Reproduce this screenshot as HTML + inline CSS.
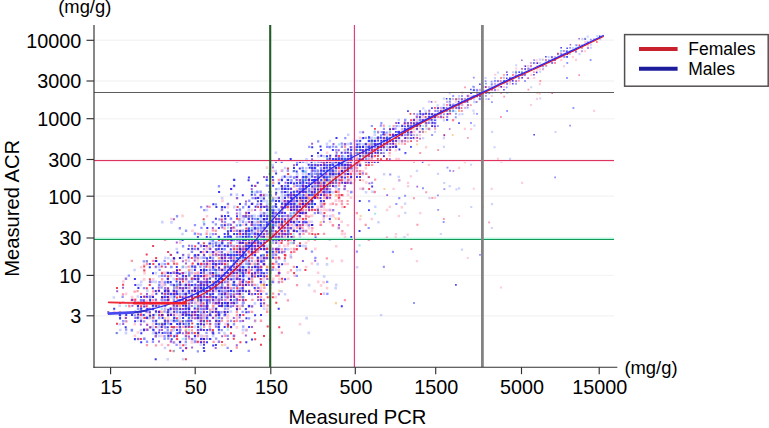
<!DOCTYPE html>
<html><head><meta charset="utf-8"><title>Measured ACR vs Measured PCR</title>
<style>
html,body{margin:0;padding:0;background:#fff;}
body{width:769px;height:428px;overflow:hidden;}
svg{display:block;font-family:"Liberation Sans",sans-serif;}
</style></head><body>
<svg width="769" height="428" viewBox="0 0 769 428">
<rect width="769" height="428" fill="#fff"/>
<g stroke="#f5f5f5" stroke-width="1.4"><line x1="95" x2="614" y1="40.3" y2="40.3"/><line x1="95" x2="614" y1="81.0" y2="81.0"/><line x1="95" x2="614" y1="118.7" y2="118.7"/><line x1="95" x2="614" y1="159.5" y2="159.5"/><line x1="95" x2="614" y1="196.2" y2="196.2"/><line x1="95" x2="614" y1="238.0" y2="238.0"/><line x1="95" x2="614" y1="275.4" y2="275.4"/><line x1="95" x2="614" y1="315.8" y2="315.8"/></g>
<g><path fill="#f0102c" fill-opacity="0.80" d="M182.3,287.3h2.0v2.0h-2.0zM343.7,167.1h2.0v2.0h-2.0zM292.9,220.7h2.0v2.0h-2.0zM176.2,304.7h2.0v2.0h-2.0zM281.0,239.4h2.0v2.0h-2.0zM323.3,193.9h2.0v2.0h-2.0zM191.7,262.5h2.0v2.0h-2.0zM176.0,296.4h2.0v2.0h-2.0zM194.2,245.3h2.0v2.0h-2.0zM244.7,248.2h2.0v2.0h-2.0zM299.1,206.0h2.0v2.0h-2.0zM193.9,332.1h2.0v2.0h-2.0zM305.0,199.9h2.0v2.0h-2.0zM340.6,193.9h2.0v2.0h-2.0zM173.2,293.1h2.0v2.0h-2.0zM557.3,53.0h1.5v1.5h-1.5zM242.1,284.4h2.0v2.0h-2.0zM293.1,271.9h2.0v2.0h-2.0zM202.6,302.3h2.0v2.0h-2.0zM455.3,98.7h1.6v1.6h-1.6zM280.9,217.9h2.0v2.0h-2.0zM317.1,194.0h2.0v2.0h-2.0zM358.6,151.9h1.9v1.9h-1.9zM226.8,239.1h2.0v2.0h-2.0zM407.5,128.5h1.7v1.7h-1.7zM221.4,239.4h2.0v2.0h-2.0zM376.8,143.0h1.8v1.8h-1.8zM173.2,325.9h2.0v2.0h-2.0zM289.9,208.9h2.0v2.0h-2.0zM274.9,248.1h2.0v2.0h-2.0zM247.7,250.5h2.0v2.0h-2.0zM215.2,274.4h2.0v2.0h-2.0zM244.9,214.8h2.0v2.0h-2.0zM433.9,116.0h1.7v1.7h-1.7zM329.1,173.1h2.0v2.0h-2.0zM209.2,322.9h2.0v2.0h-2.0zM236.5,268.9h2.0v2.0h-2.0zM278.1,271.7h2.0v2.0h-2.0zM361.9,149.5h1.9v1.9h-1.9zM181.4,272.3h2.0v2.0h-2.0zM440.0,110.3h1.6v1.6h-1.6zM232.7,293.4h2.0v2.0h-2.0zM394.9,134.1h1.8v1.8h-1.8zM200.0,304.4h2.0v2.0h-2.0zM116.0,287.0h2.0v2.0h-2.0zM238.9,248.3h2.0v2.0h-2.0zM371.0,161.1h1.9v1.9h-1.9zM215.0,302.1h2.0v2.0h-2.0zM145.8,287.3h2.0v2.0h-2.0zM377.1,146.0h1.8v1.8h-1.8zM251.0,242.2h2.0v2.0h-2.0zM596.1,41.2h1.5v1.5h-1.5zM191.2,295.9h2.0v2.0h-2.0zM278.2,326.3h2.0v2.0h-2.0zM185.0,304.5h2.0v2.0h-2.0zM337.8,167.0h2.0v2.0h-2.0zM347.4,161.1h1.9v1.9h-1.9zM343.6,205.9h2.0v2.0h-2.0zM316.3,196.6h2.0v2.0h-2.0zM551.4,92.2h1.5v1.5h-1.5zM203.4,274.8h2.0v2.0h-2.0zM424.7,116.0h1.7v1.7h-1.7zM188.0,283.8h2.0v2.0h-2.0zM376.9,157.9h1.8v1.8h-1.8zM199.9,281.2h2.0v2.0h-2.0zM217.6,322.8h2.0v2.0h-2.0zM271.9,220.9h2.0v2.0h-2.0zM374.0,127.9h1.9v1.9h-1.9zM140.1,305.2h2.0v2.0h-2.0zM317.3,185.0h2.0v2.0h-2.0zM236.1,272.0h2.0v2.0h-2.0zM304.9,217.7h2.0v2.0h-2.0zM166.9,299.2h2.0v2.0h-2.0zM182.0,280.6h2.0v2.0h-2.0zM311.1,191.1h2.0v2.0h-2.0zM404.3,137.4h1.7v1.7h-1.7zM409.6,113.1h1.7v1.7h-1.7zM167.1,275.2h2.0v2.0h-2.0zM262.9,245.0h2.0v2.0h-2.0zM271.9,296.2h2.0v2.0h-2.0zM283.8,230.0h2.0v2.0h-2.0zM299.1,211.8h2.0v2.0h-2.0zM389.4,134.1h1.8v1.8h-1.8zM302.0,206.1h2.0v2.0h-2.0zM221.0,341.1h2.0v2.0h-2.0zM158.1,314.1h2.0v2.0h-2.0zM236.1,217.8h2.0v2.0h-2.0zM181.9,320.2h2.0v2.0h-2.0zM145.6,316.9h2.0v2.0h-2.0zM134.2,298.7h2.0v2.0h-2.0zM377.1,155.1h1.8v1.8h-1.8zM284.4,254.6h2.0v2.0h-2.0zM260.0,233.1h2.0v2.0h-2.0zM313.6,193.8h2.0v2.0h-2.0zM175.9,317.3h2.0v2.0h-2.0zM334.9,179.0h2.0v2.0h-2.0zM206.0,295.9h2.0v2.0h-2.0zM284.2,202.7h2.0v2.0h-2.0zM283.9,254.0h2.0v2.0h-2.0zM193.7,290.3h2.0v2.0h-2.0zM368.0,155.2h1.9v1.9h-1.9zM296.1,217.9h2.0v2.0h-2.0zM149.2,302.3h2.0v2.0h-2.0zM374.0,149.0h1.9v1.9h-1.9zM358.7,172.8h1.9v1.9h-1.9zM230.0,332.2h2.0v2.0h-2.0zM190.9,277.5h2.0v2.0h-2.0zM220.8,253.9h2.0v2.0h-2.0zM172.8,302.1h2.0v2.0h-2.0zM304.8,203.0h2.0v2.0h-2.0zM251.2,250.9h2.0v2.0h-2.0zM160.8,265.5h2.0v2.0h-2.0zM199.9,263.0h2.0v2.0h-2.0zM266.7,296.2h2.0v2.0h-2.0zM301.8,224.1h2.0v2.0h-2.0zM184.9,358.3h2.0v2.0h-2.0zM193.9,313.9h2.0v2.0h-2.0zM212.2,299.0h2.0v2.0h-2.0zM199.8,287.4h2.0v2.0h-2.0zM293.0,229.9h2.0v2.0h-2.0zM283.9,257.3h2.0v2.0h-2.0zM229.7,241.9h2.0v2.0h-2.0zM197.1,299.4h2.0v2.0h-2.0zM317.6,181.9h2.0v2.0h-2.0zM184.6,296.3h2.0v2.0h-2.0zM311.1,199.5h2.0v2.0h-2.0zM242.0,272.0h2.0v2.0h-2.0zM349.7,182.2h1.9v1.9h-1.9zM407.1,124.7h1.7v1.7h-1.7zM266.7,325.4h2.0v2.0h-2.0zM329.3,194.0h2.0v2.0h-2.0zM203.3,245.1h2.0v2.0h-2.0zM232.8,337.7h2.0v2.0h-2.0zM239.2,233.0h2.0v2.0h-2.0zM251.2,241.8h2.0v2.0h-2.0zM461.1,98.2h1.6v1.6h-1.6zM166.9,295.9h2.0v2.0h-2.0zM286.9,233.3h2.0v2.0h-2.0zM248.7,262.9h2.0v2.0h-2.0zM305.5,196.8h2.0v2.0h-2.0zM167.1,251.0h2.0v2.0h-2.0zM323.5,202.8h2.0v2.0h-2.0zM232.6,226.5h2.0v2.0h-2.0zM371.2,148.8h1.9v1.9h-1.9zM173.1,262.8h2.0v2.0h-2.0zM424.9,119.3h1.7v1.7h-1.7zM322.8,185.0h2.0v2.0h-2.0zM395.2,140.0h1.8v1.8h-1.8zM266.1,257.0h2.0v2.0h-2.0zM199.9,286.7h2.0v2.0h-2.0zM209.5,295.7h2.0v2.0h-2.0zM281.2,226.7h2.0v2.0h-2.0zM260.2,266.0h2.0v2.0h-2.0zM331.9,181.9h2.0v2.0h-2.0zM143.4,317.1h2.0v2.0h-2.0zM316.9,209.2h2.0v2.0h-2.0zM178.7,268.9h2.0v2.0h-2.0zM236.4,287.3h2.0v2.0h-2.0zM265.9,275.2h2.0v2.0h-2.0zM500.3,86.1h1.5v1.5h-1.5zM302.1,185.5h2.0v2.0h-2.0zM218.0,280.9h2.0v2.0h-2.0zM374.2,155.0h1.8v1.8h-1.8zM350.1,176.3h1.9v1.9h-1.9zM392.0,146.1h1.8v1.8h-1.8zM236.6,206.0h2.0v2.0h-2.0zM262.7,194.2h2.0v2.0h-2.0zM161.0,323.1h2.0v2.0h-2.0zM119.1,302.0h2.0v2.0h-2.0zM212.0,292.8h2.0v2.0h-2.0zM199.7,299.0h2.0v2.0h-2.0zM220.8,218.5h2.0v2.0h-2.0zM263.1,233.1h2.0v2.0h-2.0zM284.0,220.6h2.0v2.0h-2.0zM241.9,259.9h2.0v2.0h-2.0zM392.2,134.1h1.8v1.8h-1.8zM304.9,206.0h2.0v2.0h-2.0zM443.5,134.2h1.6v1.6h-1.6zM470.2,92.1h1.5v1.5h-1.5zM275.4,250.8h2.0v2.0h-2.0zM283.9,190.9h2.0v2.0h-2.0zM578.6,44.6h1.5v1.5h-1.5zM484.9,86.5h1.5v1.5h-1.5zM268.9,251.2h2.0v2.0h-2.0zM275.3,301.7h2.0v2.0h-2.0zM298.9,197.1h2.0v2.0h-2.0zM386.0,158.1h1.8v1.8h-1.8zM311.1,208.8h2.0v2.0h-2.0zM311.3,232.9h2.0v2.0h-2.0zM337.8,196.7h2.0v2.0h-2.0zM161.3,302.3h2.0v2.0h-2.0zM362.4,155.0h1.9v1.9h-1.9zM202.8,319.7h2.0v2.0h-2.0zM272.0,224.4h2.0v2.0h-2.0zM190.7,296.1h2.0v2.0h-2.0zM392.2,142.5h1.8v1.8h-1.8zM143.2,265.5h2.0v2.0h-2.0zM224.2,266.2h2.0v2.0h-2.0zM239.1,251.1h2.0v2.0h-2.0zM328.9,185.1h2.0v2.0h-2.0zM191.2,326.0h2.0v2.0h-2.0zM410.2,140.3h1.7v1.7h-1.7zM200.3,262.9h2.0v2.0h-2.0zM190.8,325.9h2.0v2.0h-2.0zM179.1,257.1h2.0v2.0h-2.0zM188.0,283.7h2.0v2.0h-2.0zM292.9,230.0h2.0v2.0h-2.0zM236.0,266.1h2.0v2.0h-2.0zM188.1,313.7h2.0v2.0h-2.0zM116.0,322.8h2.0v2.0h-2.0zM215.0,307.9h2.0v2.0h-2.0zM203.2,290.0h2.0v2.0h-2.0zM196.9,293.2h2.0v2.0h-2.0zM203.1,338.1h2.0v2.0h-2.0zM250.8,223.6h2.0v2.0h-2.0zM299.4,203.0h2.0v2.0h-2.0zM235.9,260.0h2.0v2.0h-2.0zM328.9,161.0h2.0v2.0h-2.0zM383.0,136.9h1.8v1.8h-1.8zM263.0,335.0h2.0v2.0h-2.0zM254.0,275.4h2.0v2.0h-2.0zM485.1,86.3h1.5v1.5h-1.5zM265.7,230.0h2.0v2.0h-2.0zM169.3,349.8h2.0v2.0h-2.0zM298.7,191.0h2.0v2.0h-2.0zM346.8,175.9h1.9v1.9h-1.9zM148.8,283.9h2.0v2.0h-2.0zM175.9,335.3h2.0v2.0h-2.0zM139.9,338.0h2.0v2.0h-2.0zM251.1,221.1h2.0v2.0h-2.0zM164.0,290.0h2.0v2.0h-2.0zM346.5,181.8h1.9v1.9h-1.9zM170.0,254.1h2.0v2.0h-2.0zM311.0,224.0h2.0v2.0h-2.0zM299.0,203.0h2.0v2.0h-2.0zM319.6,185.2h2.0v2.0h-2.0zM172.8,257.2h2.0v2.0h-2.0zM253.6,241.7h2.0v2.0h-2.0zM460.8,107.2h1.6v1.6h-1.6zM286.9,206.0h2.0v2.0h-2.0zM143.3,269.4h2.0v2.0h-2.0zM208.4,296.0h2.0v2.0h-2.0zM340.6,179.2h2.0v2.0h-2.0zM227.0,286.8h2.0v2.0h-2.0zM145.6,305.3h2.0v2.0h-2.0zM338.1,155.0h2.0v2.0h-2.0zM247.8,271.8h2.0v2.0h-2.0zM278.2,233.0h2.0v2.0h-2.0zM211.9,329.0h2.0v2.0h-2.0zM316.7,184.9h2.0v2.0h-2.0zM164.2,292.7h2.0v2.0h-2.0zM320.0,293.1h2.0v2.0h-2.0zM248.0,259.8h2.0v2.0h-2.0zM322.6,161.4h2.0v2.0h-2.0zM163.8,293.0h2.0v2.0h-2.0zM368.0,176.2h1.9v1.9h-1.9zM365.2,164.2h1.9v1.9h-1.9zM287.3,239.1h2.0v2.0h-2.0zM199.8,320.2h2.0v2.0h-2.0zM380.5,152.2h1.8v1.8h-1.8zM269.1,202.8h2.0v2.0h-2.0zM233.3,248.1h2.0v2.0h-2.0zM247.8,244.9h2.0v2.0h-2.0zM242.1,299.2h2.0v2.0h-2.0zM238.9,293.1h2.0v2.0h-2.0zM199.4,296.0h2.0v2.0h-2.0zM227.0,283.8h2.0v2.0h-2.0zM170.6,326.1h2.0v2.0h-2.0zM416.4,137.0h1.7v1.7h-1.7zM302.0,218.0h2.0v2.0h-2.0zM217.7,313.5h2.0v2.0h-2.0zM244.8,299.0h2.0v2.0h-2.0zM223.9,286.9h2.0v2.0h-2.0zM319.8,188.1h2.0v2.0h-2.0zM242.3,313.9h2.0v2.0h-2.0zM269.1,296.1h2.0v2.0h-2.0zM238.9,230.1h2.0v2.0h-2.0zM268.8,220.6h2.0v2.0h-2.0zM283.6,200.0h2.0v2.0h-2.0zM296.1,224.0h2.0v2.0h-2.0zM368.2,188.0h1.9v1.9h-1.9zM131.3,298.9h2.0v2.0h-2.0zM389.1,128.2h1.8v1.8h-1.8zM334.8,190.8h2.0v2.0h-2.0zM239.4,341.3h2.0v2.0h-2.0zM331.8,182.1h2.0v2.0h-2.0zM230.1,227.1h2.0v2.0h-2.0zM221.1,305.3h2.0v2.0h-2.0zM280.5,242.1h2.0v2.0h-2.0zM173.1,290.4h2.0v2.0h-2.0zM248.0,266.2h2.0v2.0h-2.0zM263.0,283.8h2.0v2.0h-2.0zM296.5,215.1h2.0v2.0h-2.0zM314.3,194.4h2.0v2.0h-2.0zM266.0,254.2h2.0v2.0h-2.0zM152.1,245.1h2.0v2.0h-2.0zM382.6,146.1h1.8v1.8h-1.8zM272.3,266.2h2.0v2.0h-2.0zM185.0,299.1h2.0v2.0h-2.0zM353.2,160.9h1.9v1.9h-1.9zM313.8,196.4h2.0v2.0h-2.0zM352.8,170.0h1.9v1.9h-1.9zM262.9,218.0h2.0v2.0h-2.0zM140.0,313.7h2.0v2.0h-2.0zM259.6,266.3h2.0v2.0h-2.0zM275.4,218.0h2.0v2.0h-2.0zM250.7,224.0h2.0v2.0h-2.0zM419.1,122.3h1.7v1.7h-1.7zM152.3,262.9h2.0v2.0h-2.0zM170.1,313.8h2.0v2.0h-2.0zM338.4,181.9h2.0v2.0h-2.0zM176.1,338.1h2.0v2.0h-2.0zM236.0,308.3h2.0v2.0h-2.0zM259.7,277.9h2.0v2.0h-2.0zM206.2,262.8h2.0v2.0h-2.0zM190.8,257.1h2.0v2.0h-2.0zM149.4,326.3h2.0v2.0h-2.0zM188.1,284.1h2.0v2.0h-2.0zM193.6,311.2h2.0v2.0h-2.0zM230.0,326.2h2.0v2.0h-2.0zM169.9,334.7h2.0v2.0h-2.0zM257.2,292.9h2.0v2.0h-2.0zM289.9,233.1h2.0v2.0h-2.0zM206.1,320.0h2.0v2.0h-2.0zM335.3,190.9h2.0v2.0h-2.0zM359.1,179.2h1.9v1.9h-1.9zM158.3,301.9h2.0v2.0h-2.0zM281.2,224.4h2.0v2.0h-2.0zM449.4,112.9h1.6v1.6h-1.6zM184.9,284.1h2.0v2.0h-2.0zM304.9,247.7h2.0v2.0h-2.0zM299.6,199.5h2.0v2.0h-2.0zM284.0,226.7h2.0v2.0h-2.0zM250.7,224.0h2.0v2.0h-2.0zM479.2,95.2h1.5v1.5h-1.5zM325.8,187.8h2.0v2.0h-2.0zM161.4,313.9h2.0v2.0h-2.0zM175.6,278.0h2.0v2.0h-2.0zM196.9,296.3h2.0v2.0h-2.0zM254.0,236.0h2.0v2.0h-2.0zM286.6,206.2h2.0v2.0h-2.0zM346.9,167.4h1.9v1.9h-1.9zM442.7,116.6h1.6v1.6h-1.6zM314.1,209.1h2.0v2.0h-2.0zM344.2,169.9h1.9v1.9h-1.9zM304.4,269.1h2.0v2.0h-2.0zM271.7,262.8h2.0v2.0h-2.0zM352.9,182.2h1.9v1.9h-1.9zM361.9,152.0h1.9v1.9h-1.9zM332.0,173.0h2.0v2.0h-2.0zM236.3,305.2h2.0v2.0h-2.0zM145.7,253.6h2.0v2.0h-2.0zM272.0,226.7h2.0v2.0h-2.0zM154.9,326.0h2.0v2.0h-2.0zM416.3,127.9h1.7v1.7h-1.7zM260.0,343.8h2.0v2.0h-2.0zM283.9,233.1h2.0v2.0h-2.0zM280.8,221.7h2.0v2.0h-2.0zM161.3,296.4h2.0v2.0h-2.0zM334.9,176.2h2.0v2.0h-2.0zM172.6,304.5h2.0v2.0h-2.0zM241.5,271.8h2.0v2.0h-2.0zM143.4,295.8h2.0v2.0h-2.0zM181.5,302.0h2.0v2.0h-2.0zM193.3,277.8h2.0v2.0h-2.0zM281.4,208.5h2.0v2.0h-2.0zM349.5,163.9h1.9v1.9h-1.9zM257.0,245.0h2.0v2.0h-2.0zM226.9,325.7h2.0v2.0h-2.0zM161.0,272.3h2.0v2.0h-2.0zM338.5,179.3h2.0v2.0h-2.0zM316.7,184.8h2.0v2.0h-2.0zM314.3,233.4h2.0v2.0h-2.0zM239.3,229.8h2.0v2.0h-2.0zM521.2,68.1h1.5v1.5h-1.5zM179.1,296.1h2.0v2.0h-2.0zM251.2,238.9h2.0v2.0h-2.0zM182.2,344.3h2.0v2.0h-2.0zM202.9,242.2h2.0v2.0h-2.0zM181.8,308.1h2.0v2.0h-2.0zM253.8,332.1h2.0v2.0h-2.0zM200.2,262.8h2.0v2.0h-2.0zM263.1,256.9h2.0v2.0h-2.0zM295.9,248.3h2.0v2.0h-2.0zM179.2,302.0h2.0v2.0h-2.0zM389.3,149.3h1.8v1.8h-1.8zM322.8,190.9h2.0v2.0h-2.0zM212.2,298.9h2.0v2.0h-2.0zM350.1,164.3h1.9v1.9h-1.9zM230.5,301.9h2.0v2.0h-2.0zM167.2,313.9h2.0v2.0h-2.0zM275.0,230.5h2.0v2.0h-2.0zM383.1,139.7h1.8v1.8h-1.8zM155.2,305.1h2.0v2.0h-2.0zM236.2,248.3h2.0v2.0h-2.0zM200.1,287.4h2.0v2.0h-2.0zM256.6,262.9h2.0v2.0h-2.0zM155.1,257.0h2.0v2.0h-2.0zM268.7,236.2h2.0v2.0h-2.0zM238.8,274.8h2.0v2.0h-2.0zM388.9,133.7h1.8v1.8h-1.8zM277.8,256.5h2.0v2.0h-2.0zM346.7,163.9h1.9v1.9h-1.9zM299.0,202.8h2.0v2.0h-2.0zM500.3,77.3h1.5v1.5h-1.5zM383.7,133.7h1.8v1.8h-1.8zM154.7,260.0h2.0v2.0h-2.0zM245.1,269.2h2.0v2.0h-2.0zM227.1,323.7h2.0v2.0h-2.0zM166.8,272.1h2.0v2.0h-2.0zM287.1,239.3h2.0v2.0h-2.0zM193.9,290.1h2.0v2.0h-2.0zM190.8,296.1h2.0v2.0h-2.0zM223.6,310.8h2.0v2.0h-2.0zM181.7,278.1h2.0v2.0h-2.0zM148.9,278.3h2.0v2.0h-2.0zM302.0,202.4h2.0v2.0h-2.0zM322.9,182.6h2.0v2.0h-2.0zM323.4,212.1h2.0v2.0h-2.0zM206.2,283.8h2.0v2.0h-2.0zM160.8,314.2h2.0v2.0h-2.0zM278.0,197.1h2.0v2.0h-2.0zM187.8,326.1h2.0v2.0h-2.0zM326.2,161.1h2.0v2.0h-2.0zM269.3,238.6h2.0v2.0h-2.0zM226.5,302.0h2.0v2.0h-2.0zM224.0,257.1h2.0v2.0h-2.0zM281.1,277.8h2.0v2.0h-2.0zM290.2,251.3h2.0v2.0h-2.0zM503.3,80.2h1.5v1.5h-1.5zM410.7,130.9h1.7v1.7h-1.7zM247.4,281.5h2.0v2.0h-2.0zM284.0,205.6h2.0v2.0h-2.0zM314.2,182.2h2.0v2.0h-2.0zM214.9,263.0h2.0v2.0h-2.0zM350.1,164.2h1.9v1.9h-1.9zM181.7,271.9h2.0v2.0h-2.0zM239.3,242.1h2.0v2.0h-2.0zM377.1,137.0h1.8v1.8h-1.8zM293.0,239.3h2.0v2.0h-2.0zM367.9,164.2h1.9v1.9h-1.9zM202.7,218.2h2.0v2.0h-2.0zM196.8,340.7h2.0v2.0h-2.0zM256.9,259.7h2.0v2.0h-2.0zM224.2,292.5h2.0v2.0h-2.0zM235.9,262.7h2.0v2.0h-2.0zM185.1,347.3h2.0v2.0h-2.0zM323.7,178.9h2.0v2.0h-2.0zM293.0,193.8h2.0v2.0h-2.0zM359.1,173.1h1.9v1.9h-1.9zM281.2,211.7h2.0v2.0h-2.0zM254.2,242.2h2.0v2.0h-2.0zM236.1,245.1h2.0v2.0h-2.0zM407.2,122.3h1.7v1.7h-1.7zM257.1,275.2h2.0v2.0h-2.0zM167.6,298.7h2.0v2.0h-2.0zM245.3,227.5h2.0v2.0h-2.0zM199.9,281.7h2.0v2.0h-2.0zM188.0,302.5h2.0v2.0h-2.0zM254.2,251.2h2.0v2.0h-2.0zM238.9,284.0h2.0v2.0h-2.0zM215.1,253.5h2.0v2.0h-2.0zM202.9,311.1h2.0v2.0h-2.0zM287.0,167.5h2.0v2.0h-2.0zM253.8,241.6h2.0v2.0h-2.0zM218.0,239.0h2.0v2.0h-2.0zM175.9,269.5h2.0v2.0h-2.0zM172.6,326.2h2.0v2.0h-2.0zM257.1,206.1h2.0v2.0h-2.0zM152.3,316.4h2.0v2.0h-2.0zM365.5,160.7h1.9v1.9h-1.9zM214.9,314.4h2.0v2.0h-2.0zM305.1,176.4h2.0v2.0h-2.0zM317.2,233.0h2.0v2.0h-2.0zM238.7,289.9h2.0v2.0h-2.0zM229.9,269.2h2.0v2.0h-2.0zM220.8,275.1h2.0v2.0h-2.0zM265.7,247.9h2.0v2.0h-2.0zM191.2,322.5h2.0v2.0h-2.0zM410.2,119.3h1.7v1.7h-1.7zM212.2,272.0h2.0v2.0h-2.0zM167.3,262.7h2.0v2.0h-2.0zM557.1,52.7h1.5v1.5h-1.5zM190.7,278.1h2.0v2.0h-2.0zM389.2,140.1h1.8v1.8h-1.8zM167.0,287.2h2.0v2.0h-2.0zM122.1,283.8h2.0v2.0h-2.0zM241.6,241.7h2.0v2.0h-2.0zM212.1,272.5h2.0v2.0h-2.0zM316.6,185.2h2.0v2.0h-2.0zM269.1,235.7h2.0v2.0h-2.0zM281.5,206.6h2.0v2.0h-2.0zM223.9,262.9h2.0v2.0h-2.0zM254.2,338.2h2.0v2.0h-2.0zM268.9,254.0h2.0v2.0h-2.0zM266.1,247.6h2.0v2.0h-2.0zM308.2,209.2h2.0v2.0h-2.0zM287.1,172.9h2.0v2.0h-2.0zM248.0,281.1h2.0v2.0h-2.0zM332.1,170.2h2.0v2.0h-2.0zM371.1,161.0h1.9v1.9h-1.9zM380.1,158.2h1.8v1.8h-1.8zM338.2,196.6h2.0v2.0h-2.0zM434.1,107.0h1.7v1.7h-1.7zM238.7,298.9h2.0v2.0h-2.0zM187.6,332.3h2.0v2.0h-2.0zM245.2,242.2h2.0v2.0h-2.0zM404.5,136.9h1.7v1.7h-1.7zM350.0,173.0h1.9v1.9h-1.9zM233.1,248.1h2.0v2.0h-2.0zM205.5,265.8h2.0v2.0h-2.0zM404.0,131.2h1.8v1.8h-1.8zM212.3,281.0h2.0v2.0h-2.0zM196.7,317.0h2.0v2.0h-2.0zM233.3,320.2h2.0v2.0h-2.0zM281.4,232.9h2.0v2.0h-2.0zM299.0,242.2h2.0v2.0h-2.0zM403.8,122.7h1.8v1.8h-1.8zM350.0,164.2h1.9v1.9h-1.9zM439.9,110.1h1.6v1.6h-1.6zM280.7,223.9h2.0v2.0h-2.0z"/>
<path fill="#f82048" fill-opacity="0.45" d="M203.1,280.8h2.3v2.3h-2.3zM382.7,124.6h2.1v2.1h-2.1zM373.3,155.3h2.2v2.2h-2.2zM244.7,245.1h2.3v2.3h-2.3zM394.7,143.1h2.1v2.1h-2.1zM217.9,266.4h2.3v2.3h-2.3zM343.4,187.8h2.3v2.3h-2.3zM343.9,143.0h2.3v2.3h-2.3zM241.9,283.8h2.3v2.3h-2.3zM304.5,212.1h2.3v2.3h-2.3zM382.8,155.1h2.1v2.1h-2.1zM151.7,298.9h2.3v2.3h-2.3zM341.0,179.0h2.3v2.3h-2.3zM238.9,269.0h2.3v2.3h-2.3zM154.6,331.8h2.3v2.3h-2.3zM260.1,221.0h2.3v2.3h-2.3zM346.5,202.9h2.2v2.2h-2.2zM296.0,209.1h2.3v2.3h-2.3zM377.1,160.5h2.1v2.1h-2.1zM325.7,257.2h2.3v2.3h-2.3zM235.9,251.2h2.3v2.3h-2.3zM292.8,265.8h2.3v2.3h-2.3zM247.6,241.8h2.3v2.3h-2.3zM215.0,286.8h2.3v2.3h-2.3zM367.9,151.8h2.2v2.2h-2.2zM500.2,92.1h1.8v1.8h-1.8zM293.1,250.6h2.3v2.3h-2.3zM425.1,112.8h2.0v2.0h-2.0zM299.3,208.7h2.3v2.3h-2.3zM211.8,274.5h2.3v2.3h-2.3zM199.6,340.6h2.3v2.3h-2.3zM425.3,122.3h2.0v2.0h-2.0zM383.4,137.2h2.1v2.1h-2.1zM184.2,292.8h2.3v2.3h-2.3zM256.7,241.8h2.3v2.3h-2.3zM151.7,295.8h2.3v2.3h-2.3zM242.1,296.0h2.3v2.3h-2.3zM442.9,109.8h1.9v1.9h-1.9zM286.7,214.8h2.3v2.3h-2.3zM223.5,227.2h2.3v2.3h-2.3zM205.9,277.8h2.3v2.3h-2.3zM184.9,334.5h2.3v2.3h-2.3zM439.9,110.3h1.9v1.9h-1.9zM322.8,184.9h2.3v2.3h-2.3zM374.0,149.2h2.1v2.1h-2.1zM325.3,172.8h2.3v2.3h-2.3zM229.9,287.1h2.3v2.3h-2.3zM152.3,313.8h2.3v2.3h-2.3zM163.8,320.3h2.3v2.3h-2.3zM581.0,50.5h1.8v1.8h-1.8zM149.0,281.0h2.3v2.3h-2.3zM248.1,269.1h2.3v2.3h-2.3zM329.0,166.7h2.3v2.3h-2.3zM176.2,277.9h2.3v2.3h-2.3zM224.0,263.4h2.3v2.3h-2.3zM269.2,244.8h2.3v2.3h-2.3zM268.8,338.4h2.3v2.3h-2.3zM323.1,196.7h2.3v2.3h-2.3zM145.9,262.9h2.3v2.3h-2.3zM347.0,158.1h2.2v2.2h-2.2zM247.8,211.7h2.3v2.3h-2.3zM269.0,286.7h2.3v2.3h-2.3zM280.8,232.3h2.3v2.3h-2.3zM355.8,212.0h2.2v2.2h-2.2zM187.7,286.9h2.3v2.3h-2.3zM211.9,295.9h2.3v2.3h-2.3zM383.0,142.9h2.1v2.1h-2.1zM202.9,325.7h2.3v2.3h-2.3zM464.1,86.5h1.8v1.8h-1.8zM434.0,116.0h2.0v2.0h-2.0zM259.8,319.6h2.3v2.3h-2.3zM209.0,329.0h2.3v2.3h-2.3zM431.3,197.0h2.0v2.0h-2.0zM406.4,137.1h2.0v2.0h-2.0zM205.5,232.6h2.3v2.3h-2.3zM349.5,152.3h2.2v2.2h-2.2zM238.0,218.1h2.3v2.3h-2.3zM305.1,202.8h2.3v2.3h-2.3zM235.9,319.6h2.3v2.3h-2.3zM223.8,223.5h2.3v2.3h-2.3zM220.4,262.4h2.3v2.3h-2.3zM145.8,343.9h2.3v2.3h-2.3zM217.8,299.0h2.3v2.3h-2.3zM313.8,179.0h2.3v2.3h-2.3zM197.0,331.5h2.3v2.3h-2.3zM362.2,151.9h2.2v2.2h-2.2zM298.6,191.0h2.3v2.3h-2.3zM266.0,310.6h2.3v2.3h-2.3zM304.9,229.7h2.3v2.3h-2.3zM256.8,229.7h2.3v2.3h-2.3zM301.9,203.1h2.3v2.3h-2.3zM184.7,329.5h2.3v2.3h-2.3zM347.2,179.0h2.2v2.2h-2.2zM337.5,190.6h2.3v2.3h-2.3zM415.9,121.9h2.0v2.0h-2.0zM290.0,205.8h2.3v2.3h-2.3zM412.8,118.9h2.0v2.0h-2.0zM197.1,296.0h2.3v2.3h-2.3zM202.2,304.6h2.3v2.3h-2.3zM419.2,152.1h2.0v2.0h-2.0zM400.7,140.1h2.1v2.1h-2.1zM191.1,313.8h2.3v2.3h-2.3zM205.8,262.6h2.3v2.3h-2.3zM203.1,280.8h2.3v2.3h-2.3zM352.9,160.2h2.2v2.2h-2.2zM238.8,268.8h2.3v2.3h-2.3zM461.0,110.0h1.9v1.9h-1.9zM527.5,88.7h1.8v1.8h-1.8zM199.8,317.2h2.3v2.3h-2.3zM215.0,263.2h2.3v2.3h-2.3zM212.5,340.8h2.3v2.3h-2.3zM215.3,319.6h2.3v2.3h-2.3zM256.8,221.0h2.3v2.3h-2.3zM256.8,241.6h2.3v2.3h-2.3zM202.7,338.0h2.3v2.3h-2.3zM208.4,299.3h2.3v2.3h-2.3zM178.8,283.6h2.3v2.3h-2.3zM196.7,254.0h2.3v2.3h-2.3zM182.0,325.7h2.3v2.3h-2.3zM235.6,346.5h2.3v2.3h-2.3zM320.2,176.0h2.3v2.3h-2.3zM301.6,208.9h2.3v2.3h-2.3zM554.1,61.9h1.8v1.8h-1.8zM293.0,247.8h2.3v2.3h-2.3zM301.4,226.7h2.3v2.3h-2.3zM148.6,307.8h2.3v2.3h-2.3zM167.1,343.9h2.3v2.3h-2.3zM536.4,62.1h1.8v1.8h-1.8zM181.6,301.8h2.3v2.3h-2.3zM290.0,236.0h2.3v2.3h-2.3zM233.1,334.6h2.3v2.3h-2.3zM205.4,244.9h2.3v2.3h-2.3zM179.0,278.2h2.3v2.3h-2.3zM325.6,194.0h2.3v2.3h-2.3zM233.2,269.0h2.3v2.3h-2.3zM470.0,104.2h1.8v1.8h-1.8zM218.0,301.5h2.3v2.3h-2.3zM346.5,199.9h2.2v2.2h-2.2zM334.7,172.5h2.3v2.3h-2.3zM290.1,193.8h2.3v2.3h-2.3zM337.9,170.2h2.3v2.3h-2.3zM308.3,202.6h2.3v2.3h-2.3zM269.0,245.1h2.3v2.3h-2.3zM331.5,167.1h2.3v2.3h-2.3zM214.6,229.6h2.3v2.3h-2.3zM226.7,275.1h2.3v2.3h-2.3zM200.4,263.1h2.3v2.3h-2.3zM397.8,130.8h2.1v2.1h-2.1zM373.6,149.3h2.2v2.2h-2.2zM169.9,322.7h2.3v2.3h-2.3zM292.7,235.7h2.3v2.3h-2.3zM280.7,223.7h2.3v2.3h-2.3zM166.7,262.8h2.3v2.3h-2.3zM211.8,316.7h2.3v2.3h-2.3zM364.7,155.1h2.2v2.2h-2.2zM449.1,110.1h1.9v1.9h-1.9zM172.5,349.9h2.3v2.3h-2.3zM224.1,298.8h2.3v2.3h-2.3zM151.8,259.8h2.3v2.3h-2.3zM214.9,280.5h2.3v2.3h-2.3zM208.9,262.7h2.3v2.3h-2.3zM413.1,121.9h2.0v2.0h-2.0zM298.5,232.9h2.3v2.3h-2.3zM526.7,70.8h1.8v1.8h-1.8zM440.2,116.0h1.9v1.9h-1.9zM199.6,287.0h2.3v2.3h-2.3zM269.0,190.7h2.3v2.3h-2.3zM263.2,286.6h2.3v2.3h-2.3zM259.7,214.8h2.3v2.3h-2.3zM305.0,194.0h2.3v2.3h-2.3zM172.9,271.8h2.3v2.3h-2.3zM259.9,265.5h2.3v2.3h-2.3zM248.1,289.6h2.3v2.3h-2.3zM406.8,130.8h2.0v2.0h-2.0zM320.0,188.1h2.3v2.3h-2.3zM211.6,286.5h2.3v2.3h-2.3zM313.7,187.7h2.3v2.3h-2.3zM178.8,320.3h2.3v2.3h-2.3zM406.8,140.4h2.0v2.0h-2.0zM152.1,290.3h2.3v2.3h-2.3zM215.1,310.8h2.3v2.3h-2.3zM365.0,172.7h2.2v2.2h-2.2zM130.7,259.8h2.3v2.3h-2.3zM367.7,238.9h2.2v2.2h-2.2zM257.0,269.1h2.3v2.3h-2.3zM208.5,298.6h2.3v2.3h-2.3zM466.9,137.0h1.8v1.8h-1.8zM305.1,193.6h2.3v2.3h-2.3zM452.3,119.0h1.9v1.9h-1.9zM292.9,205.5h2.3v2.3h-2.3zM371.1,163.9h2.2v2.2h-2.2zM401.0,139.7h2.1v2.1h-2.1zM488.2,221.5h1.8v1.8h-1.8zM277.7,271.8h2.3v2.3h-2.3zM236.3,292.7h2.3v2.3h-2.3zM341.2,229.9h2.3v2.3h-2.3zM343.8,169.8h2.3v2.3h-2.3zM196.6,341.0h2.3v2.3h-2.3zM226.7,244.6h2.3v2.3h-2.3zM358.3,161.0h2.2v2.2h-2.2zM235.7,197.0h2.3v2.3h-2.3zM281.0,251.0h2.3v2.3h-2.3zM263.0,247.9h2.3v2.3h-2.3zM269.0,203.0h2.3v2.3h-2.3zM437.2,116.1h1.9v1.9h-1.9zM125.3,320.2h2.3v2.3h-2.3zM283.7,238.8h2.3v2.3h-2.3zM247.6,251.3h2.3v2.3h-2.3zM292.5,208.5h2.3v2.3h-2.3zM253.7,283.7h2.3v2.3h-2.3zM409.7,137.1h2.0v2.0h-2.0zM329.2,181.6h2.3v2.3h-2.3zM161.0,278.0h2.3v2.3h-2.3zM326.1,187.8h2.3v2.3h-2.3zM215.1,302.0h2.3v2.3h-2.3zM521.5,74.1h1.8v1.8h-1.8zM257.3,287.0h2.3v2.3h-2.3zM334.7,181.7h2.3v2.3h-2.3zM319.5,223.8h2.3v2.3h-2.3zM337.7,226.6h2.3v2.3h-2.3zM292.9,185.2h2.3v2.3h-2.3zM205.8,307.2h2.3v2.3h-2.3zM457.7,107.1h1.9v1.9h-1.9zM403.9,143.0h2.1v2.1h-2.1zM208.4,205.7h2.3v2.3h-2.3zM191.2,298.5h2.3v2.3h-2.3zM412.9,197.3h2.0v2.0h-2.0zM172.6,271.3h2.3v2.3h-2.3zM364.6,223.8h2.2v2.2h-2.2zM305.1,230.1h2.3v2.3h-2.3zM431.3,124.9h2.0v2.0h-2.0zM221.0,262.6h2.3v2.3h-2.3zM232.9,265.6h2.3v2.3h-2.3zM296.0,205.6h2.3v2.3h-2.3zM262.8,298.7h2.3v2.3h-2.3zM364.9,143.1h2.2v2.2h-2.2zM392.2,133.6h2.1v2.1h-2.1zM217.9,244.9h2.3v2.3h-2.3zM197.2,272.3h2.3v2.3h-2.3zM184.9,259.3h2.3v2.3h-2.3zM289.5,227.2h2.3v2.3h-2.3zM211.7,229.3h2.3v2.3h-2.3zM178.5,301.7h2.3v2.3h-2.3zM280.5,205.5h2.3v2.3h-2.3zM392.6,125.0h2.1v2.1h-2.1zM442.9,218.1h1.9v1.9h-1.9zM238.9,241.8h2.3v2.3h-2.3zM178.9,283.7h2.3v2.3h-2.3zM244.5,247.9h2.3v2.3h-2.3zM299.1,196.8h2.3v2.3h-2.3zM167.0,295.9h2.3v2.3h-2.3zM298.8,224.5h2.3v2.3h-2.3zM242.0,248.2h2.3v2.3h-2.3zM278.0,257.1h2.3v2.3h-2.3zM407.0,130.5h2.0v2.0h-2.0zM467.4,95.2h1.8v1.8h-1.8zM518.0,79.8h1.8v1.8h-1.8zM197.1,332.1h2.3v2.3h-2.3zM323.0,185.1h2.3v2.3h-2.3zM265.9,265.8h2.3v2.3h-2.3zM148.6,313.7h2.3v2.3h-2.3zM274.5,257.1h2.3v2.3h-2.3zM187.8,331.8h2.3v2.3h-2.3zM481.9,98.2h1.8v1.8h-1.8zM280.5,185.0h2.3v2.3h-2.3zM295.9,284.0h2.3v2.3h-2.3zM482.0,206.3h1.8v1.8h-1.8zM260.0,281.1h2.3v2.3h-2.3zM247.5,262.8h2.3v2.3h-2.3zM187.6,265.5h2.3v2.3h-2.3zM169.8,301.7h2.3v2.3h-2.3zM370.4,151.6h2.2v2.2h-2.2zM277.5,218.1h2.3v2.3h-2.3zM410.4,247.9h2.0v2.0h-2.0zM412.9,118.9h2.0v2.0h-2.0zM194.0,272.2h2.3v2.3h-2.3zM272.0,196.8h2.3v2.3h-2.3zM313.7,181.8h2.3v2.3h-2.3zM256.5,232.7h2.3v2.3h-2.3zM341.4,194.1h2.3v2.3h-2.3zM524.3,73.7h1.8v1.8h-1.8zM254.2,289.2h2.3v2.3h-2.3zM355.6,160.9h2.2v2.2h-2.2zM434.2,127.8h1.9v1.9h-1.9zM299.2,226.6h2.3v2.3h-2.3zM343.6,184.9h2.3v2.3h-2.3zM331.8,224.3h2.3v2.3h-2.3zM358.5,152.1h2.2v2.2h-2.2zM515.1,79.9h1.8v1.8h-1.8zM290.0,236.2h2.3v2.3h-2.3zM187.6,296.1h2.3v2.3h-2.3zM316.9,196.9h2.3v2.3h-2.3zM325.6,197.2h2.3v2.3h-2.3zM322.6,190.9h2.3v2.3h-2.3zM383.2,142.9h2.1v2.1h-2.1zM250.9,245.1h2.3v2.3h-2.3zM448.9,112.7h1.9v1.9h-1.9zM259.6,208.6h2.3v2.3h-2.3zM281.3,187.8h2.3v2.3h-2.3zM427.8,127.7h2.0v2.0h-2.0zM343.8,298.9h2.3v2.3h-2.3zM289.9,220.9h2.3v2.3h-2.3zM457.9,107.2h1.9v1.9h-1.9zM268.8,289.8h2.3v2.3h-2.3zM202.1,250.9h2.3v2.3h-2.3zM278.1,223.8h2.3v2.3h-2.3zM230.0,274.9h2.3v2.3h-2.3zM332.2,184.9h2.3v2.3h-2.3zM286.6,214.6h2.3v2.3h-2.3zM353.3,179.0h2.2v2.2h-2.2zM410.1,124.3h2.0v2.0h-2.0zM227.0,280.7h2.3v2.3h-2.3zM238.8,263.0h2.3v2.3h-2.3zM356.1,169.6h2.2v2.2h-2.2zM283.8,236.0h2.3v2.3h-2.3zM455.2,98.0h1.9v1.9h-1.9zM196.7,271.6h2.3v2.3h-2.3zM136.4,289.9h2.3v2.3h-2.3zM340.8,202.7h2.3v2.3h-2.3zM208.6,298.8h2.3v2.3h-2.3zM262.8,247.5h2.3v2.3h-2.3zM220.8,298.7h2.3v2.3h-2.3zM253.7,227.1h2.3v2.3h-2.3zM452.0,107.3h1.9v1.9h-1.9zM416.5,125.2h2.0v2.0h-2.0zM296.0,244.8h2.3v2.3h-2.3zM166.8,319.5h2.3v2.3h-2.3zM211.4,331.5h2.3v2.3h-2.3zM259.4,289.8h2.3v2.3h-2.3zM209.1,271.7h2.3v2.3h-2.3zM352.7,182.1h2.2v2.2h-2.2zM167.1,289.6h2.3v2.3h-2.3zM466.9,104.1h1.8v1.8h-1.8zM584.3,37.9h1.8v1.8h-1.8zM238.7,283.7h2.3v2.3h-2.3zM335.0,172.4h2.3v2.3h-2.3zM340.4,175.6h2.3v2.3h-2.3zM449.2,106.8h1.9v1.9h-1.9zM343.6,173.1h2.3v2.3h-2.3zM175.9,262.7h2.3v2.3h-2.3zM539.4,80.1h1.8v1.8h-1.8zM175.7,308.0h2.3v2.3h-2.3zM307.7,203.0h2.3v2.3h-2.3zM250.9,278.0h2.3v2.3h-2.3zM322.4,202.7h2.3v2.3h-2.3zM416.1,140.0h2.0v2.0h-2.0zM250.9,310.8h2.3v2.3h-2.3zM298.3,202.9h2.3v2.3h-2.3zM226.7,253.8h2.3v2.3h-2.3zM295.5,248.0h2.3v2.3h-2.3zM242.2,215.0h2.3v2.3h-2.3zM175.8,325.9h2.3v2.3h-2.3zM308.0,193.9h2.3v2.3h-2.3zM388.9,148.7h2.1v2.1h-2.1zM185.1,278.0h2.3v2.3h-2.3zM248.0,244.7h2.3v2.3h-2.3zM176.0,325.9h2.3v2.3h-2.3zM184.8,292.8h2.3v2.3h-2.3zM251.1,292.9h2.3v2.3h-2.3zM452.0,104.4h1.9v1.9h-1.9zM202.9,271.8h2.3v2.3h-2.3zM287.0,239.3h2.3v2.3h-2.3zM313.8,179.1h2.3v2.3h-2.3zM302.3,232.7h2.3v2.3h-2.3zM239.3,247.5h2.3v2.3h-2.3zM256.8,250.7h2.3v2.3h-2.3zM277.4,274.5h2.3v2.3h-2.3zM503.1,74.0h1.8v1.8h-1.8zM385.8,236.4h2.1v2.1h-2.1zM205.8,274.7h2.3v2.3h-2.3zM185.2,331.8h2.3v2.3h-2.3zM284.0,205.6h2.3v2.3h-2.3zM266.2,269.0h2.3v2.3h-2.3zM275.1,274.8h2.3v2.3h-2.3zM287.0,223.6h2.3v2.3h-2.3zM175.8,301.8h2.3v2.3h-2.3zM280.9,280.6h2.3v2.3h-2.3zM196.7,277.8h2.3v2.3h-2.3zM128.2,305.1h2.3v2.3h-2.3zM307.8,206.1h2.3v2.3h-2.3zM434.3,115.9h1.9v1.9h-1.9zM251.0,283.6h2.3v2.3h-2.3zM313.5,188.1h2.3v2.3h-2.3zM218.2,257.0h2.3v2.3h-2.3zM145.9,328.6h2.3v2.3h-2.3zM139.6,313.6h2.3v2.3h-2.3zM121.8,293.2h2.3v2.3h-2.3zM158.2,310.6h2.3v2.3h-2.3zM371.1,148.5h2.2v2.2h-2.2zM235.9,286.7h2.3v2.3h-2.3zM248.4,290.4h2.3v2.3h-2.3zM352.9,172.5h2.2v2.2h-2.2zM412.9,124.4h2.0v2.0h-2.0zM290.1,196.5h2.3v2.3h-2.3zM212.2,305.1h2.3v2.3h-2.3zM229.9,229.8h2.3v2.3h-2.3zM175.5,293.1h2.3v2.3h-2.3zM545.0,59.1h1.8v1.8h-1.8zM329.0,175.8h2.3v2.3h-2.3zM175.6,286.4h2.3v2.3h-2.3zM172.9,311.2h2.3v2.3h-2.3zM305.1,214.9h2.3v2.3h-2.3zM242.1,250.6h2.3v2.3h-2.3zM277.8,248.1h2.3v2.3h-2.3zM406.5,134.2h2.0v2.0h-2.0zM154.9,299.1h2.3v2.3h-2.3zM370.8,140.1h2.2v2.2h-2.2zM230.3,287.2h2.3v2.3h-2.3zM298.9,215.4h2.3v2.3h-2.3zM212.0,302.0h2.3v2.3h-2.3zM241.8,238.8h2.3v2.3h-2.3zM320.0,182.2h2.3v2.3h-2.3zM467.0,98.2h1.8v1.8h-1.8zM310.9,208.9h2.3v2.3h-2.3zM233.0,256.5h2.3v2.3h-2.3zM190.9,295.4h2.3v2.3h-2.3zM359.0,163.6h2.2v2.2h-2.2zM310.8,197.0h2.3v2.3h-2.3zM344.2,181.7h2.2v2.2h-2.2zM280.7,331.4h2.3v2.3h-2.3zM346.8,166.7h2.2v2.2h-2.2zM124.6,316.8h2.3v2.3h-2.3zM232.7,245.2h2.3v2.3h-2.3zM272.4,215.2h2.3v2.3h-2.3zM154.8,344.2h2.3v2.3h-2.3zM238.7,250.7h2.3v2.3h-2.3zM464.1,98.0h1.8v1.8h-1.8zM247.7,271.8h2.3v2.3h-2.3zM322.7,184.8h2.3v2.3h-2.3zM305.4,202.9h2.3v2.3h-2.3zM367.9,154.9h2.2v2.2h-2.2zM289.8,269.1h2.3v2.3h-2.3zM154.5,335.0h2.3v2.3h-2.3zM251.2,298.7h2.3v2.3h-2.3zM223.4,277.9h2.3v2.3h-2.3zM404.2,140.0h2.0v2.0h-2.0zM500.0,116.1h1.8v1.8h-1.8zM268.6,206.1h2.3v2.3h-2.3zM256.9,271.5h2.3v2.3h-2.3zM187.8,269.3h2.3v2.3h-2.3zM337.9,184.4h2.3v2.3h-2.3zM370.7,157.6h2.2v2.2h-2.2zM217.8,304.8h2.3v2.3h-2.3zM266.2,268.8h2.3v2.3h-2.3zM188.0,337.4h2.3v2.3h-2.3zM130.5,299.3h2.3v2.3h-2.3zM335.2,203.2h2.3v2.3h-2.3zM317.3,187.9h2.3v2.3h-2.3zM181.3,313.8h2.3v2.3h-2.3zM280.8,248.3h2.3v2.3h-2.3zM157.5,289.5h2.3v2.3h-2.3zM235.6,277.4h2.3v2.3h-2.3zM331.8,178.6h2.3v2.3h-2.3zM256.9,232.9h2.3v2.3h-2.3zM277.9,223.2h2.3v2.3h-2.3zM326.1,178.9h2.3v2.3h-2.3zM415.8,127.8h2.0v2.0h-2.0zM148.9,280.4h2.3v2.3h-2.3zM448.9,110.3h1.9v1.9h-1.9zM199.8,283.4h2.3v2.3h-2.3zM308.1,232.4h2.3v2.3h-2.3zM269.1,271.5h2.3v2.3h-2.3zM238.7,232.5h2.3v2.3h-2.3zM325.9,187.9h2.3v2.3h-2.3zM172.6,260.2h2.3v2.3h-2.3zM404.0,142.8h2.0v2.0h-2.0zM428.1,110.3h2.0v2.0h-2.0zM220.7,280.8h2.3v2.3h-2.3zM250.9,256.8h2.3v2.3h-2.3zM343.6,173.2h2.3v2.3h-2.3zM359.0,169.9h2.2v2.2h-2.2zM434.1,116.2h1.9v1.9h-1.9zM322.8,203.2h2.3v2.3h-2.3zM349.6,164.0h2.2v2.2h-2.2zM374.1,178.6h2.1v2.1h-2.1zM238.8,280.6h2.3v2.3h-2.3zM187.7,331.6h2.3v2.3h-2.3zM287.2,220.9h2.3v2.3h-2.3zM226.6,262.9h2.3v2.3h-2.3zM437.2,149.0h1.9v1.9h-1.9zM241.5,253.8h2.3v2.3h-2.3zM200.3,290.1h2.3v2.3h-2.3zM362.1,187.6h2.2v2.2h-2.2zM277.9,265.4h2.3v2.3h-2.3zM457.8,107.4h1.9v1.9h-1.9zM241.8,238.5h2.3v2.3h-2.3zM232.9,229.7h2.3v2.3h-2.3zM350.0,167.0h2.2v2.2h-2.2zM251.0,274.4h2.3v2.3h-2.3zM230.3,271.9h2.3v2.3h-2.3zM334.9,178.6h2.3v2.3h-2.3zM311.2,227.1h2.3v2.3h-2.3zM337.9,193.8h2.3v2.3h-2.3zM238.6,295.6h2.3v2.3h-2.3zM292.7,202.8h2.3v2.3h-2.3zM313.7,238.8h2.3v2.3h-2.3zM370.7,142.7h2.2v2.2h-2.2zM356.1,157.7h2.2v2.2h-2.2zM238.8,247.6h2.3v2.3h-2.3zM224.2,334.6h2.3v2.3h-2.3zM232.5,221.0h2.3v2.3h-2.3zM245.0,212.0h2.3v2.3h-2.3zM503.3,95.7h1.8v1.8h-1.8zM266.4,304.5h2.3v2.3h-2.3zM209.2,311.1h2.3v2.3h-2.3zM250.7,238.2h2.3v2.3h-2.3zM271.9,292.4h2.3v2.3h-2.3zM268.4,232.7h2.3v2.3h-2.3zM296.2,226.7h2.3v2.3h-2.3zM238.6,259.7h2.3v2.3h-2.3zM209.2,284.3h2.3v2.3h-2.3zM265.8,248.0h2.3v2.3h-2.3zM193.6,331.9h2.3v2.3h-2.3zM179.2,286.9h2.3v2.3h-2.3zM137.1,337.7h2.3v2.3h-2.3zM499.6,80.1h1.8v1.8h-1.8zM277.7,178.8h2.3v2.3h-2.3zM200.1,299.2h2.3v2.3h-2.3zM118.8,311.0h2.3v2.3h-2.3zM287.1,224.1h2.3v2.3h-2.3zM196.7,295.8h2.3v2.3h-2.3zM241.5,280.2h2.3v2.3h-2.3zM304.7,208.8h2.3v2.3h-2.3zM427.8,128.1h2.0v2.0h-2.0zM373.7,190.8h2.2v2.2h-2.2zM209.0,308.5h2.3v2.3h-2.3zM292.9,229.9h2.3v2.3h-2.3zM220.8,319.7h2.3v2.3h-2.3zM343.8,145.7h2.3v2.3h-2.3zM176.2,272.2h2.3v2.3h-2.3zM346.8,179.2h2.2v2.2h-2.2zM226.8,295.6h2.3v2.3h-2.3zM386.0,136.8h2.1v2.1h-2.1zM236.2,277.4h2.3v2.3h-2.3zM445.7,109.8h1.9v1.9h-1.9zM319.9,173.3h2.3v2.3h-2.3zM238.7,307.8h2.3v2.3h-2.3zM533.0,71.3h1.8v1.8h-1.8zM247.8,245.1h2.3v2.3h-2.3zM205.9,322.5h2.3v2.3h-2.3zM442.6,107.5h1.9v1.9h-1.9zM302.0,212.0h2.3v2.3h-2.3zM530.2,64.9h1.8v1.8h-1.8zM272.1,181.7h2.3v2.3h-2.3zM238.9,245.3h2.3v2.3h-2.3zM355.2,148.5h2.2v2.2h-2.2zM275.0,211.8h2.3v2.3h-2.3zM262.7,236.1h2.3v2.3h-2.3zM274.9,217.6h2.3v2.3h-2.3zM253.9,251.3h2.3v2.3h-2.3zM208.6,265.6h2.3v2.3h-2.3zM425.2,191.2h2.0v2.0h-2.0zM206.0,274.3h2.3v2.3h-2.3zM265.9,235.9h2.3v2.3h-2.3zM139.9,292.7h2.3v2.3h-2.3zM371.0,148.8h2.2v2.2h-2.2zM301.5,179.0h2.3v2.3h-2.3zM305.2,175.5h2.3v2.3h-2.3zM205.5,250.6h2.3v2.3h-2.3zM254.2,184.7h2.3v2.3h-2.3zM271.5,233.0h2.3v2.3h-2.3zM314.2,179.0h2.3v2.3h-2.3zM295.9,208.8h2.3v2.3h-2.3zM346.7,161.0h2.2v2.2h-2.2zM320.1,205.8h2.3v2.3h-2.3zM202.8,275.3h2.3v2.3h-2.3zM512.0,74.1h1.8v1.8h-1.8zM250.9,272.2h2.3v2.3h-2.3zM268.9,229.8h2.3v2.3h-2.3zM245.2,236.0h2.3v2.3h-2.3zM322.9,232.8h2.3v2.3h-2.3zM337.7,217.6h2.3v2.3h-2.3zM220.8,274.7h2.3v2.3h-2.3zM349.5,164.3h2.2v2.2h-2.2zM271.9,223.5h2.3v2.3h-2.3zM223.9,238.5h2.3v2.3h-2.3zM418.8,130.7h2.0v2.0h-2.0zM268.9,217.9h2.3v2.3h-2.3zM247.7,241.9h2.3v2.3h-2.3zM238.6,262.8h2.3v2.3h-2.3zM133.5,290.4h2.3v2.3h-2.3zM355.4,166.6h2.2v2.2h-2.2zM208.7,325.5h2.3v2.3h-2.3zM413.0,160.8h2.0v2.0h-2.0zM382.9,143.2h2.1v2.1h-2.1zM196.4,277.9h2.3v2.3h-2.3zM263.3,263.1h2.3v2.3h-2.3zM388.6,151.9h2.1v2.1h-2.1zM269.1,229.9h2.3v2.3h-2.3zM181.8,287.3h2.3v2.3h-2.3zM482.0,101.3h1.8v1.8h-1.8zM340.8,166.9h2.3v2.3h-2.3zM286.6,206.0h2.3v2.3h-2.3zM196.6,307.7h2.3v2.3h-2.3zM260.1,238.8h2.3v2.3h-2.3zM290.0,208.6h2.3v2.3h-2.3zM347.1,160.9h2.2v2.2h-2.2zM179.1,295.6h2.3v2.3h-2.3zM295.6,199.7h2.3v2.3h-2.3zM196.7,335.0h2.3v2.3h-2.3zM287.0,221.0h2.3v2.3h-2.3zM250.6,277.8h2.3v2.3h-2.3zM340.8,199.9h2.3v2.3h-2.3zM373.7,149.1h2.2v2.2h-2.2zM253.9,265.9h2.3v2.3h-2.3zM407.3,133.4h2.0v2.0h-2.0zM214.8,265.4h2.3v2.3h-2.3zM538.8,65.2h1.8v1.8h-1.8zM476.2,92.1h1.8v1.8h-1.8zM446.0,103.9h1.9v1.9h-1.9zM187.7,307.3h2.3v2.3h-2.3zM578.3,74.2h1.8v1.8h-1.8zM437.4,106.9h1.9v1.9h-1.9zM355.8,169.8h2.2v2.2h-2.2zM283.9,253.8h2.3v2.3h-2.3zM409.8,127.8h2.0v2.0h-2.0zM232.8,262.8h2.3v2.3h-2.3zM367.7,155.0h2.2v2.2h-2.2zM236.4,289.7h2.3v2.3h-2.3zM209.0,287.0h2.3v2.3h-2.3zM235.7,272.3h2.3v2.3h-2.3zM277.9,280.9h2.3v2.3h-2.3zM373.8,139.6h2.2v2.2h-2.2zM256.7,259.3h2.3v2.3h-2.3zM178.9,305.1h2.3v2.3h-2.3zM320.0,185.0h2.3v2.3h-2.3zM356.0,157.9h2.2v2.2h-2.2zM175.7,271.9h2.3v2.3h-2.3zM278.0,239.0h2.3v2.3h-2.3zM373.8,151.3h2.2v2.2h-2.2zM262.9,229.9h2.3v2.3h-2.3zM254.0,319.5h2.3v2.3h-2.3zM331.4,181.9h2.3v2.3h-2.3zM229.6,236.0h2.3v2.3h-2.3zM256.6,266.1h2.3v2.3h-2.3zM416.4,223.7h2.0v2.0h-2.0zM310.5,202.6h2.3v2.3h-2.3zM316.7,172.6h2.3v2.3h-2.3zM221.0,268.6h2.3v2.3h-2.3zM307.7,215.4h2.3v2.3h-2.3zM226.8,265.9h2.3v2.3h-2.3zM286.8,299.2h2.3v2.3h-2.3zM241.9,287.2h2.3v2.3h-2.3zM340.6,157.9h2.3v2.3h-2.3zM437.1,115.9h1.9v1.9h-1.9zM368.1,143.2h2.2v2.2h-2.2zM220.8,257.2h2.3v2.3h-2.3zM280.7,226.7h2.3v2.3h-2.3zM421.9,131.1h2.0v2.0h-2.0zM322.8,184.8h2.3v2.3h-2.3zM248.0,271.4h2.3v2.3h-2.3zM139.8,301.6h2.3v2.3h-2.3zM226.7,319.7h2.3v2.3h-2.3zM238.8,281.1h2.3v2.3h-2.3zM251.0,280.7h2.3v2.3h-2.3zM175.7,334.6h2.3v2.3h-2.3zM251.0,305.3h2.3v2.3h-2.3zM388.8,148.7h2.1v2.1h-2.1zM337.8,173.1h2.3v2.3h-2.3zM196.6,256.9h2.3v2.3h-2.3zM259.9,295.8h2.3v2.3h-2.3zM389.3,145.8h2.1v2.1h-2.1zM226.8,292.6h2.3v2.3h-2.3zM272.3,262.9h2.3v2.3h-2.3zM188.0,286.9h2.3v2.3h-2.3zM259.8,236.2h2.3v2.3h-2.3zM271.9,211.8h2.3v2.3h-2.3zM290.4,224.0h2.3v2.3h-2.3zM346.8,167.2h2.2v2.2h-2.2zM289.7,238.9h2.3v2.3h-2.3zM320.0,190.6h2.3v2.3h-2.3zM451.9,119.4h1.9v1.9h-1.9zM235.6,275.0h2.3v2.3h-2.3zM317.0,191.2h2.3v2.3h-2.3zM230.1,238.7h2.3v2.3h-2.3zM395.4,134.3h2.1v2.1h-2.1zM190.7,329.2h2.3v2.3h-2.3zM353.1,160.9h2.2v2.2h-2.2zM295.8,224.0h2.3v2.3h-2.3zM170.2,329.1h2.3v2.3h-2.3zM287.2,242.3h2.3v2.3h-2.3zM415.5,115.8h2.0v2.0h-2.0zM253.6,262.8h2.3v2.3h-2.3zM262.9,236.0h2.3v2.3h-2.3zM256.9,221.0h2.3v2.3h-2.3zM310.9,196.8h2.3v2.3h-2.3zM197.1,232.7h2.3v2.3h-2.3zM352.6,169.7h2.2v2.2h-2.2zM268.9,266.0h2.3v2.3h-2.3zM331.7,202.6h2.3v2.3h-2.3zM212.1,287.1h2.3v2.3h-2.3zM262.5,254.0h2.3v2.3h-2.3zM214.7,247.9h2.3v2.3h-2.3zM421.7,128.4h2.0v2.0h-2.0zM145.8,328.5h2.3v2.3h-2.3zM232.8,257.0h2.3v2.3h-2.3zM190.7,301.8h2.3v2.3h-2.3zM307.3,197.1h2.3v2.3h-2.3zM193.6,289.7h2.3v2.3h-2.3zM241.7,259.7h2.3v2.3h-2.3zM163.9,238.6h2.3v2.3h-2.3zM235.8,313.9h2.3v2.3h-2.3zM481.9,101.2h1.8v1.8h-1.8zM356.0,166.9h2.2v2.2h-2.2zM274.8,236.0h2.3v2.3h-2.3zM235.7,310.9h2.3v2.3h-2.3zM413.3,122.1h2.0v2.0h-2.0zM545.3,64.8h1.8v1.8h-1.8zM341.0,176.2h2.3v2.3h-2.3z"/>
<path fill="#ff4878" fill-opacity="0.28" d="M400.6,134.1h2.4v2.4h-2.4zM145.7,299.4h2.6v2.6h-2.6zM325.8,151.5h2.6v2.6h-2.6zM199.7,319.7h2.6v2.6h-2.6zM338.0,167.0h2.6v2.6h-2.6zM386.3,146.6h2.4v2.4h-2.4zM245.3,241.9h2.6v2.6h-2.6zM235.3,235.8h2.6v2.6h-2.6zM346.9,169.8h2.5v2.5h-2.5zM229.8,304.5h2.6v2.6h-2.6zM202.8,307.8h2.6v2.6h-2.6zM274.7,217.7h2.6v2.6h-2.6zM464.4,106.5h2.1v2.1h-2.1zM298.9,188.0h2.6v2.6h-2.6zM163.5,301.7h2.6v2.6h-2.6zM328.9,220.7h2.6v2.6h-2.6zM346.6,163.5h2.5v2.5h-2.5zM322.7,167.0h2.6v2.6h-2.6zM262.6,259.9h2.6v2.6h-2.6zM226.5,205.9h2.6v2.6h-2.6zM443.0,110.2h2.2v2.2h-2.2zM163.4,325.8h2.6v2.6h-2.6zM205.9,305.0h2.6v2.6h-2.6zM346.6,223.9h2.5v2.5h-2.5zM388.6,131.0h2.4v2.4h-2.4zM206.0,259.5h2.6v2.6h-2.6zM205.8,314.2h2.6v2.6h-2.6zM359.1,187.6h2.5v2.5h-2.5zM221.2,199.6h2.6v2.6h-2.6zM184.9,295.4h2.6v2.6h-2.6zM454.9,106.7h2.2v2.2h-2.2zM289.7,256.0h2.6v2.6h-2.6zM367.6,160.4h2.5v2.5h-2.5zM497.1,82.7h2.1v2.1h-2.1zM253.6,271.9h2.6v2.6h-2.6zM338.0,199.6h2.6v2.6h-2.6zM193.4,247.9h2.6v2.6h-2.6zM151.8,322.8h2.6v2.6h-2.6zM241.9,223.4h2.6v2.6h-2.6zM326.0,187.8h2.6v2.6h-2.6zM365.1,164.1h2.5v2.5h-2.5zM331.9,175.8h2.6v2.6h-2.6zM479.2,89.2h2.1v2.1h-2.1zM277.6,268.4h2.6v2.6h-2.6zM542.0,68.1h2.1v2.1h-2.1zM370.8,145.7h2.5v2.5h-2.5zM151.6,295.7h2.6v2.6h-2.6zM487.7,85.9h2.1v2.1h-2.1zM451.8,106.9h2.2v2.2h-2.2zM173.4,307.8h2.6v2.6h-2.6zM358.7,154.7h2.5v2.5h-2.5zM166.1,331.7h2.6v2.6h-2.6zM319.8,208.7h2.6v2.6h-2.6zM271.9,251.1h2.6v2.6h-2.6zM145.6,316.5h2.6v2.6h-2.6zM394.9,145.7h2.4v2.4h-2.4zM535.7,65.1h2.1v2.1h-2.1zM268.8,226.9h2.6v2.6h-2.6zM280.4,229.6h2.6v2.6h-2.6zM325.8,214.7h2.6v2.6h-2.6zM394.7,232.9h2.4v2.4h-2.4zM215.0,310.7h2.6v2.6h-2.6zM229.7,253.5h2.6v2.6h-2.6zM593.1,109.8h2.1v2.1h-2.1zM283.9,217.7h2.6v2.6h-2.6zM410.0,119.1h2.3v2.3h-2.3zM244.9,229.8h2.6v2.6h-2.6zM421.7,115.6h2.3v2.3h-2.3zM196.9,248.0h2.6v2.6h-2.6zM145.7,295.6h2.6v2.6h-2.6zM370.9,151.9h2.5v2.5h-2.5zM337.8,164.2h2.6v2.6h-2.6zM409.7,175.3h2.3v2.3h-2.3zM295.6,199.6h2.6v2.6h-2.6zM161.0,314.2h2.6v2.6h-2.6zM298.8,217.8h2.6v2.6h-2.6zM394.6,137.2h2.4v2.4h-2.4zM392.0,133.9h2.4v2.4h-2.4zM184.6,310.9h2.6v2.6h-2.6zM283.6,199.5h2.6v2.6h-2.6zM394.7,149.1h2.4v2.4h-2.4zM181.3,214.6h2.6v2.6h-2.6zM497.0,88.8h2.1v2.1h-2.1zM304.4,190.3h2.6v2.6h-2.6zM334.6,199.3h2.6v2.6h-2.6zM248.2,253.3h2.6v2.6h-2.6zM178.9,340.2h2.6v2.6h-2.6zM415.8,259.9h2.3v2.3h-2.3zM329.0,196.8h2.6v2.6h-2.6zM142.9,263.4h2.6v2.6h-2.6zM593.0,38.5h2.1v2.1h-2.1zM427.7,163.8h2.3v2.3h-2.3zM313.7,187.7h2.6v2.6h-2.6zM361.4,172.9h2.5v2.5h-2.5zM520.9,73.5h2.1v2.1h-2.1zM349.7,172.6h2.5v2.5h-2.5zM145.4,307.4h2.6v2.6h-2.6zM271.7,266.1h2.6v2.6h-2.6zM226.4,316.5h2.6v2.6h-2.6zM322.8,193.7h2.6v2.6h-2.6zM232.8,265.6h2.6v2.6h-2.6zM176.0,274.6h2.6v2.6h-2.6zM241.4,319.5h2.6v2.6h-2.6zM364.8,148.2h2.5v2.5h-2.5zM271.7,280.7h2.6v2.6h-2.6zM352.6,170.2h2.5v2.5h-2.5zM553.9,59.0h2.1v2.1h-2.1zM490.8,86.2h2.1v2.1h-2.1zM268.8,283.2h2.6v2.6h-2.6zM400.8,142.7h2.4v2.4h-2.4zM406.5,233.4h2.3v2.3h-2.3zM269.0,259.9h2.6v2.6h-2.6zM559.8,55.8h2.1v2.1h-2.1zM349.5,178.6h2.5v2.5h-2.5zM292.9,229.2h2.6v2.6h-2.6zM274.4,253.8h2.6v2.6h-2.6zM388.6,205.7h2.4v2.4h-2.4zM175.5,289.5h2.6v2.6h-2.6zM136.8,313.6h2.6v2.6h-2.6zM269.2,235.5h2.6v2.6h-2.6zM217.6,244.9h2.6v2.6h-2.6zM340.8,175.5h2.6v2.6h-2.6zM190.5,341.1h2.6v2.6h-2.6zM395.2,134.0h2.4v2.4h-2.4zM382.8,142.9h2.4v2.4h-2.4zM112.8,310.6h2.6v2.6h-2.6zM506.1,82.4h2.1v2.1h-2.1zM247.8,250.7h2.6v2.6h-2.6zM413.0,137.1h2.3v2.3h-2.3zM550.7,56.4h2.1v2.1h-2.1zM382.8,137.0h2.4v2.4h-2.4zM499.8,82.8h2.1v2.1h-2.1zM364.5,148.4h2.5v2.5h-2.5zM196.7,259.5h2.6v2.6h-2.6zM446.1,113.2h2.2v2.2h-2.2zM130.7,298.5h2.6v2.6h-2.6zM208.8,274.2h2.6v2.6h-2.6zM218.2,259.4h2.6v2.6h-2.6zM398.3,179.0h2.4v2.4h-2.4zM535.7,71.0h2.1v2.1h-2.1zM428.1,115.5h2.3v2.3h-2.3zM272.0,247.5h2.6v2.6h-2.6zM187.5,283.7h2.6v2.6h-2.6zM286.4,244.3h2.6v2.6h-2.6zM346.7,178.4h2.5v2.5h-2.5zM490.6,187.8h2.1v2.1h-2.1zM271.7,232.8h2.6v2.6h-2.6zM220.5,259.8h2.6v2.6h-2.6zM232.8,301.9h2.6v2.6h-2.6zM494.2,73.7h2.1v2.1h-2.1zM229.5,244.4h2.6v2.6h-2.6zM259.7,286.8h2.6v2.6h-2.6zM563.0,65.2h2.1v2.1h-2.1zM463.8,127.7h2.2v2.2h-2.2zM310.8,187.8h2.6v2.6h-2.6zM184.8,325.5h2.6v2.6h-2.6zM193.8,316.5h2.6v2.6h-2.6zM433.8,124.9h2.3v2.3h-2.3zM325.8,178.8h2.6v2.6h-2.6zM295.9,199.8h2.6v2.6h-2.6zM256.6,241.8h2.6v2.6h-2.6zM367.3,154.4h2.5v2.5h-2.5zM461.2,91.5h2.2v2.2h-2.2zM500.3,161.0h2.1v2.1h-2.1zM322.7,184.2h2.6v2.6h-2.6zM253.5,244.9h2.6v2.6h-2.6zM241.6,289.4h2.6v2.6h-2.6zM521.1,181.8h2.1v2.1h-2.1zM292.8,250.5h2.6v2.6h-2.6zM421.9,130.9h2.3v2.3h-2.3zM415.7,122.2h2.3v2.3h-2.3zM466.7,256.9h2.1v2.1h-2.1zM188.4,307.8h2.6v2.6h-2.6zM199.9,283.4h2.6v2.6h-2.6zM259.3,290.1h2.6v2.6h-2.6zM418.8,115.9h2.3v2.3h-2.3zM224.1,322.8h2.6v2.6h-2.6zM397.6,137.2h2.4v2.4h-2.4zM170.0,307.1h2.6v2.6h-2.6zM181.9,313.3h2.6v2.6h-2.6zM265.9,307.6h2.6v2.6h-2.6zM322.9,190.2h2.6v2.6h-2.6zM268.9,226.7h2.6v2.6h-2.6zM268.9,217.8h2.6v2.6h-2.6zM355.8,163.6h2.5v2.5h-2.5zM319.6,181.3h2.6v2.6h-2.6zM193.8,316.7h2.6v2.6h-2.6zM463.8,161.0h2.2v2.2h-2.2zM470.1,128.1h2.1v2.1h-2.1zM292.7,217.7h2.6v2.6h-2.6zM247.5,241.6h2.6v2.6h-2.6zM580.9,46.9h2.1v2.1h-2.1zM196.5,292.8h2.6v2.6h-2.6zM259.9,271.8h2.6v2.6h-2.6zM304.4,199.8h2.6v2.6h-2.6zM253.5,247.2h2.6v2.6h-2.6zM205.4,277.6h2.6v2.6h-2.6zM533.2,76.9h2.1v2.1h-2.1zM271.7,232.6h2.6v2.6h-2.6zM181.3,313.3h2.6v2.6h-2.6zM247.9,310.4h2.6v2.6h-2.6zM527.0,65.0h2.1v2.1h-2.1zM409.7,121.8h2.3v2.3h-2.3zM305.0,247.3h2.6v2.6h-2.6zM325.8,193.8h2.6v2.6h-2.6zM340.6,259.6h2.6v2.6h-2.6zM301.8,229.7h2.6v2.6h-2.6zM190.3,271.7h2.6v2.6h-2.6zM160.5,334.6h2.6v2.6h-2.6zM397.6,214.8h2.4v2.4h-2.4zM320.0,199.4h2.6v2.6h-2.6zM349.6,172.8h2.5v2.5h-2.5zM259.4,202.6h2.6v2.6h-2.6zM571.9,56.0h2.1v2.1h-2.1zM202.8,295.3h2.6v2.6h-2.6zM524.1,71.5h2.1v2.1h-2.1zM319.7,202.9h2.6v2.6h-2.6zM536.2,68.3h2.1v2.1h-2.1zM401.4,128.0h2.4v2.4h-2.4zM283.5,229.7h2.6v2.6h-2.6zM316.6,205.7h2.6v2.6h-2.6zM307.2,238.8h2.6v2.6h-2.6zM122.1,280.2h2.6v2.6h-2.6zM529.8,65.4h2.1v2.1h-2.1zM326.0,196.5h2.6v2.6h-2.6zM184.6,334.6h2.6v2.6h-2.6zM307.7,196.7h2.6v2.6h-2.6zM334.9,244.9h2.6v2.6h-2.6zM289.7,217.9h2.6v2.6h-2.6zM337.9,178.4h2.6v2.6h-2.6zM334.5,167.0h2.6v2.6h-2.6zM232.2,247.6h2.6v2.6h-2.6zM439.9,113.1h2.2v2.2h-2.2zM343.9,166.5h2.5v2.5h-2.5zM205.9,247.3h2.6v2.6h-2.6zM197.0,334.1h2.6v2.6h-2.6zM160.6,281.1h2.6v2.6h-2.6zM226.4,304.6h2.6v2.6h-2.6zM166.9,316.9h2.6v2.6h-2.6zM283.5,220.6h2.6v2.6h-2.6zM179.0,241.5h2.6v2.6h-2.6zM235.7,283.6h2.6v2.6h-2.6zM184.3,296.0h2.6v2.6h-2.6zM418.9,121.9h2.3v2.3h-2.3zM202.4,334.9h2.6v2.6h-2.6zM220.6,286.6h2.6v2.6h-2.6zM236.1,248.0h2.6v2.6h-2.6zM274.3,295.8h2.6v2.6h-2.6zM235.7,229.3h2.6v2.6h-2.6zM160.8,323.2h2.6v2.6h-2.6zM301.9,199.4h2.6v2.6h-2.6zM250.6,202.5h2.6v2.6h-2.6zM229.7,271.7h2.6v2.6h-2.6zM503.0,77.2h2.1v2.1h-2.1zM226.7,307.4h2.6v2.6h-2.6zM214.9,250.9h2.6v2.6h-2.6zM196.8,301.6h2.6v2.6h-2.6zM448.7,109.7h2.2v2.2h-2.2zM304.7,241.7h2.6v2.6h-2.6zM199.7,275.0h2.6v2.6h-2.6zM217.7,274.8h2.6v2.6h-2.6zM187.7,253.5h2.6v2.6h-2.6zM167.4,292.6h2.6v2.6h-2.6zM140.0,313.6h2.6v2.6h-2.6zM575.0,58.8h2.1v2.1h-2.1zM217.6,250.7h2.6v2.6h-2.6zM235.4,299.1h2.6v2.6h-2.6zM317.2,175.7h2.6v2.6h-2.6zM214.8,320.0h2.6v2.6h-2.6zM268.6,272.0h2.6v2.6h-2.6zM253.8,239.3h2.6v2.6h-2.6zM370.6,217.8h2.5v2.5h-2.5zM226.7,260.1h2.6v2.6h-2.6zM304.7,203.0h2.6v2.6h-2.6zM301.8,197.0h2.6v2.6h-2.6zM145.5,304.4h2.6v2.6h-2.6zM253.9,259.7h2.6v2.6h-2.6zM229.5,238.8h2.6v2.6h-2.6zM221.3,289.9h2.6v2.6h-2.6zM176.2,286.7h2.6v2.6h-2.6zM262.5,277.8h2.6v2.6h-2.6zM289.8,199.8h2.6v2.6h-2.6zM538.9,68.2h2.1v2.1h-2.1zM274.4,215.0h2.6v2.6h-2.6zM274.5,214.6h2.6v2.6h-2.6zM313.3,289.8h2.6v2.6h-2.6zM163.7,301.6h2.6v2.6h-2.6zM214.6,289.8h2.6v2.6h-2.6zM274.8,256.9h2.6v2.6h-2.6zM271.9,280.5h2.6v2.6h-2.6zM262.8,274.8h2.6v2.6h-2.6zM268.9,227.1h2.6v2.6h-2.6zM479.4,94.4h2.1v2.1h-2.1zM298.5,208.7h2.6v2.6h-2.6zM401.1,124.8h2.4v2.4h-2.4zM392.4,187.7h2.4v2.4h-2.4zM145.4,310.6h2.6v2.6h-2.6zM247.8,275.0h2.6v2.6h-2.6zM458.1,166.7h2.2v2.2h-2.2zM292.0,202.7h2.6v2.6h-2.6zM328.6,181.7h2.6v2.6h-2.6zM226.7,313.5h2.6v2.6h-2.6zM241.6,331.7h2.6v2.6h-2.6zM394.4,235.9h2.4v2.4h-2.4zM458.3,106.8h2.2v2.2h-2.2zM410.2,133.8h2.3v2.3h-2.3zM181.5,289.9h2.6v2.6h-2.6zM229.9,269.1h2.6v2.6h-2.6zM214.3,289.4h2.6v2.6h-2.6zM259.5,220.8h2.6v2.6h-2.6zM262.6,277.5h2.6v2.6h-2.6zM406.2,127.4h2.3v2.3h-2.3zM328.5,178.9h2.6v2.6h-2.6zM223.8,277.7h2.6v2.6h-2.6zM268.6,223.9h2.6v2.6h-2.6zM452.1,107.2h2.2v2.2h-2.2zM271.4,229.9h2.6v2.6h-2.6zM301.7,220.5h2.6v2.6h-2.6zM217.7,268.7h2.6v2.6h-2.6zM401.0,139.9h2.4v2.4h-2.4zM199.4,244.7h2.6v2.6h-2.6zM352.6,190.6h2.5v2.5h-2.5zM575.0,50.7h2.1v2.1h-2.1zM340.6,169.7h2.6v2.6h-2.6zM331.1,259.8h2.6v2.6h-2.6zM343.7,235.9h2.6v2.6h-2.6zM184.8,298.5h2.6v2.6h-2.6zM377.0,130.4h2.4v2.4h-2.4zM283.4,217.7h2.6v2.6h-2.6zM343.5,232.6h2.6v2.6h-2.6zM406.9,181.8h2.3v2.3h-2.3zM328.7,172.8h2.6v2.6h-2.6zM293.3,274.3h2.6v2.6h-2.6zM211.6,274.8h2.6v2.6h-2.6zM212.2,310.6h2.6v2.6h-2.6zM322.3,281.0h2.6v2.6h-2.6zM163.6,283.2h2.6v2.6h-2.6zM160.6,343.5h2.6v2.6h-2.6zM331.4,170.0h2.6v2.6h-2.6zM190.9,289.6h2.6v2.6h-2.6zM235.4,316.7h2.6v2.6h-2.6zM218.0,268.9h2.6v2.6h-2.6zM373.2,145.9h2.5v2.5h-2.5zM250.9,262.6h2.6v2.6h-2.6zM350.3,157.3h2.5v2.5h-2.5zM187.9,274.7h2.6v2.6h-2.6zM262.6,301.9h2.6v2.6h-2.6zM415.8,115.1h2.3v2.3h-2.3zM467.2,95.2h2.1v2.1h-2.1zM295.6,223.8h2.6v2.6h-2.6zM244.6,247.7h2.6v2.6h-2.6zM167.0,316.7h2.6v2.6h-2.6zM433.9,196.8h2.2v2.2h-2.2zM563.1,53.2h2.1v2.1h-2.1zM419.1,127.3h2.3v2.3h-2.3zM499.9,286.5h2.1v2.1h-2.1zM293.0,214.9h2.6v2.6h-2.6zM235.9,259.5h2.6v2.6h-2.6zM322.4,217.3h2.6v2.6h-2.6zM268.2,277.7h2.6v2.6h-2.6zM268.9,235.3h2.6v2.6h-2.6zM563.2,50.2h2.1v2.1h-2.1zM523.6,64.9h2.1v2.1h-2.1zM446.3,100.7h2.2v2.2h-2.2zM479.0,98.1h2.1v2.1h-2.1zM160.7,322.8h2.6v2.6h-2.6zM361.8,170.1h2.5v2.5h-2.5zM220.6,208.7h2.6v2.6h-2.6zM340.8,175.7h2.6v2.6h-2.6zM163.5,271.4h2.6v2.6h-2.6zM515.2,67.4h2.1v2.1h-2.1zM253.5,272.1h2.6v2.6h-2.6zM298.7,202.2h2.6v2.6h-2.6zM145.4,328.2h2.6v2.6h-2.6zM223.6,343.4h2.6v2.6h-2.6zM530.0,62.1h2.1v2.1h-2.1zM310.7,193.6h2.6v2.6h-2.6zM268.6,208.4h2.6v2.6h-2.6zM310.7,214.5h2.6v2.6h-2.6zM289.7,208.7h2.6v2.6h-2.6zM220.3,214.4h2.6v2.6h-2.6zM217.7,302.1h2.6v2.6h-2.6zM268.5,208.4h2.6v2.6h-2.6zM256.8,241.8h2.6v2.6h-2.6zM359.0,170.0h2.5v2.5h-2.5zM448.9,103.7h2.2v2.2h-2.2zM268.8,241.0h2.6v2.6h-2.6zM248.0,280.6h2.6v2.6h-2.6zM205.5,335.0h2.6v2.6h-2.6zM545.0,59.1h2.1v2.1h-2.1zM292.9,205.6h2.6v2.6h-2.6zM467.2,94.7h2.1v2.1h-2.1zM251.1,274.6h2.6v2.6h-2.6zM388.4,154.4h2.4v2.4h-2.4zM286.8,220.6h2.6v2.6h-2.6zM266.1,239.0h2.6v2.6h-2.6zM560.3,59.1h2.1v2.1h-2.1zM457.8,97.8h2.2v2.2h-2.2zM121.8,301.1h2.6v2.6h-2.6zM367.5,163.5h2.5v2.5h-2.5zM385.9,140.0h2.4v2.4h-2.4zM388.5,139.9h2.4v2.4h-2.4zM481.9,91.9h2.1v2.1h-2.1zM334.9,188.1h2.6v2.6h-2.6zM253.9,241.7h2.6v2.6h-2.6zM161.1,271.5h2.6v2.6h-2.6zM190.7,313.6h2.6v2.6h-2.6zM310.6,229.7h2.6v2.6h-2.6zM143.0,268.4h2.6v2.6h-2.6zM193.4,286.5h2.6v2.6h-2.6zM190.6,263.0h2.6v2.6h-2.6zM584.1,50.2h2.1v2.1h-2.1zM341.1,160.3h2.6v2.6h-2.6zM316.8,163.8h2.6v2.6h-2.6zM496.9,157.7h2.1v2.1h-2.1zM133.5,323.0h2.6v2.6h-2.6zM317.1,193.7h2.6v2.6h-2.6zM175.9,289.5h2.6v2.6h-2.6zM226.6,250.9h2.6v2.6h-2.6zM304.7,214.5h2.6v2.6h-2.6zM319.8,184.9h2.6v2.6h-2.6zM301.7,205.9h2.6v2.6h-2.6zM241.7,283.2h2.6v2.6h-2.6zM412.9,118.8h2.3v2.3h-2.3zM521.0,76.8h2.1v2.1h-2.1zM184.5,277.5h2.6v2.6h-2.6zM428.0,121.8h2.3v2.3h-2.3zM217.7,286.2h2.6v2.6h-2.6zM274.6,262.6h2.6v2.6h-2.6zM395.2,157.8h2.4v2.4h-2.4zM316.7,178.7h2.6v2.6h-2.6zM280.4,226.8h2.6v2.6h-2.6zM322.4,175.5h2.6v2.6h-2.6zM328.8,208.7h2.6v2.6h-2.6zM364.8,151.7h2.5v2.5h-2.5zM238.2,268.6h2.6v2.6h-2.6zM424.9,146.1h2.3v2.3h-2.3zM451.9,119.1h2.2v2.2h-2.2zM295.6,187.9h2.6v2.6h-2.6zM487.9,88.8h2.1v2.1h-2.1zM211.5,307.8h2.6v2.6h-2.6zM167.4,310.5h2.6v2.6h-2.6zM193.4,301.8h2.6v2.6h-2.6zM311.2,184.9h2.6v2.6h-2.6zM178.6,343.5h2.6v2.6h-2.6zM220.7,274.8h2.6v2.6h-2.6zM241.6,251.2h2.6v2.6h-2.6zM289.6,193.5h2.6v2.6h-2.6zM325.6,196.5h2.6v2.6h-2.6zM538.7,83.1h2.1v2.1h-2.1zM581.0,46.8h2.1v2.1h-2.1zM419.1,212.0h2.3v2.3h-2.3zM458.0,214.9h2.2v2.2h-2.2zM229.7,283.6h2.6v2.6h-2.6zM253.9,196.7h2.6v2.6h-2.6zM325.3,191.0h2.6v2.6h-2.6zM211.8,274.8h2.6v2.6h-2.6zM307.4,196.8h2.6v2.6h-2.6zM233.0,250.4h2.6v2.6h-2.6zM190.8,337.9h2.6v2.6h-2.6zM197.0,304.4h2.6v2.6h-2.6zM331.6,214.1h2.6v2.6h-2.6zM277.9,226.6h2.6v2.6h-2.6zM223.6,313.7h2.6v2.6h-2.6zM274.7,220.6h2.6v2.6h-2.6zM509.8,76.8h2.1v2.1h-2.1zM427.4,116.0h2.3v2.3h-2.3zM238.7,304.6h2.6v2.6h-2.6zM415.7,121.7h2.3v2.3h-2.3zM413.2,134.0h2.3v2.3h-2.3zM241.8,268.8h2.6v2.6h-2.6zM346.4,166.8h2.5v2.5h-2.5zM439.9,112.6h2.2v2.2h-2.2zM260.0,256.7h2.6v2.6h-2.6zM265.3,256.5h2.6v2.6h-2.6zM247.7,274.7h2.6v2.6h-2.6zM364.6,166.9h2.5v2.5h-2.5zM202.8,314.1h2.6v2.6h-2.6zM202.9,280.8h2.6v2.6h-2.6zM241.6,292.5h2.6v2.6h-2.6zM334.6,172.5h2.6v2.6h-2.6zM202.7,307.8h2.6v2.6h-2.6zM526.6,77.0h2.1v2.1h-2.1zM274.9,235.9h2.6v2.6h-2.6zM238.3,241.7h2.6v2.6h-2.6zM340.7,232.7h2.6v2.6h-2.6zM142.7,278.1h2.6v2.6h-2.6zM160.3,325.9h2.6v2.6h-2.6zM250.8,241.9h2.6v2.6h-2.6zM214.9,274.5h2.6v2.6h-2.6zM238.1,253.7h2.6v2.6h-2.6zM259.6,247.9h2.6v2.6h-2.6zM205.7,215.0h2.6v2.6h-2.6zM310.0,214.6h2.6v2.6h-2.6zM211.7,253.4h2.6v2.6h-2.6zM187.7,299.1h2.6v2.6h-2.6zM316.9,280.6h2.6v2.6h-2.6zM238.4,265.9h2.6v2.6h-2.6zM319.3,184.6h2.6v2.6h-2.6zM133.8,298.6h2.6v2.6h-2.6zM337.8,197.1h2.6v2.6h-2.6zM307.0,194.0h2.6v2.6h-2.6zM511.7,80.2h2.1v2.1h-2.1zM206.1,305.0h2.6v2.6h-2.6zM349.8,169.9h2.5v2.5h-2.5zM206.1,301.6h2.6v2.6h-2.6zM310.6,202.7h2.6v2.6h-2.6zM163.6,286.9h2.6v2.6h-2.6zM313.9,247.6h2.6v2.6h-2.6zM235.3,259.7h2.6v2.6h-2.6zM280.6,226.7h2.6v2.6h-2.6zM353.0,166.8h2.5v2.5h-2.5zM250.7,223.7h2.6v2.6h-2.6zM457.9,101.1h2.2v2.2h-2.2zM349.6,179.0h2.5v2.5h-2.5zM559.9,52.6h2.1v2.1h-2.1zM163.6,299.0h2.6v2.6h-2.6zM259.6,259.6h2.6v2.6h-2.6zM286.4,262.7h2.6v2.6h-2.6zM266.0,232.6h2.6v2.6h-2.6zM466.5,100.9h2.1v2.1h-2.1zM229.2,278.3h2.6v2.6h-2.6zM349.7,196.6h2.5v2.5h-2.5zM124.8,292.6h2.6v2.6h-2.6zM337.8,156.9h2.6v2.6h-2.6zM292.4,226.4h2.6v2.6h-2.6zM250.8,256.6h2.6v2.6h-2.6zM361.7,154.5h2.5v2.5h-2.5zM262.8,241.4h2.6v2.6h-2.6zM199.4,317.0h2.6v2.6h-2.6zM401.0,133.8h2.4v2.4h-2.4zM278.0,238.6h2.6v2.6h-2.6zM337.7,193.8h2.6v2.6h-2.6zM295.7,214.9h2.6v2.6h-2.6zM196.8,289.6h2.6v2.6h-2.6zM268.6,247.8h2.6v2.6h-2.6zM289.7,247.7h2.6v2.6h-2.6zM319.8,284.2h2.6v2.6h-2.6zM262.1,290.0h2.6v2.6h-2.6zM235.5,244.9h2.6v2.6h-2.6zM278.3,235.5h2.6v2.6h-2.6zM151.3,293.2h2.6v2.6h-2.6zM163.6,304.6h2.6v2.6h-2.6zM365.1,172.5h2.5v2.5h-2.5zM221.0,271.5h2.6v2.6h-2.6zM127.6,301.8h2.6v2.6h-2.6zM478.5,89.0h2.1v2.1h-2.1zM226.7,203.1h2.6v2.6h-2.6zM316.7,175.3h2.6v2.6h-2.6zM322.5,214.3h2.6v2.6h-2.6zM179.1,328.7h2.6v2.6h-2.6zM307.4,223.7h2.6v2.6h-2.6zM161.1,284.0h2.6v2.6h-2.6zM200.0,313.8h2.6v2.6h-2.6zM385.7,145.7h2.4v2.4h-2.4zM193.8,301.8h2.6v2.6h-2.6zM260.0,220.9h2.6v2.6h-2.6zM211.3,253.7h2.6v2.6h-2.6zM323.0,190.5h2.6v2.6h-2.6zM397.7,157.8h2.4v2.4h-2.4zM202.7,313.8h2.6v2.6h-2.6zM325.7,286.8h2.6v2.6h-2.6zM316.9,173.0h2.6v2.6h-2.6zM175.4,313.3h2.6v2.6h-2.6zM238.6,268.7h2.6v2.6h-2.6zM550.8,61.9h2.1v2.1h-2.1zM310.6,262.2h2.6v2.6h-2.6zM202.4,316.6h2.6v2.6h-2.6zM295.8,188.4h2.6v2.6h-2.6zM523.9,68.1h2.1v2.1h-2.1zM316.9,205.5h2.6v2.6h-2.6zM392.2,127.8h2.4v2.4h-2.4zM235.4,296.3h2.6v2.6h-2.6zM169.3,340.6h2.6v2.6h-2.6zM239.2,295.6h2.6v2.6h-2.6zM166.8,295.7h2.6v2.6h-2.6zM191.1,229.5h2.6v2.6h-2.6zM286.8,217.3h2.6v2.6h-2.6zM538.6,92.6h2.1v2.1h-2.1zM268.6,232.7h2.6v2.6h-2.6zM493.6,89.3h2.1v2.1h-2.1zM148.5,316.8h2.6v2.6h-2.6zM308.1,220.4h2.6v2.6h-2.6zM517.6,74.1h2.1v2.1h-2.1zM232.7,250.6h2.6v2.6h-2.6zM244.9,268.8h2.6v2.6h-2.6zM446.3,113.3h2.2v2.2h-2.2zM241.5,232.9h2.6v2.6h-2.6zM271.9,241.7h2.6v2.6h-2.6zM461.4,104.0h2.2v2.2h-2.2zM208.8,274.8h2.6v2.6h-2.6zM238.7,281.0h2.6v2.6h-2.6zM301.9,184.8h2.6v2.6h-2.6zM193.3,256.5h2.6v2.6h-2.6zM457.7,107.0h2.2v2.2h-2.2zM496.9,80.0h2.1v2.1h-2.1zM478.4,89.2h2.1v2.1h-2.1zM196.5,296.1h2.6v2.6h-2.6zM262.7,304.7h2.6v2.6h-2.6zM451.7,97.9h2.2v2.2h-2.2zM289.9,202.3h2.6v2.6h-2.6zM214.9,298.9h2.6v2.6h-2.6zM304.5,187.7h2.6v2.6h-2.6zM493.8,82.8h2.1v2.1h-2.1zM509.2,79.5h2.1v2.1h-2.1zM181.9,265.4h2.6v2.6h-2.6zM166.9,298.8h2.6v2.6h-2.6zM458.0,109.7h2.2v2.2h-2.2zM175.5,262.6h2.6v2.6h-2.6zM329.1,202.8h2.6v2.6h-2.6zM320.3,169.5h2.6v2.6h-2.6zM509.1,82.6h2.1v2.1h-2.1zM232.7,283.6h2.6v2.6h-2.6zM256.9,296.0h2.6v2.6h-2.6zM193.7,316.8h2.6v2.6h-2.6zM400.6,206.0h2.4v2.4h-2.4zM203.2,274.4h2.6v2.6h-2.6zM385.9,136.8h2.4v2.4h-2.4zM152.0,278.0h2.6v2.6h-2.6zM163.6,308.0h2.6v2.6h-2.6zM433.9,109.6h2.2v2.2h-2.2zM272.0,169.7h2.6v2.6h-2.6zM220.9,268.7h2.6v2.6h-2.6zM256.9,238.8h2.6v2.6h-2.6zM301.8,190.3h2.6v2.6h-2.6zM358.9,217.9h2.5v2.5h-2.5zM382.9,143.0h2.4v2.4h-2.4zM151.7,317.1h2.6v2.6h-2.6zM187.4,319.7h2.6v2.6h-2.6zM277.9,241.6h2.6v2.6h-2.6zM328.7,176.0h2.6v2.6h-2.6zM265.7,166.3h2.6v2.6h-2.6zM292.5,199.5h2.6v2.6h-2.6zM278.0,277.7h2.6v2.6h-2.6zM254.1,235.8h2.6v2.6h-2.6zM385.8,208.8h2.4v2.4h-2.4zM245.0,244.5h2.6v2.6h-2.6zM304.8,265.7h2.6v2.6h-2.6zM256.9,262.7h2.6v2.6h-2.6zM232.7,257.0h2.6v2.6h-2.6zM337.6,175.8h2.6v2.6h-2.6zM512.0,80.1h2.1v2.1h-2.1zM223.5,260.0h2.6v2.6h-2.6zM205.5,298.3h2.6v2.6h-2.6zM133.6,334.4h2.6v2.6h-2.6zM286.7,271.3h2.6v2.6h-2.6zM337.7,169.5h2.6v2.6h-2.6zM274.9,235.7h2.6v2.6h-2.6zM412.9,122.2h2.3v2.3h-2.3zM142.9,278.2h2.6v2.6h-2.6zM316.8,185.0h2.6v2.6h-2.6zM337.9,181.7h2.6v2.6h-2.6zM301.7,199.8h2.6v2.6h-2.6zM316.8,271.5h2.6v2.6h-2.6zM172.8,290.1h2.6v2.6h-2.6zM421.7,118.5h2.3v2.3h-2.3zM202.6,340.8h2.6v2.6h-2.6zM193.9,259.6h2.6v2.6h-2.6zM262.6,211.8h2.6v2.6h-2.6zM226.6,289.6h2.6v2.6h-2.6zM259.6,257.1h2.6v2.6h-2.6zM358.6,136.6h2.5v2.5h-2.5zM247.4,274.9h2.6v2.6h-2.6zM535.9,97.8h2.1v2.1h-2.1zM259.8,268.5h2.6v2.6h-2.6zM211.5,265.8h2.6v2.6h-2.6zM196.6,307.8h2.6v2.6h-2.6zM193.5,295.9h2.6v2.6h-2.6zM313.6,190.8h2.6v2.6h-2.6zM193.6,289.5h2.6v2.6h-2.6zM442.9,109.5h2.2v2.2h-2.2zM439.6,116.0h2.2v2.2h-2.2zM437.4,115.8h2.2v2.2h-2.2zM193.4,298.7h2.6v2.6h-2.6zM166.7,289.8h2.6v2.6h-2.6zM268.3,238.4h2.6v2.6h-2.6zM349.6,164.0h2.5v2.5h-2.5zM512.3,74.0h2.1v2.1h-2.1zM490.9,89.2h2.1v2.1h-2.1zM440.0,107.1h2.2v2.2h-2.2zM173.1,341.2h2.6v2.6h-2.6zM268.8,220.7h2.6v2.6h-2.6zM230.1,187.7h2.6v2.6h-2.6zM322.5,205.6h2.6v2.6h-2.6zM172.7,290.0h2.6v2.6h-2.6zM347.0,172.8h2.5v2.5h-2.5zM334.7,193.9h2.6v2.6h-2.6zM139.8,305.1h2.6v2.6h-2.6zM241.8,298.5h2.6v2.6h-2.6zM332.0,214.9h2.6v2.6h-2.6zM490.8,94.9h2.1v2.1h-2.1zM319.5,193.5h2.6v2.6h-2.6zM130.8,295.7h2.6v2.6h-2.6zM247.7,220.5h2.6v2.6h-2.6zM292.5,199.5h2.6v2.6h-2.6zM301.8,217.5h2.6v2.6h-2.6zM343.9,166.5h2.5v2.5h-2.5zM136.7,331.2h2.6v2.6h-2.6zM304.5,190.5h2.6v2.6h-2.6zM338.2,170.1h2.6v2.6h-2.6zM205.7,307.2h2.6v2.6h-2.6zM349.6,166.8h2.5v2.5h-2.5zM134.1,298.6h2.6v2.6h-2.6zM214.9,254.0h2.6v2.6h-2.6zM325.7,208.8h2.6v2.6h-2.6zM553.9,55.9h2.1v2.1h-2.1zM529.9,103.9h2.1v2.1h-2.1zM530.3,73.8h2.1v2.1h-2.1zM223.8,217.4h2.6v2.6h-2.6zM535.6,59.3h2.1v2.1h-2.1zM344.5,172.8h2.5v2.5h-2.5zM421.5,115.5h2.3v2.3h-2.3zM583.9,43.6h2.1v2.1h-2.1zM304.5,196.6h2.6v2.6h-2.6zM283.6,262.7h2.6v2.6h-2.6zM226.4,295.7h2.6v2.6h-2.6zM446.0,103.9h2.2v2.2h-2.2zM295.9,209.3h2.6v2.6h-2.6zM346.7,193.8h2.5v2.5h-2.5zM226.7,283.8h2.6v2.6h-2.6zM217.7,295.8h2.6v2.6h-2.6zM184.8,280.4h2.6v2.6h-2.6zM283.1,244.6h2.6v2.6h-2.6zM292.9,220.7h2.6v2.6h-2.6zM406.9,185.1h2.3v2.3h-2.3zM167.0,319.9h2.6v2.6h-2.6zM280.3,169.4h2.6v2.6h-2.6zM245.4,328.8h2.6v2.6h-2.6zM226.8,299.0h2.6v2.6h-2.6zM301.6,209.3h2.6v2.6h-2.6zM584.2,41.0h2.1v2.1h-2.1zM541.6,58.6h2.1v2.1h-2.1zM530.1,68.4h2.1v2.1h-2.1zM346.7,190.1h2.5v2.5h-2.5zM199.8,301.6h2.6v2.6h-2.6zM458.2,103.9h2.2v2.2h-2.2zM307.7,196.5h2.6v2.6h-2.6zM340.4,220.4h2.6v2.6h-2.6zM361.8,178.9h2.5v2.5h-2.5zM373.4,191.0h2.5v2.5h-2.5zM307.7,220.6h2.6v2.6h-2.6zM323.1,208.5h2.6v2.6h-2.6zM205.2,277.8h2.6v2.6h-2.6zM188.0,325.4h2.6v2.6h-2.6zM191.0,298.9h2.6v2.6h-2.6zM253.9,238.8h2.6v2.6h-2.6zM365.1,181.3h2.5v2.5h-2.5zM502.9,86.0h2.1v2.1h-2.1zM220.6,268.4h2.6v2.6h-2.6zM235.8,274.5h2.6v2.6h-2.6zM400.8,130.8h2.4v2.4h-2.4zM329.0,170.0h2.6v2.6h-2.6zM352.4,157.5h2.5v2.5h-2.5zM170.1,217.7h2.6v2.6h-2.6zM259.7,229.7h2.6v2.6h-2.6zM244.1,268.5h2.6v2.6h-2.6zM284.3,232.7h2.6v2.6h-2.6zM424.7,122.3h2.3v2.3h-2.3zM413.2,130.7h2.3v2.3h-2.3zM280.7,235.6h2.6v2.6h-2.6zM268.6,242.1h2.6v2.6h-2.6zM352.7,163.4h2.5v2.5h-2.5zM331.5,224.0h2.6v2.6h-2.6zM298.7,322.9h2.6v2.6h-2.6zM355.5,155.3h2.5v2.5h-2.5zM367.8,157.5h2.5v2.5h-2.5zM259.7,268.4h2.6v2.6h-2.6zM341.0,205.6h2.6v2.6h-2.6zM470.0,95.3h2.1v2.1h-2.1zM331.6,209.0h2.6v2.6h-2.6zM143.3,271.8h2.6v2.6h-2.6zM467.0,94.6h2.1v2.1h-2.1zM220.8,286.7h2.6v2.6h-2.6zM325.5,187.8h2.6v2.6h-2.6zM187.6,319.4h2.6v2.6h-2.6zM566.0,52.8h2.1v2.1h-2.1zM268.6,247.5h2.6v2.6h-2.6zM410.2,124.8h2.3v2.3h-2.3zM434.4,100.8h2.2v2.2h-2.2zM127.8,304.5h2.6v2.6h-2.6zM401.1,140.1h2.4v2.4h-2.4zM223.3,286.6h2.6v2.6h-2.6zM211.6,304.6h2.6v2.6h-2.6zM319.3,202.6h2.6v2.6h-2.6zM163.7,274.5h2.6v2.6h-2.6zM277.7,247.8h2.6v2.6h-2.6zM298.6,199.3h2.6v2.6h-2.6zM527.0,68.0h2.1v2.1h-2.1zM328.9,178.7h2.6v2.6h-2.6zM262.7,235.8h2.6v2.6h-2.6zM259.8,220.4h2.6v2.6h-2.6zM313.2,208.5h2.6v2.6h-2.6zM139.8,265.9h2.6v2.6h-2.6zM217.4,340.5h2.6v2.6h-2.6zM220.9,292.7h2.6v2.6h-2.6zM316.5,206.1h2.6v2.6h-2.6zM208.6,277.7h2.6v2.6h-2.6zM305.2,223.6h2.6v2.6h-2.6zM256.7,244.8h2.6v2.6h-2.6zM497.1,88.8h2.1v2.1h-2.1zM205.7,280.5h2.6v2.6h-2.6zM286.4,214.7h2.6v2.6h-2.6zM463.6,100.7h2.2v2.2h-2.2zM226.6,313.9h2.6v2.6h-2.6zM229.6,268.5h2.6v2.6h-2.6zM220.6,268.5h2.6v2.6h-2.6zM199.8,281.3h2.6v2.6h-2.6zM595.7,37.9h2.1v2.1h-2.1zM433.5,116.3h2.3v2.3h-2.3zM160.3,310.5h2.6v2.6h-2.6zM286.8,226.7h2.6v2.6h-2.6zM317.1,181.8h2.6v2.6h-2.6zM124.7,277.5h2.6v2.6h-2.6zM349.8,161.2h2.5v2.5h-2.5zM382.6,137.0h2.4v2.4h-2.4zM484.7,91.8h2.1v2.1h-2.1zM226.8,250.7h2.6v2.6h-2.6zM247.7,274.4h2.6v2.6h-2.6zM194.0,313.7h2.6v2.6h-2.6zM307.7,226.8h2.6v2.6h-2.6zM271.9,277.6h2.6v2.6h-2.6zM418.9,134.0h2.3v2.3h-2.3zM391.4,142.9h2.4v2.4h-2.4zM202.5,283.1h2.6v2.6h-2.6zM527.4,68.0h2.1v2.1h-2.1zM374.1,151.3h2.4v2.4h-2.4zM415.8,118.9h2.3v2.3h-2.3zM319.6,223.5h2.6v2.6h-2.6zM250.6,241.6h2.6v2.6h-2.6zM157.8,310.6h2.6v2.6h-2.6zM328.4,179.0h2.6v2.6h-2.6zM454.7,101.0h2.2v2.2h-2.2zM226.4,289.6h2.6v2.6h-2.6zM343.2,163.9h2.6v2.6h-2.6zM158.0,289.8h2.6v2.6h-2.6zM553.9,59.1h2.1v2.1h-2.1zM428.4,128.1h2.3v2.3h-2.3zM431.0,116.4h2.3v2.3h-2.3zM454.8,104.0h2.2v2.2h-2.2zM514.9,70.6h2.1v2.1h-2.1zM233.0,256.8h2.6v2.6h-2.6zM175.7,283.8h2.6v2.6h-2.6zM410.0,128.0h2.3v2.3h-2.3zM292.9,202.6h2.6v2.6h-2.6zM586.9,44.3h2.1v2.1h-2.1zM160.5,280.6h2.6v2.6h-2.6zM175.7,338.0h2.6v2.6h-2.6zM256.5,248.3h2.6v2.6h-2.6zM205.8,229.7h2.6v2.6h-2.6zM247.9,214.8h2.6v2.6h-2.6zM329.0,173.0h2.6v2.6h-2.6zM410.0,131.4h2.3v2.3h-2.3zM196.3,286.7h2.6v2.6h-2.6zM145.7,322.8h2.6v2.6h-2.6zM211.6,250.9h2.6v2.6h-2.6zM235.6,326.1h2.6v2.6h-2.6zM508.9,79.8h2.1v2.1h-2.1zM193.6,307.7h2.6v2.6h-2.6zM314.0,196.7h2.6v2.6h-2.6zM259.9,239.0h2.6v2.6h-2.6zM416.1,133.7h2.3v2.3h-2.3zM287.0,277.4h2.6v2.6h-2.6zM554.0,62.0h2.1v2.1h-2.1zM250.5,208.8h2.6v2.6h-2.6zM472.7,187.7h2.1v2.1h-2.1zM262.6,262.7h2.6v2.6h-2.6zM181.7,301.9h2.6v2.6h-2.6z"/>
<path fill="#7a20c8" fill-opacity="0.70" d="M214.9,325.8h2.0v2.0h-2.0zM146.0,293.0h2.0v2.0h-2.0zM265.9,239.2h2.0v2.0h-2.0zM193.7,259.5h2.0v2.0h-2.0zM323.2,194.2h2.0v2.0h-2.0zM247.9,242.0h2.0v2.0h-2.0zM211.7,298.7h2.0v2.0h-2.0zM175.8,241.6h2.0v2.0h-2.0zM296.3,209.2h2.0v2.0h-2.0zM227.3,286.7h2.0v2.0h-2.0zM322.8,220.8h2.0v2.0h-2.0zM232.3,304.9h2.0v2.0h-2.0zM245.1,236.3h2.0v2.0h-2.0zM196.9,329.1h2.0v2.0h-2.0zM184.6,284.3h2.0v2.0h-2.0zM266.0,251.5h2.0v2.0h-2.0zM299.2,223.9h2.0v2.0h-2.0zM448.9,128.2h1.6v1.6h-1.6zM407.5,128.3h1.7v1.7h-1.7zM181.9,260.3h2.0v2.0h-2.0zM301.9,260.1h2.0v2.0h-2.0zM206.2,305.5h2.0v2.0h-2.0zM194.5,311.1h2.0v2.0h-2.0zM314.2,259.7h2.0v2.0h-2.0zM221.3,226.6h2.0v2.0h-2.0zM416.4,185.8h1.7v1.7h-1.7zM443.5,134.6h1.6v1.6h-1.6zM245.3,280.8h2.0v2.0h-2.0zM296.2,205.9h2.0v2.0h-2.0zM248.2,278.0h2.0v2.0h-2.0zM422.0,119.5h1.7v1.7h-1.7zM308.0,179.5h2.0v2.0h-2.0zM199.9,295.3h2.0v2.0h-2.0zM187.9,295.9h2.0v2.0h-2.0zM194.2,266.6h2.0v2.0h-2.0zM236.1,259.9h2.0v2.0h-2.0zM221.1,220.8h2.0v2.0h-2.0zM290.1,196.8h2.0v2.0h-2.0zM266.3,215.0h2.0v2.0h-2.0zM199.9,269.0h2.0v2.0h-2.0zM175.9,305.0h2.0v2.0h-2.0zM263.2,226.8h2.0v2.0h-2.0zM244.9,242.2h2.0v2.0h-2.0zM311.2,199.9h2.0v2.0h-2.0zM200.0,314.2h2.0v2.0h-2.0zM245.1,284.0h2.0v2.0h-2.0zM241.8,265.9h2.0v2.0h-2.0zM218.1,290.2h2.0v2.0h-2.0zM202.7,308.2h2.0v2.0h-2.0zM335.3,167.2h2.0v2.0h-2.0zM190.9,305.0h2.0v2.0h-2.0zM466.6,95.3h1.5v1.5h-1.5zM214.9,259.9h2.0v2.0h-2.0zM281.0,235.6h2.0v2.0h-2.0zM226.8,305.1h2.0v2.0h-2.0zM298.8,205.7h2.0v2.0h-2.0zM326.1,188.0h2.0v2.0h-2.0zM356.2,161.5h1.9v1.9h-1.9zM193.7,310.8h2.0v2.0h-2.0zM208.7,259.9h2.0v2.0h-2.0zM223.9,266.3h2.0v2.0h-2.0zM322.7,181.9h2.0v2.0h-2.0zM281.1,215.3h2.0v2.0h-2.0zM239.1,253.9h2.0v2.0h-2.0zM227.2,269.0h2.0v2.0h-2.0zM274.6,230.3h2.0v2.0h-2.0zM380.1,152.3h1.8v1.8h-1.8zM328.8,191.2h2.0v2.0h-2.0zM238.8,269.5h2.0v2.0h-2.0zM107.3,311.0h2.0v2.0h-2.0zM178.9,286.8h2.0v2.0h-2.0zM329.0,196.7h2.0v2.0h-2.0zM238.7,251.2h2.0v2.0h-2.0zM248.4,242.0h2.0v2.0h-2.0zM257.1,296.0h2.0v2.0h-2.0zM260.1,299.3h2.0v2.0h-2.0zM554.2,58.9h1.5v1.5h-1.5zM346.9,170.1h1.9v1.9h-1.9zM253.9,266.0h2.0v2.0h-2.0zM425.2,122.1h1.7v1.7h-1.7zM479.1,95.0h1.5v1.5h-1.5zM185.0,262.5h2.0v2.0h-2.0zM388.9,158.3h1.8v1.8h-1.8zM139.8,323.6h2.0v2.0h-2.0zM181.9,332.2h2.0v2.0h-2.0zM251.0,326.0h2.0v2.0h-2.0zM232.6,301.7h2.0v2.0h-2.0zM251.2,245.1h2.0v2.0h-2.0zM122.0,286.8h2.0v2.0h-2.0zM268.7,209.2h2.0v2.0h-2.0zM167.4,289.9h2.0v2.0h-2.0zM289.6,227.1h2.0v2.0h-2.0zM187.5,319.7h2.0v2.0h-2.0zM380.2,140.0h1.8v1.8h-1.8zM301.6,203.3h2.0v2.0h-2.0zM338.0,223.9h2.0v2.0h-2.0zM256.9,266.1h2.0v2.0h-2.0zM392.4,127.9h1.8v1.8h-1.8zM308.1,190.2h2.0v2.0h-2.0zM214.7,346.9h2.0v2.0h-2.0zM362.0,146.0h1.9v1.9h-1.9zM224.3,304.9h2.0v2.0h-2.0zM310.6,190.8h2.0v2.0h-2.0zM398.2,131.3h1.8v1.8h-1.8zM178.9,323.1h2.0v2.0h-2.0zM235.9,212.4h2.0v2.0h-2.0zM341.0,169.8h2.0v2.0h-2.0zM179.0,322.9h2.0v2.0h-2.0zM257.1,299.1h2.0v2.0h-2.0zM185.7,313.6h2.0v2.0h-2.0zM221.2,335.2h2.0v2.0h-2.0zM223.8,281.2h2.0v2.0h-2.0zM143.2,295.8h2.0v2.0h-2.0zM236.3,299.1h2.0v2.0h-2.0zM296.2,211.8h2.0v2.0h-2.0zM203.1,340.9h2.0v2.0h-2.0zM262.8,235.8h2.0v2.0h-2.0zM404.0,131.4h1.8v1.8h-1.8zM167.1,293.0h2.0v2.0h-2.0zM230.0,298.8h2.0v2.0h-2.0zM305.1,197.2h2.0v2.0h-2.0zM430.7,101.1h1.7v1.7h-1.7zM343.8,164.2h2.0v2.0h-2.0zM143.0,329.3h2.0v2.0h-2.0zM232.8,316.9h2.0v2.0h-2.0zM278.2,232.5h2.0v2.0h-2.0zM233.0,281.0h2.0v2.0h-2.0zM197.1,280.8h2.0v2.0h-2.0zM179.2,325.9h2.0v2.0h-2.0zM260.2,275.0h2.0v2.0h-2.0zM221.0,302.6h2.0v2.0h-2.0zM317.2,211.8h2.0v2.0h-2.0zM221.4,277.9h2.0v2.0h-2.0zM203.1,278.0h2.0v2.0h-2.0zM283.5,250.7h2.0v2.0h-2.0zM203.1,295.5h2.0v2.0h-2.0zM191.3,317.0h2.0v2.0h-2.0zM205.8,289.9h2.0v2.0h-2.0zM164.1,305.1h2.0v2.0h-2.0zM248.1,241.9h2.0v2.0h-2.0zM235.8,209.0h2.0v2.0h-2.0zM250.7,188.0h2.0v2.0h-2.0zM191.1,338.0h2.0v2.0h-2.0zM286.7,227.1h2.0v2.0h-2.0zM157.8,286.7h2.0v2.0h-2.0zM311.1,206.3h2.0v2.0h-2.0zM302.1,202.8h2.0v2.0h-2.0zM260.2,235.8h2.0v2.0h-2.0zM272.0,224.2h2.0v2.0h-2.0zM182.3,308.0h2.0v2.0h-2.0zM206.4,314.2h2.0v2.0h-2.0zM194.0,265.8h2.0v2.0h-2.0zM269.3,269.2h2.0v2.0h-2.0zM166.9,278.3h2.0v2.0h-2.0zM257.3,232.9h2.0v2.0h-2.0zM308.1,208.8h2.0v2.0h-2.0zM142.6,299.5h2.0v2.0h-2.0zM278.3,218.0h2.0v2.0h-2.0zM257.1,260.0h2.0v2.0h-2.0zM382.9,137.0h1.8v1.8h-1.8zM187.8,310.7h2.0v2.0h-2.0zM364.8,160.9h1.9v1.9h-1.9zM247.9,305.6h2.0v2.0h-2.0zM227.1,265.8h2.0v2.0h-2.0zM410.4,131.2h1.7v1.7h-1.7zM512.5,77.4h1.5v1.5h-1.5zM158.5,328.9h2.0v2.0h-2.0zM182.1,253.9h2.0v2.0h-2.0zM347.3,173.1h1.9v1.9h-1.9zM115.7,331.9h2.0v2.0h-2.0zM263.1,302.3h2.0v2.0h-2.0zM220.9,251.1h2.0v2.0h-2.0zM452.6,170.2h1.6v1.6h-1.6zM290.0,200.0h2.0v2.0h-2.0z"/>
<path fill="#f0a020" fill-opacity="0.45" d="M244.8,241.9h2.2v2.2h-2.2zM307.8,193.8h2.2v2.2h-2.2zM334.8,302.0h2.2v2.2h-2.2zM185.0,328.6h2.2v2.2h-2.2zM208.8,245.1h2.2v2.2h-2.2zM262.7,283.7h2.2v2.2h-2.2zM346.5,166.9h2.1v2.1h-2.1zM536.4,92.2h1.7v1.7h-1.7zM416.1,125.1h1.9v1.9h-1.9zM158.2,322.6h2.2v2.2h-2.2zM199.3,251.2h2.2v2.2h-2.2zM287.0,200.0h2.2v2.2h-2.2zM286.8,208.9h2.2v2.2h-2.2zM251.2,250.6h2.2v2.2h-2.2zM188.2,268.8h2.2v2.2h-2.2zM208.7,253.9h2.2v2.2h-2.2zM164.0,317.0h2.2v2.2h-2.2zM302.1,205.7h2.2v2.2h-2.2zM416.1,143.4h1.9v1.9h-1.9zM260.1,284.1h2.2v2.2h-2.2zM383.4,188.0h2.0v2.0h-2.0zM319.5,181.5h2.2v2.2h-2.2zM359.6,214.9h2.1v2.1h-2.1zM334.6,217.6h2.2v2.2h-2.2zM238.6,253.7h2.2v2.2h-2.2zM325.9,181.6h2.2v2.2h-2.2zM451.8,134.1h1.8v1.8h-1.8zM248.0,241.9h2.2v2.2h-2.2zM196.7,287.0h2.2v2.2h-2.2zM344.0,148.8h2.1v2.1h-2.1zM307.9,197.0h2.2v2.2h-2.2zM151.8,304.8h2.2v2.2h-2.2zM412.8,128.3h1.9v1.9h-1.9zM248.0,277.9h2.2v2.2h-2.2zM358.9,163.9h2.1v2.1h-2.1zM370.8,155.2h2.1v2.1h-2.1zM247.8,215.2h2.2v2.2h-2.2zM175.9,286.3h2.2v2.2h-2.2zM427.8,116.2h1.9v1.9h-1.9zM241.9,245.0h2.2v2.2h-2.2zM476.3,101.1h1.7v1.7h-1.7zM539.5,65.3h1.7v1.7h-1.7zM178.8,304.6h2.2v2.2h-2.2zM296.4,224.1h2.2v2.2h-2.2zM211.8,280.6h2.2v2.2h-2.2zM221.0,344.0h2.2v2.2h-2.2zM161.0,311.2h2.2v2.2h-2.2zM458.5,109.9h1.8v1.8h-1.8zM397.9,142.7h2.0v2.0h-2.0zM248.0,244.8h2.2v2.2h-2.2zM322.7,178.8h2.2v2.2h-2.2zM266.1,265.7h2.2v2.2h-2.2zM458.1,110.3h1.8v1.8h-1.8zM196.6,308.0h2.2v2.2h-2.2zM424.8,125.5h1.9v1.9h-1.9zM335.3,194.2h2.2v2.2h-2.2zM455.4,98.1h1.8v1.8h-1.8zM223.4,278.2h2.2v2.2h-2.2zM427.8,113.2h1.9v1.9h-1.9zM581.5,46.8h1.7v1.7h-1.7zM278.4,289.7h2.2v2.2h-2.2zM334.6,176.3h2.2v2.2h-2.2zM292.6,242.2h2.2v2.2h-2.2zM287.1,194.2h2.2v2.2h-2.2zM217.6,256.7h2.2v2.2h-2.2zM194.2,332.2h2.2v2.2h-2.2zM206.0,299.6h2.2v2.2h-2.2zM319.7,220.9h2.2v2.2h-2.2zM428.1,118.8h1.9v1.9h-1.9zM424.8,130.9h1.9v1.9h-1.9zM332.1,182.1h2.2v2.2h-2.2zM241.6,305.0h2.2v2.2h-2.2zM268.9,275.2h2.2v2.2h-2.2zM196.6,310.5h2.2v2.2h-2.2zM145.7,260.2h2.2v2.2h-2.2zM232.8,259.4h2.2v2.2h-2.2zM253.8,247.9h2.2v2.2h-2.2zM277.9,235.8h2.2v2.2h-2.2zM196.9,298.8h2.2v2.2h-2.2zM251.0,280.5h2.2v2.2h-2.2zM329.1,173.1h2.2v2.2h-2.2zM290.1,188.1h2.2v2.2h-2.2z"/>
<path fill="#1a14f0" fill-opacity="0.85" d="M365.1,148.7h1.9v1.9h-1.9zM223.9,253.6h2.0v2.0h-2.0zM257.0,232.9h2.0v2.0h-2.0zM269.3,232.7h2.0v2.0h-2.0zM194.2,278.1h2.0v2.0h-2.0zM151.9,308.2h2.0v2.0h-2.0zM211.5,259.8h2.0v2.0h-2.0zM133.9,338.2h2.0v2.0h-2.0zM239.3,224.2h2.0v2.0h-2.0zM383.2,143.1h1.8v1.8h-1.8zM395.0,137.2h1.8v1.8h-1.8zM304.8,202.9h2.0v2.0h-2.0zM172.9,289.8h2.0v2.0h-2.0zM277.9,226.6h2.0v2.0h-2.0zM244.8,269.1h2.0v2.0h-2.0zM377.1,161.1h1.8v1.8h-1.8zM536.6,62.5h1.5v1.5h-1.5zM290.0,191.4h2.0v2.0h-2.0zM296.0,230.2h2.0v2.0h-2.0zM191.2,310.9h2.0v2.0h-2.0zM254.1,239.1h2.0v2.0h-2.0zM212.2,344.4h2.0v2.0h-2.0zM248.1,305.0h2.0v2.0h-2.0zM176.0,329.1h2.0v2.0h-2.0zM518.5,71.4h1.5v1.5h-1.5zM392.4,142.9h1.8v1.8h-1.8zM200.0,337.9h2.0v2.0h-2.0zM422.7,113.2h1.7v1.7h-1.7zM287.1,185.2h2.0v2.0h-2.0zM248.0,245.1h2.0v2.0h-2.0zM416.1,124.5h1.7v1.7h-1.7zM146.0,316.7h2.0v2.0h-2.0zM238.9,242.0h2.0v2.0h-2.0zM149.1,299.5h2.0v2.0h-2.0zM253.7,286.9h2.0v2.0h-2.0zM232.7,284.1h2.0v2.0h-2.0zM320.0,173.1h2.0v2.0h-2.0zM350.1,149.1h1.9v1.9h-1.9zM190.9,298.9h2.0v2.0h-2.0zM470.3,92.4h1.5v1.5h-1.5zM344.5,157.9h1.9v1.9h-1.9zM271.9,220.8h2.0v2.0h-2.0zM209.0,313.5h2.0v2.0h-2.0zM196.9,262.7h2.0v2.0h-2.0zM287.1,220.6h2.0v2.0h-2.0zM218.0,290.1h2.0v2.0h-2.0zM256.4,269.2h2.0v2.0h-2.0zM271.5,215.3h2.0v2.0h-2.0zM430.9,118.9h1.7v1.7h-1.7zM341.0,161.2h2.0v2.0h-2.0zM290.4,197.0h2.0v2.0h-2.0zM211.9,263.0h2.0v2.0h-2.0zM332.2,157.9h2.0v2.0h-2.0zM230.1,187.9h2.0v2.0h-2.0zM206.3,284.3h2.0v2.0h-2.0zM295.9,196.9h2.0v2.0h-2.0zM262.8,218.1h2.0v2.0h-2.0zM293.0,182.4h2.0v2.0h-2.0zM506.2,79.9h1.5v1.5h-1.5zM260.0,314.1h2.0v2.0h-2.0zM304.8,191.1h2.0v2.0h-2.0zM197.0,293.2h2.0v2.0h-2.0zM164.0,290.2h2.0v2.0h-2.0zM247.6,179.2h2.0v2.0h-2.0zM374.5,151.9h1.8v1.8h-1.8zM335.0,166.8h2.0v2.0h-2.0zM214.8,284.2h2.0v2.0h-2.0zM212.3,251.1h2.0v2.0h-2.0zM154.7,358.3h2.0v2.0h-2.0zM277.5,248.2h2.0v2.0h-2.0zM311.0,179.2h2.0v2.0h-2.0zM155.1,310.7h2.0v2.0h-2.0zM368.0,136.3h1.9v1.9h-1.9zM503.2,89.1h1.5v1.5h-1.5zM302.0,197.0h2.0v2.0h-2.0zM365.4,152.0h1.9v1.9h-1.9zM185.2,292.8h2.0v2.0h-2.0zM350.2,176.1h1.9v1.9h-1.9zM305.1,175.9h2.0v2.0h-2.0zM176.4,301.8h2.0v2.0h-2.0zM332.3,172.9h2.0v2.0h-2.0zM193.9,335.0h2.0v2.0h-2.0zM241.8,254.4h2.0v2.0h-2.0zM185.2,299.3h2.0v2.0h-2.0zM242.1,253.9h2.0v2.0h-2.0zM238.9,269.4h2.0v2.0h-2.0zM260.1,269.0h2.0v2.0h-2.0zM169.6,332.2h2.0v2.0h-2.0zM328.7,157.8h2.0v2.0h-2.0zM380.2,146.4h1.8v1.8h-1.8zM239.5,248.4h2.0v2.0h-2.0zM200.1,323.0h2.0v2.0h-2.0zM217.9,281.1h2.0v2.0h-2.0zM430.5,119.0h1.7v1.7h-1.7zM368.4,146.3h1.9v1.9h-1.9zM244.9,230.1h2.0v2.0h-2.0zM257.1,197.1h2.0v2.0h-2.0zM251.0,338.4h2.0v2.0h-2.0zM149.1,298.8h2.0v2.0h-2.0zM391.9,140.3h1.8v1.8h-1.8zM383.3,140.1h1.8v1.8h-1.8zM191.1,311.2h2.0v2.0h-2.0zM173.1,284.2h2.0v2.0h-2.0zM182.0,313.7h2.0v2.0h-2.0zM449.3,104.5h1.6v1.6h-1.6zM206.2,307.7h2.0v2.0h-2.0zM166.8,280.9h2.0v2.0h-2.0zM227.1,233.3h2.0v2.0h-2.0zM331.9,148.9h2.0v2.0h-2.0zM259.8,194.2h2.0v2.0h-2.0zM197.3,263.2h2.0v2.0h-2.0zM313.8,167.0h2.0v2.0h-2.0zM218.0,266.4h2.0v2.0h-2.0zM302.4,190.6h2.0v2.0h-2.0zM244.4,256.9h2.0v2.0h-2.0zM197.1,316.9h2.0v2.0h-2.0zM521.4,77.1h1.5v1.5h-1.5zM268.9,187.8h2.0v2.0h-2.0zM155.3,332.4h2.0v2.0h-2.0zM227.2,274.9h2.0v2.0h-2.0zM419.2,110.2h1.7v1.7h-1.7zM328.9,173.0h2.0v2.0h-2.0zM395.3,145.5h1.8v1.8h-1.8zM320.0,199.9h2.0v2.0h-2.0zM337.9,164.4h2.0v2.0h-2.0zM194.1,254.2h2.0v2.0h-2.0zM455.1,284.1h1.6v1.6h-1.6zM368.0,161.3h1.9v1.9h-1.9zM326.1,164.2h2.0v2.0h-2.0zM308.7,166.7h2.0v2.0h-2.0zM254.1,314.2h2.0v2.0h-2.0zM233.2,283.9h2.0v2.0h-2.0zM280.8,229.9h2.0v2.0h-2.0zM164.1,322.4h2.0v2.0h-2.0zM335.5,136.9h2.0v2.0h-2.0zM500.6,86.1h1.5v1.5h-1.5zM332.1,163.8h2.0v2.0h-2.0zM334.8,158.2h2.0v2.0h-2.0zM284.4,233.2h2.0v2.0h-2.0zM259.7,220.7h2.0v2.0h-2.0zM377.2,136.6h1.8v1.8h-1.8zM284.0,187.9h2.0v2.0h-2.0zM244.9,235.8h2.0v2.0h-2.0zM347.0,173.0h1.9v1.9h-1.9zM242.3,266.2h2.0v2.0h-2.0zM392.2,145.9h1.8v1.8h-1.8zM359.1,146.2h1.9v1.9h-1.9zM328.5,191.2h2.0v2.0h-2.0zM151.9,304.7h2.0v2.0h-2.0zM404.1,125.5h1.8v1.8h-1.8zM283.9,206.4h2.0v2.0h-2.0zM313.7,191.4h2.0v2.0h-2.0zM289.9,221.1h2.0v2.0h-2.0zM238.7,278.2h2.0v2.0h-2.0zM425.1,112.9h1.7v1.7h-1.7zM319.5,173.0h2.0v2.0h-2.0zM407.1,110.2h1.7v1.7h-1.7zM227.1,301.9h2.0v2.0h-2.0zM269.5,208.9h2.0v2.0h-2.0zM251.0,220.9h2.0v2.0h-2.0zM263.3,242.0h2.0v2.0h-2.0zM259.8,281.3h2.0v2.0h-2.0zM238.7,290.0h2.0v2.0h-2.0zM326.4,185.2h2.0v2.0h-2.0zM353.3,164.3h1.9v1.9h-1.9zM257.5,268.7h2.0v2.0h-2.0zM229.9,229.7h2.0v2.0h-2.0zM310.7,182.2h2.0v2.0h-2.0zM298.3,221.1h2.0v2.0h-2.0zM305.1,211.8h2.0v2.0h-2.0zM188.2,292.3h2.0v2.0h-2.0zM506.4,74.1h1.5v1.5h-1.5zM197.1,325.9h2.0v2.0h-2.0zM193.9,269.0h2.0v2.0h-2.0zM137.1,313.5h2.0v2.0h-2.0zM260.0,206.1h2.0v2.0h-2.0zM197.2,275.0h2.0v2.0h-2.0zM299.1,196.9h2.0v2.0h-2.0zM292.8,229.7h2.0v2.0h-2.0zM353.2,140.0h1.9v1.9h-1.9zM295.7,194.0h2.0v2.0h-2.0zM287.0,236.0h2.0v2.0h-2.0zM347.1,154.9h1.9v1.9h-1.9zM233.2,179.1h2.0v2.0h-2.0zM217.6,311.2h2.0v2.0h-2.0zM398.2,131.3h1.8v1.8h-1.8zM187.8,307.6h2.0v2.0h-2.0zM217.9,301.7h2.0v2.0h-2.0zM181.7,296.3h2.0v2.0h-2.0zM152.0,296.0h2.0v2.0h-2.0zM341.0,160.8h2.0v2.0h-2.0zM242.4,274.5h2.0v2.0h-2.0zM245.4,248.0h2.0v2.0h-2.0zM218.2,277.9h2.0v2.0h-2.0zM263.5,206.1h2.0v2.0h-2.0zM260.1,305.1h2.0v2.0h-2.0zM206.1,310.9h2.0v2.0h-2.0zM287.1,200.0h2.0v2.0h-2.0zM263.2,215.1h2.0v2.0h-2.0zM371.1,152.7h1.9v1.9h-1.9zM166.7,277.7h2.0v2.0h-2.0zM229.9,269.1h2.0v2.0h-2.0zM154.8,290.1h2.0v2.0h-2.0zM244.6,254.3h2.0v2.0h-2.0zM170.1,322.9h2.0v2.0h-2.0zM289.7,202.9h2.0v2.0h-2.0zM289.5,203.2h2.0v2.0h-2.0zM377.2,139.6h1.8v1.8h-1.8zM320.3,154.7h2.0v2.0h-2.0zM284.1,278.2h2.0v2.0h-2.0zM178.7,299.2h2.0v2.0h-2.0zM176.1,323.0h2.0v2.0h-2.0zM395.1,134.0h1.8v1.8h-1.8zM154.9,310.2h2.0v2.0h-2.0zM262.8,244.8h2.0v2.0h-2.0zM265.8,269.1h2.0v2.0h-2.0zM227.0,260.0h2.0v2.0h-2.0zM358.7,158.6h1.9v1.9h-1.9zM133.9,277.9h2.0v2.0h-2.0zM410.5,134.4h1.7v1.7h-1.7zM260.1,293.0h2.0v2.0h-2.0zM271.8,236.2h2.0v2.0h-2.0zM221.0,278.0h2.0v2.0h-2.0zM161.3,313.9h2.0v2.0h-2.0zM206.1,287.0h2.0v2.0h-2.0zM290.0,206.3h2.0v2.0h-2.0zM221.1,304.4h2.0v2.0h-2.0zM247.5,229.7h2.0v2.0h-2.0zM337.6,163.5h2.0v2.0h-2.0zM263.2,248.0h2.0v2.0h-2.0zM185.2,283.7h2.0v2.0h-2.0zM524.5,68.2h1.5v1.5h-1.5zM179.0,341.1h2.0v2.0h-2.0zM230.1,259.7h2.0v2.0h-2.0zM295.9,266.1h2.0v2.0h-2.0zM286.8,223.7h2.0v2.0h-2.0zM260.0,248.0h2.0v2.0h-2.0zM283.7,211.9h2.0v2.0h-2.0zM373.8,142.8h1.9v1.9h-1.9zM241.9,272.2h2.0v2.0h-2.0zM254.0,254.0h2.0v2.0h-2.0zM163.9,323.2h2.0v2.0h-2.0zM347.0,167.5h1.9v1.9h-1.9zM314.0,188.6h2.0v2.0h-2.0zM209.2,287.0h2.0v2.0h-2.0zM199.9,284.0h2.0v2.0h-2.0zM347.2,173.0h1.9v1.9h-1.9zM248.1,326.0h2.0v2.0h-2.0zM215.0,244.5h2.0v2.0h-2.0zM191.1,247.7h2.0v2.0h-2.0zM325.8,176.5h2.0v2.0h-2.0zM169.8,272.1h2.0v2.0h-2.0zM202.9,286.5h2.0v2.0h-2.0zM215.5,286.9h2.0v2.0h-2.0zM203.0,320.3h2.0v2.0h-2.0zM221.0,281.4h2.0v2.0h-2.0zM155.3,292.8h2.0v2.0h-2.0zM326.1,196.8h2.0v2.0h-2.0zM166.9,277.8h2.0v2.0h-2.0zM212.1,265.8h2.0v2.0h-2.0zM304.8,175.9h2.0v2.0h-2.0zM227.3,215.1h2.0v2.0h-2.0zM185.1,293.6h2.0v2.0h-2.0zM215.1,286.8h2.0v2.0h-2.0zM289.8,182.0h2.0v2.0h-2.0zM304.7,179.3h2.0v2.0h-2.0zM322.9,200.0h2.0v2.0h-2.0zM196.9,289.8h2.0v2.0h-2.0zM535.9,71.7h1.5v1.5h-1.5zM476.2,95.8h1.5v1.5h-1.5zM269.1,209.3h2.0v2.0h-2.0zM175.6,290.2h2.0v2.0h-2.0zM158.1,263.3h2.0v2.0h-2.0zM161.1,302.0h2.0v2.0h-2.0zM269.1,230.4h2.0v2.0h-2.0zM262.8,236.2h2.0v2.0h-2.0zM161.0,292.6h2.0v2.0h-2.0zM253.9,232.7h2.0v2.0h-2.0zM214.9,284.1h2.0v2.0h-2.0zM140.3,332.2h2.0v2.0h-2.0zM223.7,310.9h2.0v2.0h-2.0zM266.0,224.1h2.0v2.0h-2.0zM221.1,257.3h2.0v2.0h-2.0zM368.1,149.2h1.9v1.9h-1.9zM221.1,205.9h2.0v2.0h-2.0zM331.6,169.6h2.0v2.0h-2.0zM233.2,302.2h2.0v2.0h-2.0zM166.8,326.2h2.0v2.0h-2.0zM302.0,179.4h2.0v2.0h-2.0zM185.1,286.9h2.0v2.0h-2.0zM368.4,145.6h1.9v1.9h-1.9zM215.2,307.8h2.0v2.0h-2.0zM200.0,271.9h2.0v2.0h-2.0zM251.0,251.0h2.0v2.0h-2.0zM260.0,242.2h2.0v2.0h-2.0zM431.1,107.3h1.7v1.7h-1.7zM268.7,251.2h2.0v2.0h-2.0zM223.8,224.2h2.0v2.0h-2.0zM137.4,286.9h2.0v2.0h-2.0zM206.0,280.7h2.0v2.0h-2.0zM173.2,257.4h2.0v2.0h-2.0zM226.9,230.2h2.0v2.0h-2.0zM371.0,146.5h1.9v1.9h-1.9zM302.1,191.0h2.0v2.0h-2.0zM245.0,290.2h2.0v2.0h-2.0zM335.1,158.8h2.0v2.0h-2.0zM215.1,287.1h2.0v2.0h-2.0zM571.8,50.2h1.5v1.5h-1.5zM356.0,176.0h1.9v1.9h-1.9zM260.0,215.2h2.0v2.0h-2.0zM322.7,187.7h2.0v2.0h-2.0zM149.1,314.7h2.0v2.0h-2.0zM296.3,190.6h2.0v2.0h-2.0zM166.9,298.9h2.0v2.0h-2.0zM158.0,311.1h2.0v2.0h-2.0zM281.0,202.8h2.0v2.0h-2.0zM238.9,275.1h2.0v2.0h-2.0zM287.3,194.1h2.0v2.0h-2.0zM431.2,125.3h1.7v1.7h-1.7zM191.0,298.8h2.0v2.0h-2.0zM281.0,179.2h2.0v2.0h-2.0zM293.2,208.8h2.0v2.0h-2.0zM176.1,301.8h2.0v2.0h-2.0zM413.2,119.4h1.7v1.7h-1.7zM290.0,218.4h2.0v2.0h-2.0zM362.3,145.8h1.9v1.9h-1.9zM200.0,284.2h2.0v2.0h-2.0zM293.2,194.3h2.0v2.0h-2.0zM239.0,230.3h2.0v2.0h-2.0zM347.0,167.2h1.9v1.9h-1.9zM220.9,293.2h2.0v2.0h-2.0zM172.9,257.3h2.0v2.0h-2.0zM293.2,239.2h2.0v2.0h-2.0zM241.8,281.1h2.0v2.0h-2.0zM290.6,236.0h2.0v2.0h-2.0zM232.6,259.8h2.0v2.0h-2.0zM299.1,160.9h2.0v2.0h-2.0zM421.8,161.1h1.7v1.7h-1.7zM374.3,143.1h1.8v1.8h-1.8zM266.0,209.1h2.0v2.0h-2.0zM184.6,293.1h2.0v2.0h-2.0zM296.1,205.6h2.0v2.0h-2.0zM164.5,289.4h2.0v2.0h-2.0zM511.9,80.0h1.5v1.5h-1.5zM224.3,217.8h2.0v2.0h-2.0zM212.2,284.1h2.0v2.0h-2.0zM247.7,235.8h2.0v2.0h-2.0zM214.3,268.7h2.0v2.0h-2.0zM202.9,329.1h2.0v2.0h-2.0zM509.1,77.7h1.5v1.5h-1.5zM326.3,169.6h2.0v2.0h-2.0zM236.0,257.1h2.0v2.0h-2.0zM334.8,166.8h2.0v2.0h-2.0zM241.6,241.9h2.0v2.0h-2.0zM274.6,205.3h2.0v2.0h-2.0zM599.0,35.4h1.5v1.5h-1.5zM173.1,301.4h2.0v2.0h-2.0zM434.0,116.2h1.7v1.7h-1.7zM185.1,314.2h2.0v2.0h-2.0zM248.0,293.0h2.0v2.0h-2.0zM280.7,178.7h2.0v2.0h-2.0zM139.8,310.7h2.0v2.0h-2.0zM355.8,149.0h1.9v1.9h-1.9zM245.3,232.9h2.0v2.0h-2.0zM259.7,223.9h2.0v2.0h-2.0zM247.9,211.9h2.0v2.0h-2.0zM232.8,290.2h2.0v2.0h-2.0zM503.5,80.5h1.5v1.5h-1.5zM313.8,197.1h2.0v2.0h-2.0zM305.2,200.0h2.0v2.0h-2.0zM230.1,254.0h2.0v2.0h-2.0zM329.2,154.7h2.0v2.0h-2.0zM319.5,196.9h2.0v2.0h-2.0zM370.9,155.5h1.9v1.9h-1.9zM314.0,196.8h2.0v2.0h-2.0zM311.7,179.0h2.0v2.0h-2.0zM323.0,175.9h2.0v2.0h-2.0zM316.8,164.2h2.0v2.0h-2.0zM295.8,196.8h2.0v2.0h-2.0zM205.6,268.9h2.0v2.0h-2.0zM242.2,233.0h2.0v2.0h-2.0zM167.2,271.9h2.0v2.0h-2.0zM226.8,245.3h2.0v2.0h-2.0zM254.1,254.3h2.0v2.0h-2.0zM221.2,269.1h2.0v2.0h-2.0zM185.1,275.3h2.0v2.0h-2.0zM295.9,182.1h2.0v2.0h-2.0zM142.7,313.9h2.0v2.0h-2.0zM257.2,241.5h2.0v2.0h-2.0zM364.7,143.2h1.9v1.9h-1.9zM200.4,337.7h2.0v2.0h-2.0zM377.5,145.7h1.8v1.8h-1.8zM307.9,206.2h2.0v2.0h-2.0zM335.1,160.9h2.0v2.0h-2.0zM224.0,302.0h2.0v2.0h-2.0zM233.1,263.1h2.0v2.0h-2.0zM230.1,325.9h2.0v2.0h-2.0zM191.2,265.5h2.0v2.0h-2.0zM250.8,245.2h2.0v2.0h-2.0zM319.9,172.9h2.0v2.0h-2.0zM551.2,56.3h1.5v1.5h-1.5zM272.1,223.9h2.0v2.0h-2.0zM347.1,148.6h1.9v1.9h-1.9zM365.3,149.5h1.9v1.9h-1.9zM254.2,245.2h2.0v2.0h-2.0zM269.1,269.0h2.0v2.0h-2.0zM560.4,46.9h1.5v1.5h-1.5zM512.1,82.9h1.5v1.5h-1.5zM236.0,254.0h2.0v2.0h-2.0zM458.2,122.3h1.6v1.6h-1.6zM278.0,182.3h2.0v2.0h-2.0zM566.4,47.5h1.5v1.5h-1.5zM194.1,290.0h2.0v2.0h-2.0zM200.1,299.5h2.0v2.0h-2.0zM133.9,301.6h2.0v2.0h-2.0zM214.9,263.2h2.0v2.0h-2.0zM359.1,176.0h1.9v1.9h-1.9zM260.5,271.9h2.0v2.0h-2.0zM566.1,50.5h1.5v1.5h-1.5zM269.2,194.2h2.0v2.0h-2.0zM398.3,137.2h1.8v1.8h-1.8zM223.8,245.1h2.0v2.0h-2.0zM352.9,148.8h1.9v1.9h-1.9zM334.6,161.3h2.0v2.0h-2.0zM196.9,236.1h2.0v2.0h-2.0zM148.8,263.1h2.0v2.0h-2.0zM223.7,233.0h2.0v2.0h-2.0zM407.0,131.5h1.7v1.7h-1.7zM233.3,268.8h2.0v2.0h-2.0zM119.1,317.4h2.0v2.0h-2.0zM188.0,313.8h2.0v2.0h-2.0zM365.1,148.9h1.9v1.9h-1.9zM311.2,167.3h2.0v2.0h-2.0zM167.4,334.7h2.0v2.0h-2.0zM319.9,149.1h2.0v2.0h-2.0zM200.1,290.5h2.0v2.0h-2.0zM511.9,76.9h1.5v1.5h-1.5zM238.7,256.8h2.0v2.0h-2.0zM370.9,139.8h1.9v1.9h-1.9zM278.0,251.3h2.0v2.0h-2.0zM254.3,227.2h2.0v2.0h-2.0zM218.2,320.0h2.0v2.0h-2.0zM278.1,215.0h2.0v2.0h-2.0zM145.9,295.8h2.0v2.0h-2.0zM404.4,128.4h1.7v1.7h-1.7zM265.9,221.3h2.0v2.0h-2.0zM233.1,283.9h2.0v2.0h-2.0zM386.2,136.8h1.8v1.8h-1.8zM194.4,296.1h2.0v2.0h-2.0zM193.8,287.4h2.0v2.0h-2.0zM242.4,278.7h2.0v2.0h-2.0zM230.8,239.3h2.0v2.0h-2.0zM256.6,238.8h2.0v2.0h-2.0zM220.9,293.3h2.0v2.0h-2.0zM241.6,286.9h2.0v2.0h-2.0zM260.4,260.5h2.0v2.0h-2.0zM191.1,289.8h2.0v2.0h-2.0zM215.4,206.1h2.0v2.0h-2.0zM182.5,322.9h2.0v2.0h-2.0zM245.1,229.9h2.0v2.0h-2.0zM311.2,146.2h2.0v2.0h-2.0zM356.3,143.5h1.9v1.9h-1.9zM389.2,128.4h1.8v1.8h-1.8zM200.1,341.2h2.0v2.0h-2.0zM196.7,313.9h2.0v2.0h-2.0zM311.1,175.5h2.0v2.0h-2.0zM326.0,155.2h2.0v2.0h-2.0zM218.2,314.2h2.0v2.0h-2.0zM253.8,227.2h2.0v2.0h-2.0zM272.2,223.7h2.0v2.0h-2.0zM358.6,230.1h1.9v1.9h-1.9zM151.8,287.2h2.0v2.0h-2.0zM533.2,74.0h1.5v1.5h-1.5zM277.7,221.1h2.0v2.0h-2.0zM470.1,88.8h1.5v1.5h-1.5zM200.2,296.6h2.0v2.0h-2.0zM250.7,250.7h2.0v2.0h-2.0zM316.6,175.9h2.0v2.0h-2.0zM209.2,256.8h2.0v2.0h-2.0zM242.2,275.3h2.0v2.0h-2.0zM389.3,146.3h1.8v1.8h-1.8zM143.2,305.4h2.0v2.0h-2.0zM158.1,331.5h2.0v2.0h-2.0zM250.8,193.8h2.0v2.0h-2.0zM388.8,137.6h1.8v1.8h-1.8zM325.9,166.8h2.0v2.0h-2.0zM335.4,154.5h2.0v2.0h-2.0zM175.6,280.5h2.0v2.0h-2.0zM290.0,203.4h2.0v2.0h-2.0zM268.8,173.1h2.0v2.0h-2.0zM259.9,302.6h2.0v2.0h-2.0zM259.9,275.0h2.0v2.0h-2.0zM215.4,248.5h2.0v2.0h-2.0zM359.1,154.9h1.9v1.9h-1.9zM203.0,245.1h2.0v2.0h-2.0zM227.4,254.0h2.0v2.0h-2.0zM239.0,203.0h2.0v2.0h-2.0zM317.4,181.8h2.0v2.0h-2.0zM524.7,65.6h1.5v1.5h-1.5zM257.0,274.9h2.0v2.0h-2.0zM311.4,194.0h2.0v2.0h-2.0zM292.9,190.8h2.0v2.0h-2.0zM178.8,272.7h2.0v2.0h-2.0zM244.9,238.9h2.0v2.0h-2.0zM506.1,80.5h1.5v1.5h-1.5zM229.9,289.7h2.0v2.0h-2.0zM137.0,305.0h2.0v2.0h-2.0zM268.9,184.8h2.0v2.0h-2.0zM169.5,307.6h2.0v2.0h-2.0zM239.0,314.1h2.0v2.0h-2.0zM392.3,140.1h1.8v1.8h-1.8zM229.3,235.5h2.0v2.0h-2.0zM394.9,146.1h1.8v1.8h-1.8zM298.8,214.9h2.0v2.0h-2.0zM173.3,317.1h2.0v2.0h-2.0zM232.9,281.3h2.0v2.0h-2.0zM200.0,269.0h2.0v2.0h-2.0zM155.2,319.8h2.0v2.0h-2.0zM233.1,295.7h2.0v2.0h-2.0zM223.9,206.3h2.0v2.0h-2.0zM280.9,211.8h2.0v2.0h-2.0zM322.8,191.1h2.0v2.0h-2.0zM227.1,277.9h2.0v2.0h-2.0zM211.9,293.0h2.0v2.0h-2.0zM221.3,242.2h2.0v2.0h-2.0zM235.9,308.3h2.0v2.0h-2.0zM322.9,184.8h2.0v2.0h-2.0zM337.8,157.9h2.0v2.0h-2.0zM533.4,134.0h1.5v1.5h-1.5zM218.1,191.1h2.0v2.0h-2.0zM140.1,320.2h2.0v2.0h-2.0zM212.3,332.4h2.0v2.0h-2.0zM386.0,137.0h1.8v1.8h-1.8zM229.8,254.3h2.0v2.0h-2.0zM386.0,149.3h1.8v1.8h-1.8zM431.1,113.6h1.7v1.7h-1.7zM304.6,191.0h2.0v2.0h-2.0zM230.1,350.0h2.0v2.0h-2.0zM296.1,224.0h2.0v2.0h-2.0zM152.4,313.9h2.0v2.0h-2.0zM482.4,92.0h1.5v1.5h-1.5zM274.9,203.1h2.0v2.0h-2.0zM184.7,304.7h2.0v2.0h-2.0zM377.0,145.9h1.8v1.8h-1.8zM217.8,326.1h2.0v2.0h-2.0zM251.0,248.2h2.0v2.0h-2.0zM292.7,221.0h2.0v2.0h-2.0zM506.0,77.4h1.5v1.5h-1.5zM211.8,271.9h2.0v2.0h-2.0zM347.0,164.5h1.9v1.9h-1.9zM301.9,170.1h2.0v2.0h-2.0zM449.6,104.3h1.6v1.6h-1.6zM340.7,176.2h2.0v2.0h-2.0zM245.1,232.7h2.0v2.0h-2.0zM286.9,223.8h2.0v2.0h-2.0zM280.7,160.8h2.0v2.0h-2.0zM383.6,143.4h1.8v1.8h-1.8zM337.8,157.6h2.0v2.0h-2.0zM458.0,104.1h1.6v1.6h-1.6zM353.0,157.9h1.9v1.9h-1.9zM260.0,203.2h2.0v2.0h-2.0zM152.2,328.7h2.0v2.0h-2.0zM398.5,134.1h1.8v1.8h-1.8zM218.3,305.1h2.0v2.0h-2.0zM380.3,145.9h1.8v1.8h-1.8zM310.6,161.3h2.0v2.0h-2.0zM419.1,122.1h1.7v1.7h-1.7zM212.3,296.0h2.0v2.0h-2.0zM340.8,164.1h2.0v2.0h-2.0zM242.2,241.8h2.0v2.0h-2.0zM341.2,181.7h2.0v2.0h-2.0zM445.8,98.0h1.6v1.6h-1.6zM410.1,146.1h1.7v1.7h-1.7zM421.8,128.0h1.7v1.7h-1.7zM305.6,221.2h2.0v2.0h-2.0zM368.2,139.7h1.9v1.9h-1.9zM220.4,305.1h2.0v2.0h-2.0zM383.1,140.2h1.8v1.8h-1.8zM140.2,307.4h2.0v2.0h-2.0zM208.9,281.1h2.0v2.0h-2.0zM146.3,307.9h2.0v2.0h-2.0zM206.2,286.7h2.0v2.0h-2.0zM323.1,182.0h2.0v2.0h-2.0zM202.8,287.0h2.0v2.0h-2.0zM359.3,139.9h1.9v1.9h-1.9zM241.9,235.9h2.0v2.0h-2.0zM190.4,319.8h2.0v2.0h-2.0zM169.7,280.9h2.0v2.0h-2.0zM263.1,218.2h2.0v2.0h-2.0zM350.2,154.8h1.9v1.9h-1.9zM182.1,311.3h2.0v2.0h-2.0zM203.0,268.8h2.0v2.0h-2.0zM155.2,259.9h2.0v2.0h-2.0zM566.7,53.5h1.5v1.5h-1.5zM284.0,197.1h2.0v2.0h-2.0zM209.2,293.6h2.0v2.0h-2.0zM118.7,314.0h2.0v2.0h-2.0zM358.8,146.1h1.9v1.9h-1.9zM337.9,163.8h2.0v2.0h-2.0zM227.1,232.5h2.0v2.0h-2.0zM181.6,239.0h2.0v2.0h-2.0zM197.0,247.8h2.0v2.0h-2.0zM349.8,161.1h1.9v1.9h-1.9zM311.0,193.9h2.0v2.0h-2.0zM337.9,172.8h2.0v2.0h-2.0zM296.0,199.7h2.0v2.0h-2.0zM182.1,313.7h2.0v2.0h-2.0zM179.0,281.2h2.0v2.0h-2.0zM340.9,157.7h2.0v2.0h-2.0zM239.5,263.1h2.0v2.0h-2.0zM245.2,223.7h2.0v2.0h-2.0zM203.0,323.6h2.0v2.0h-2.0zM290.2,209.0h2.0v2.0h-2.0zM566.3,56.1h1.5v1.5h-1.5zM307.8,203.0h2.0v2.0h-2.0zM220.8,296.2h2.0v2.0h-2.0zM301.8,196.7h2.0v2.0h-2.0zM263.0,236.3h2.0v2.0h-2.0zM143.2,301.6h2.0v2.0h-2.0zM392.0,134.0h1.8v1.8h-1.8zM341.2,163.6h2.0v2.0h-2.0zM269.3,230.3h2.0v2.0h-2.0zM398.5,148.6h1.8v1.8h-1.8zM340.9,164.3h2.0v2.0h-2.0zM287.0,203.4h2.0v2.0h-2.0zM287.3,187.9h2.0v2.0h-2.0zM275.0,221.2h2.0v2.0h-2.0zM206.0,281.4h2.0v2.0h-2.0zM344.3,163.8h1.9v1.9h-1.9zM266.0,217.9h2.0v2.0h-2.0zM286.7,202.8h2.0v2.0h-2.0zM331.9,184.9h2.0v2.0h-2.0zM241.8,269.2h2.0v2.0h-2.0zM431.7,122.0h1.7v1.7h-1.7zM311.3,224.1h2.0v2.0h-2.0zM281.1,220.7h2.0v2.0h-2.0zM367.6,146.1h1.9v1.9h-1.9zM190.8,284.0h2.0v2.0h-2.0zM266.1,208.6h2.0v2.0h-2.0zM224.2,313.6h2.0v2.0h-2.0zM388.9,139.8h1.8v1.8h-1.8zM278.1,220.8h2.0v2.0h-2.0zM193.8,275.0h2.0v2.0h-2.0zM197.0,323.2h2.0v2.0h-2.0zM287.1,229.7h2.0v2.0h-2.0zM175.7,272.0h2.0v2.0h-2.0zM256.8,289.9h2.0v2.0h-2.0zM244.9,238.7h2.0v2.0h-2.0zM272.3,226.7h2.0v2.0h-2.0zM322.9,169.9h2.0v2.0h-2.0zM235.9,251.0h2.0v2.0h-2.0zM248.0,290.2h2.0v2.0h-2.0zM338.0,173.2h2.0v2.0h-2.0zM265.8,223.8h2.0v2.0h-2.0zM220.9,248.0h2.0v2.0h-2.0zM545.1,56.1h1.5v1.5h-1.5zM275.2,191.7h2.0v2.0h-2.0zM350.3,236.1h1.9v1.9h-1.9zM401.3,134.1h1.8v1.8h-1.8zM143.0,302.4h2.0v2.0h-2.0zM340.7,151.8h2.0v2.0h-2.0zM328.9,164.1h2.0v2.0h-2.0zM167.2,290.2h2.0v2.0h-2.0zM172.8,319.6h2.0v2.0h-2.0zM131.0,314.1h2.0v2.0h-2.0zM277.7,307.8h2.0v2.0h-2.0zM344.1,176.5h1.9v1.9h-1.9zM269.3,205.9h2.0v2.0h-2.0zM176.0,269.2h2.0v2.0h-2.0zM208.5,242.5h2.0v2.0h-2.0zM320.1,193.8h2.0v2.0h-2.0zM242.2,251.0h2.0v2.0h-2.0zM206.2,251.0h2.0v2.0h-2.0zM206.1,292.8h2.0v2.0h-2.0zM269.2,200.1h2.0v2.0h-2.0zM209.5,314.3h2.0v2.0h-2.0zM271.7,211.9h2.0v2.0h-2.0zM379.8,136.7h1.8v1.8h-1.8zM214.9,310.8h2.0v2.0h-2.0zM169.7,308.2h2.0v2.0h-2.0zM143.0,328.8h2.0v2.0h-2.0zM301.6,212.3h2.0v2.0h-2.0zM247.9,176.4h2.0v2.0h-2.0zM349.9,157.8h1.9v1.9h-1.9zM224.0,302.1h2.0v2.0h-2.0zM307.7,179.1h2.0v2.0h-2.0zM190.7,314.4h2.0v2.0h-2.0zM163.7,296.2h2.0v2.0h-2.0zM385.8,137.4h1.8v1.8h-1.8zM299.0,227.6h2.0v2.0h-2.0zM197.4,254.1h2.0v2.0h-2.0zM205.7,290.0h2.0v2.0h-2.0zM256.8,256.7h2.0v2.0h-2.0zM362.4,137.0h1.9v1.9h-1.9zM167.2,308.8h2.0v2.0h-2.0zM241.8,194.3h2.0v2.0h-2.0zM223.8,293.3h2.0v2.0h-2.0zM403.8,131.1h1.8v1.8h-1.8zM434.1,125.5h1.7v1.7h-1.7zM311.0,167.0h2.0v2.0h-2.0zM260.2,214.8h2.0v2.0h-2.0zM209.3,337.9h2.0v2.0h-2.0zM220.7,286.4h2.0v2.0h-2.0zM410.2,137.4h1.7v1.7h-1.7zM238.5,292.8h2.0v2.0h-2.0zM413.0,122.5h1.7v1.7h-1.7zM241.8,289.7h2.0v2.0h-2.0zM218.2,275.1h2.0v2.0h-2.0zM197.2,310.8h2.0v2.0h-2.0zM281.0,220.6h2.0v2.0h-2.0zM428.4,112.8h1.7v1.7h-1.7zM247.9,227.4h2.0v2.0h-2.0zM242.3,260.0h2.0v2.0h-2.0zM275.1,172.6h2.0v2.0h-2.0zM197.1,331.9h2.0v2.0h-2.0zM152.0,295.9h2.0v2.0h-2.0zM263.3,275.2h2.0v2.0h-2.0zM217.9,226.9h2.0v2.0h-2.0zM148.8,266.3h2.0v2.0h-2.0zM359.2,164.7h1.9v1.9h-1.9zM272.4,238.8h2.0v2.0h-2.0zM200.0,299.2h2.0v2.0h-2.0zM371.0,145.7h1.9v1.9h-1.9zM211.8,284.2h2.0v2.0h-2.0zM251.0,275.2h2.0v2.0h-2.0zM236.2,265.5h2.0v2.0h-2.0zM206.1,290.2h2.0v2.0h-2.0zM245.3,311.2h2.0v2.0h-2.0zM220.9,215.3h2.0v2.0h-2.0zM304.8,190.9h2.0v2.0h-2.0zM299.4,212.1h2.0v2.0h-2.0zM293.0,166.9h2.0v2.0h-2.0zM212.1,266.4h2.0v2.0h-2.0zM206.2,329.1h2.0v2.0h-2.0zM214.9,217.7h2.0v2.0h-2.0zM346.8,163.9h1.9v1.9h-1.9zM428.4,115.9h1.7v1.7h-1.7zM415.7,125.3h1.7v1.7h-1.7zM301.8,203.1h2.0v2.0h-2.0zM314.0,202.9h2.0v2.0h-2.0zM278.1,200.3h2.0v2.0h-2.0zM205.9,316.8h2.0v2.0h-2.0zM167.0,314.2h2.0v2.0h-2.0zM271.7,176.1h2.0v2.0h-2.0zM289.7,158.1h2.0v2.0h-2.0zM397.4,131.1h1.8v1.8h-1.8zM257.1,245.1h2.0v2.0h-2.0zM188.1,289.9h2.0v2.0h-2.0zM208.9,242.5h2.0v2.0h-2.0zM214.9,344.0h2.0v2.0h-2.0zM377.0,152.0h1.8v1.8h-1.8zM299.1,182.0h2.0v2.0h-2.0zM226.8,305.1h2.0v2.0h-2.0zM197.5,242.3h2.0v2.0h-2.0zM401.3,125.2h1.8v1.8h-1.8zM221.2,301.9h2.0v2.0h-2.0zM272.2,235.3h2.0v2.0h-2.0zM284.3,191.1h2.0v2.0h-2.0zM251.0,272.4h2.0v2.0h-2.0zM404.4,137.2h1.7v1.7h-1.7zM281.0,187.8h2.0v2.0h-2.0zM434.1,113.5h1.7v1.7h-1.7zM179.3,311.3h2.0v2.0h-2.0zM251.1,266.2h2.0v2.0h-2.0zM200.1,274.9h2.0v2.0h-2.0zM229.8,248.3h2.0v2.0h-2.0zM301.6,199.9h2.0v2.0h-2.0zM374.6,142.9h1.8v1.8h-1.8zM248.0,277.8h2.0v2.0h-2.0zM245.4,317.2h2.0v2.0h-2.0zM358.8,200.0h1.9v1.9h-1.9zM263.4,218.0h2.0v2.0h-2.0zM304.5,221.3h2.0v2.0h-2.0zM140.2,341.2h2.0v2.0h-2.0zM230.2,254.1h2.0v2.0h-2.0zM325.8,161.3h2.0v2.0h-2.0zM230.4,268.7h2.0v2.0h-2.0zM271.8,250.8h2.0v2.0h-2.0zM229.7,254.1h2.0v2.0h-2.0zM419.4,125.1h1.7v1.7h-1.7zM227.3,290.0h2.0v2.0h-2.0zM191.2,298.9h2.0v2.0h-2.0zM218.2,263.0h2.0v2.0h-2.0zM187.5,248.1h2.0v2.0h-2.0zM442.9,110.3h1.6v1.6h-1.6zM233.1,184.7h2.0v2.0h-2.0zM272.3,209.6h2.0v2.0h-2.0zM226.7,302.4h2.0v2.0h-2.0zM169.9,292.9h2.0v2.0h-2.0zM178.8,331.7h2.0v2.0h-2.0zM311.1,200.1h2.0v2.0h-2.0zM328.9,166.6h2.0v2.0h-2.0zM313.7,191.0h2.0v2.0h-2.0zM281.1,263.2h2.0v2.0h-2.0zM170.7,338.3h2.0v2.0h-2.0zM215.1,296.4h2.0v2.0h-2.0zM256.8,217.9h2.0v2.0h-2.0zM217.9,236.0h2.0v2.0h-2.0zM310.8,164.3h2.0v2.0h-2.0zM254.6,197.2h2.0v2.0h-2.0zM172.8,302.4h2.0v2.0h-2.0zM239.0,268.8h2.0v2.0h-2.0zM262.9,197.4h2.0v2.0h-2.0zM250.8,229.6h2.0v2.0h-2.0zM217.9,274.8h2.0v2.0h-2.0zM383.0,155.3h1.8v1.8h-1.8zM161.3,323.5h2.0v2.0h-2.0zM466.5,100.9h1.5v1.5h-1.5zM319.8,164.0h2.0v2.0h-2.0zM209.0,313.9h2.0v2.0h-2.0zM202.8,347.0h2.0v2.0h-2.0zM310.8,224.1h2.0v2.0h-2.0zM233.1,233.0h2.0v2.0h-2.0zM260.0,254.4h2.0v2.0h-2.0zM277.9,238.9h2.0v2.0h-2.0zM305.5,182.1h2.0v2.0h-2.0zM335.0,179.4h2.0v2.0h-2.0zM244.9,307.9h2.0v2.0h-2.0zM473.2,89.6h1.5v1.5h-1.5zM286.7,224.3h2.0v2.0h-2.0zM265.7,179.1h2.0v2.0h-2.0zM119.1,314.2h2.0v2.0h-2.0zM272.3,209.4h2.0v2.0h-2.0zM304.8,196.9h2.0v2.0h-2.0zM233.3,283.9h2.0v2.0h-2.0zM310.8,200.3h2.0v2.0h-2.0zM245.3,341.2h2.0v2.0h-2.0zM179.6,299.1h2.0v2.0h-2.0zM215.1,287.3h2.0v2.0h-2.0zM353.0,170.2h1.9v1.9h-1.9zM283.7,175.7h2.0v2.0h-2.0zM290.4,203.1h2.0v2.0h-2.0zM317.0,188.4h2.0v2.0h-2.0zM224.2,272.1h2.0v2.0h-2.0zM203.3,284.0h2.0v2.0h-2.0zM166.7,296.1h2.0v2.0h-2.0zM226.9,253.8h2.0v2.0h-2.0zM368.0,209.2h1.9v1.9h-1.9zM205.9,302.1h2.0v2.0h-2.0zM217.9,328.8h2.0v2.0h-2.0zM305.1,185.0h2.0v2.0h-2.0zM155.3,322.9h2.0v2.0h-2.0zM158.0,289.7h2.0v2.0h-2.0zM199.9,251.0h2.0v2.0h-2.0zM373.8,140.1h1.9v1.9h-1.9zM161.0,296.1h2.0v2.0h-2.0zM206.0,341.2h2.0v2.0h-2.0zM260.0,248.1h2.0v2.0h-2.0zM268.6,191.1h2.0v2.0h-2.0zM389.3,139.7h1.8v1.8h-1.8zM254.2,265.7h2.0v2.0h-2.0zM241.7,289.8h2.0v2.0h-2.0zM352.9,166.7h1.9v1.9h-1.9zM176.4,251.4h2.0v2.0h-2.0zM314.1,179.1h2.0v2.0h-2.0zM254.2,293.0h2.0v2.0h-2.0zM328.8,218.0h2.0v2.0h-2.0zM380.0,143.2h1.8v1.8h-1.8zM269.2,284.1h2.0v2.0h-2.0zM437.1,107.5h1.6v1.6h-1.6zM317.0,152.1h2.0v2.0h-2.0zM290.2,181.8h2.0v2.0h-2.0zM259.8,298.8h2.0v2.0h-2.0zM353.0,167.0h1.9v1.9h-1.9zM307.7,163.8h2.0v2.0h-2.0zM283.7,175.6h2.0v2.0h-2.0zM223.7,326.1h2.0v2.0h-2.0zM247.8,206.1h2.0v2.0h-2.0zM182.1,304.7h2.0v2.0h-2.0zM202.9,337.9h2.0v2.0h-2.0zM431.3,125.4h1.7v1.7h-1.7zM166.8,311.2h2.0v2.0h-2.0zM407.1,125.1h1.7v1.7h-1.7zM182.0,316.9h2.0v2.0h-2.0zM275.0,160.7h2.0v2.0h-2.0zM173.1,292.9h2.0v2.0h-2.0zM314.6,236.5h2.0v2.0h-2.0zM311.2,185.4h2.0v2.0h-2.0zM206.0,257.2h2.0v2.0h-2.0zM449.2,98.1h1.6v1.6h-1.6zM214.9,277.7h2.0v2.0h-2.0zM325.7,178.9h2.0v2.0h-2.0zM133.9,338.0h2.0v2.0h-2.0zM302.5,194.0h2.0v2.0h-2.0zM203.0,343.8h2.0v2.0h-2.0zM209.4,236.4h2.0v2.0h-2.0zM293.4,202.7h2.0v2.0h-2.0zM244.8,253.6h2.0v2.0h-2.0zM242.2,256.4h2.0v2.0h-2.0zM197.4,278.1h2.0v2.0h-2.0zM181.9,349.7h2.0v2.0h-2.0zM251.0,190.8h2.0v2.0h-2.0zM272.1,184.7h2.0v2.0h-2.0zM263.0,272.3h2.0v2.0h-2.0zM257.2,196.9h2.0v2.0h-2.0zM275.3,206.0h2.0v2.0h-2.0zM254.2,271.7h2.0v2.0h-2.0zM218.0,314.1h2.0v2.0h-2.0zM295.7,170.5h2.0v2.0h-2.0zM209.0,338.0h2.0v2.0h-2.0zM280.9,185.0h2.0v2.0h-2.0zM179.3,283.8h2.0v2.0h-2.0zM187.9,322.7h2.0v2.0h-2.0zM262.7,236.0h2.0v2.0h-2.0zM178.8,301.7h2.0v2.0h-2.0zM254.1,271.8h2.0v2.0h-2.0zM236.0,215.3h2.0v2.0h-2.0zM206.1,304.3h2.0v2.0h-2.0zM125.2,314.0h2.0v2.0h-2.0zM160.7,326.0h2.0v2.0h-2.0zM176.5,272.1h2.0v2.0h-2.0zM242.3,238.9h2.0v2.0h-2.0zM227.2,254.1h2.0v2.0h-2.0zM269.0,209.0h2.0v2.0h-2.0zM205.6,305.2h2.0v2.0h-2.0zM272.1,256.8h2.0v2.0h-2.0zM152.0,272.3h2.0v2.0h-2.0zM295.9,163.8h2.0v2.0h-2.0zM412.6,137.1h1.7v1.7h-1.7zM203.1,269.5h2.0v2.0h-2.0zM340.8,164.2h2.0v2.0h-2.0zM229.5,266.5h2.0v2.0h-2.0zM203.2,349.9h2.0v2.0h-2.0zM218.0,278.2h2.0v2.0h-2.0zM380.3,143.6h1.8v1.8h-1.8zM395.3,134.3h1.8v1.8h-1.8zM205.8,236.1h2.0v2.0h-2.0zM250.9,184.8h2.0v2.0h-2.0zM199.7,328.8h2.0v2.0h-2.0zM181.9,289.9h2.0v2.0h-2.0zM367.8,140.0h1.9v1.9h-1.9zM403.7,130.5h1.8v1.8h-1.8zM308.0,184.9h2.0v2.0h-2.0zM218.4,244.6h2.0v2.0h-2.0zM368.2,152.3h1.9v1.9h-1.9zM434.1,119.4h1.7v1.7h-1.7zM370.9,155.2h1.9v1.9h-1.9zM350.3,154.6h1.9v1.9h-1.9zM311.3,202.6h2.0v2.0h-2.0zM512.1,77.4h1.5v1.5h-1.5zM419.4,112.6h1.7v1.7h-1.7zM194.1,335.2h2.0v2.0h-2.0zM380.5,139.8h1.8v1.8h-1.8zM284.1,218.2h2.0v2.0h-2.0zM284.5,203.3h2.0v2.0h-2.0zM134.1,320.2h2.0v2.0h-2.0zM236.1,232.9h2.0v2.0h-2.0zM196.7,323.0h2.0v2.0h-2.0zM209.0,277.5h2.0v2.0h-2.0zM317.1,185.1h2.0v2.0h-2.0zM113.2,307.7h2.0v2.0h-2.0zM197.2,280.8h2.0v2.0h-2.0zM272.1,220.8h2.0v2.0h-2.0zM290.1,199.8h2.0v2.0h-2.0zM262.7,262.9h2.0v2.0h-2.0zM134.3,284.1h2.0v2.0h-2.0zM197.4,314.2h2.0v2.0h-2.0zM403.9,128.0h1.8v1.8h-1.8zM353.2,158.2h1.9v1.9h-1.9zM373.7,161.1h1.9v1.9h-1.9zM383.0,140.4h1.8v1.8h-1.8zM202.9,284.0h2.0v2.0h-2.0zM251.4,217.8h2.0v2.0h-2.0zM202.8,260.3h2.0v2.0h-2.0zM353.3,152.0h1.9v1.9h-1.9zM338.0,161.6h2.0v2.0h-2.0zM248.4,233.3h2.0v2.0h-2.0zM382.9,131.5h1.8v1.8h-1.8zM245.4,244.7h2.0v2.0h-2.0zM205.7,289.8h2.0v2.0h-2.0zM250.8,235.9h2.0v2.0h-2.0zM176.4,332.3h2.0v2.0h-2.0zM265.8,250.9h2.0v2.0h-2.0zM226.9,272.0h2.0v2.0h-2.0zM194.3,283.7h2.0v2.0h-2.0zM239.1,248.0h2.0v2.0h-2.0zM340.9,170.0h2.0v2.0h-2.0zM188.0,308.1h2.0v2.0h-2.0zM284.1,187.9h2.0v2.0h-2.0zM308.4,193.9h2.0v2.0h-2.0zM196.8,296.3h2.0v2.0h-2.0zM341.2,161.3h2.0v2.0h-2.0zM182.1,317.0h2.0v2.0h-2.0zM302.3,181.8h2.0v2.0h-2.0zM361.8,158.0h1.9v1.9h-1.9zM308.2,178.4h2.0v2.0h-2.0zM317.0,176.1h2.0v2.0h-2.0zM320.2,178.9h2.0v2.0h-2.0zM197.2,277.6h2.0v2.0h-2.0zM175.8,266.1h2.0v2.0h-2.0zM343.8,158.0h2.0v2.0h-2.0zM302.0,184.7h2.0v2.0h-2.0zM287.1,182.1h2.0v2.0h-2.0zM386.1,139.9h1.8v1.8h-1.8zM260.2,200.0h2.0v2.0h-2.0zM241.9,259.8h2.0v2.0h-2.0zM196.8,293.8h2.0v2.0h-2.0zM397.7,122.1h1.8v1.8h-1.8zM277.8,266.0h2.0v2.0h-2.0zM187.6,256.5h2.0v2.0h-2.0zM307.8,173.1h2.0v2.0h-2.0zM185.1,293.4h2.0v2.0h-2.0zM215.0,281.0h2.0v2.0h-2.0zM173.3,335.2h2.0v2.0h-2.0zM278.2,212.1h2.0v2.0h-2.0zM344.3,182.1h1.9v1.9h-1.9zM119.1,316.9h2.0v2.0h-2.0zM419.0,116.2h1.7v1.7h-1.7zM352.9,157.7h1.9v1.9h-1.9zM212.0,265.9h2.0v2.0h-2.0zM446.2,119.1h1.6v1.6h-1.6zM323.1,176.6h2.0v2.0h-2.0zM302.2,187.9h2.0v2.0h-2.0zM215.2,320.1h2.0v2.0h-2.0zM395.0,146.1h1.8v1.8h-1.8zM331.9,158.2h2.0v2.0h-2.0zM457.8,100.8h1.6v1.6h-1.6zM479.1,83.6h1.5v1.5h-1.5zM217.7,323.2h2.0v2.0h-2.0zM140.1,296.1h2.0v2.0h-2.0zM244.9,283.8h2.0v2.0h-2.0zM371.2,185.6h1.9v1.9h-1.9zM446.9,113.2h1.6v1.6h-1.6zM320.0,194.0h2.0v2.0h-2.0zM235.9,266.3h2.0v2.0h-2.0zM124.7,326.2h2.0v2.0h-2.0zM161.5,332.0h2.0v2.0h-2.0zM284.0,211.9h2.0v2.0h-2.0zM382.3,133.5h1.8v1.8h-1.8zM284.5,188.0h2.0v2.0h-2.0zM212.1,331.5h2.0v2.0h-2.0zM356.2,146.2h1.9v1.9h-1.9zM224.4,272.0h2.0v2.0h-2.0zM278.1,215.1h2.0v2.0h-2.0zM179.0,322.7h2.0v2.0h-2.0zM173.4,295.8h2.0v2.0h-2.0zM298.8,167.4h2.0v2.0h-2.0zM442.7,107.0h1.6v1.6h-1.6zM340.8,305.2h2.0v2.0h-2.0zM395.0,131.0h1.8v1.8h-1.8zM200.0,287.1h2.0v2.0h-2.0zM521.2,71.4h1.5v1.5h-1.5zM175.8,292.5h2.0v2.0h-2.0zM310.9,154.9h2.0v2.0h-2.0zM212.3,203.2h2.0v2.0h-2.0zM206.3,227.0h2.0v2.0h-2.0zM187.9,316.9h2.0v2.0h-2.0zM184.8,305.0h2.0v2.0h-2.0zM229.8,299.0h2.0v2.0h-2.0zM206.0,299.4h2.0v2.0h-2.0zM224.0,214.9h2.0v2.0h-2.0zM215.3,274.8h2.0v2.0h-2.0zM193.9,287.1h2.0v2.0h-2.0zM217.8,248.1h2.0v2.0h-2.0zM136.6,316.8h2.0v2.0h-2.0zM476.3,94.9h1.5v1.5h-1.5zM230.2,278.2h2.0v2.0h-2.0zM248.0,238.6h2.0v2.0h-2.0zM277.7,236.0h2.0v2.0h-2.0zM211.6,311.0h2.0v2.0h-2.0zM359.3,149.0h1.9v1.9h-1.9zM220.7,256.6h2.0v2.0h-2.0zM173.1,310.7h2.0v2.0h-2.0zM230.0,236.3h2.0v2.0h-2.0zM250.9,202.9h2.0v2.0h-2.0zM193.8,307.5h2.0v2.0h-2.0zM361.9,146.2h1.9v1.9h-1.9zM299.0,191.3h2.0v2.0h-2.0zM533.1,62.2h1.5v1.5h-1.5zM311.1,191.4h2.0v2.0h-2.0zM323.1,166.9h2.0v2.0h-2.0zM184.9,307.8h2.0v2.0h-2.0zM184.7,325.8h2.0v2.0h-2.0zM256.9,200.2h2.0v2.0h-2.0zM226.9,236.1h2.0v2.0h-2.0zM299.3,208.9h2.0v2.0h-2.0zM302.3,176.1h2.0v2.0h-2.0zM197.2,292.0h2.0v2.0h-2.0zM316.6,179.2h2.0v2.0h-2.0zM281.1,221.2h2.0v2.0h-2.0zM311.1,203.1h2.0v2.0h-2.0zM419.5,113.3h1.7v1.7h-1.7zM347.0,151.8h1.9v1.9h-1.9zM265.7,283.9h2.0v2.0h-2.0zM509.0,77.5h1.5v1.5h-1.5zM182.0,274.7h2.0v2.0h-2.0zM169.9,313.9h2.0v2.0h-2.0zM230.1,295.5h2.0v2.0h-2.0zM215.2,269.0h2.0v2.0h-2.0zM313.5,179.1h2.0v2.0h-2.0zM233.3,254.1h2.0v2.0h-2.0zM275.0,200.0h2.0v2.0h-2.0zM221.1,241.7h2.0v2.0h-2.0zM247.8,217.9h2.0v2.0h-2.0zM248.0,230.0h2.0v2.0h-2.0zM179.1,307.9h2.0v2.0h-2.0zM311.2,206.1h2.0v2.0h-2.0zM269.0,185.1h2.0v2.0h-2.0zM277.9,199.9h2.0v2.0h-2.0zM178.9,256.9h2.0v2.0h-2.0zM184.6,311.5h2.0v2.0h-2.0zM223.8,236.1h2.0v2.0h-2.0zM232.7,272.0h2.0v2.0h-2.0zM266.3,223.5h2.0v2.0h-2.0zM319.5,145.6h2.0v2.0h-2.0zM161.6,317.1h2.0v2.0h-2.0zM176.3,292.9h2.0v2.0h-2.0zM248.2,241.7h2.0v2.0h-2.0zM256.7,181.8h2.0v2.0h-2.0zM347.2,155.2h1.9v1.9h-1.9zM263.0,263.2h2.0v2.0h-2.0zM329.2,182.1h2.0v2.0h-2.0zM404.6,152.1h1.7v1.7h-1.7zM287.2,179.1h2.0v2.0h-2.0zM251.3,202.7h2.0v2.0h-2.0zM299.1,245.0h2.0v2.0h-2.0zM295.7,175.9h2.0v2.0h-2.0zM254.6,205.8h2.0v2.0h-2.0zM226.7,310.9h2.0v2.0h-2.0zM376.9,149.4h1.8v1.8h-1.8zM329.2,164.1h2.0v2.0h-2.0zM196.7,292.7h2.0v2.0h-2.0zM211.9,289.8h2.0v2.0h-2.0zM320.1,169.6h2.0v2.0h-2.0zM323.3,164.2h2.0v2.0h-2.0zM164.1,319.8h2.0v2.0h-2.0zM152.0,338.2h2.0v2.0h-2.0zM202.7,289.9h2.0v2.0h-2.0z"/>
<path fill="#2a30ff" fill-opacity="0.50" d="M301.3,184.6h2.3v2.3h-2.3zM431.3,122.0h2.0v2.0h-2.0zM379.9,145.8h2.1v2.1h-2.1zM364.8,136.8h2.2v2.2h-2.2zM563.4,55.9h1.8v1.8h-1.8zM206.1,316.9h2.3v2.3h-2.3zM154.6,298.5h2.3v2.3h-2.3zM260.0,269.2h2.3v2.3h-2.3zM452.4,104.1h1.9v1.9h-1.9zM269.4,229.2h2.3v2.3h-2.3zM199.9,281.1h2.3v2.3h-2.3zM202.7,298.7h2.3v2.3h-2.3zM121.5,295.7h2.3v2.3h-2.3zM190.9,244.8h2.3v2.3h-2.3zM217.6,311.1h2.3v2.3h-2.3zM340.9,158.3h2.3v2.3h-2.3zM410.1,125.3h2.0v2.0h-2.0zM229.7,292.9h2.3v2.3h-2.3zM190.6,301.7h2.3v2.3h-2.3zM205.8,299.2h2.3v2.3h-2.3zM313.9,172.6h2.3v2.3h-2.3zM413.3,124.8h2.0v2.0h-2.0zM437.2,113.1h1.9v1.9h-1.9zM187.9,320.0h2.3v2.3h-2.3zM280.6,190.9h2.3v2.3h-2.3zM196.9,307.7h2.3v2.3h-2.3zM241.5,229.9h2.3v2.3h-2.3zM211.8,245.2h2.3v2.3h-2.3zM280.8,229.9h2.3v2.3h-2.3zM229.5,238.9h2.3v2.3h-2.3zM343.7,169.8h2.3v2.3h-2.3zM310.6,172.6h2.3v2.3h-2.3zM235.9,271.7h2.3v2.3h-2.3zM443.0,107.1h1.9v1.9h-1.9zM374.1,139.8h2.1v2.1h-2.1zM188.1,274.1h2.3v2.3h-2.3zM250.8,259.8h2.3v2.3h-2.3zM374.2,148.9h2.1v2.1h-2.1zM136.9,316.4h2.3v2.3h-2.3zM301.5,166.7h2.3v2.3h-2.3zM364.6,155.2h2.2v2.2h-2.2zM232.9,239.0h2.3v2.3h-2.3zM487.8,98.2h1.8v1.8h-1.8zM232.9,178.5h2.3v2.3h-2.3zM541.6,65.1h1.8v1.8h-1.8zM247.8,215.0h2.3v2.3h-2.3zM167.1,302.0h2.3v2.3h-2.3zM490.8,83.6h1.8v1.8h-1.8zM245.1,262.6h2.3v2.3h-2.3zM202.7,269.1h2.3v2.3h-2.3zM448.9,109.6h1.9v1.9h-1.9zM226.5,346.8h2.3v2.3h-2.3zM301.7,196.7h2.3v2.3h-2.3zM181.9,245.1h2.3v2.3h-2.3zM274.9,224.3h2.3v2.3h-2.3zM448.9,100.6h1.9v1.9h-1.9zM149.0,280.6h2.3v2.3h-2.3zM143.0,320.2h2.3v2.3h-2.3zM292.9,199.7h2.3v2.3h-2.3zM193.8,265.6h2.3v2.3h-2.3zM317.0,140.3h2.3v2.3h-2.3zM476.1,88.9h1.8v1.8h-1.8zM295.8,190.8h2.3v2.3h-2.3zM199.8,280.6h2.3v2.3h-2.3zM233.1,254.1h2.3v2.3h-2.3zM226.8,223.6h2.3v2.3h-2.3zM226.8,254.0h2.3v2.3h-2.3zM419.0,115.7h2.0v2.0h-2.0zM311.1,169.9h2.3v2.3h-2.3zM407.4,125.4h2.0v2.0h-2.0zM146.4,328.8h2.3v2.3h-2.3zM307.9,188.0h2.3v2.3h-2.3zM205.4,331.7h2.3v2.3h-2.3zM310.7,163.9h2.3v2.3h-2.3zM382.9,137.0h2.1v2.1h-2.1zM229.7,265.6h2.3v2.3h-2.3zM169.8,283.4h2.3v2.3h-2.3zM289.5,175.8h2.3v2.3h-2.3zM349.9,175.6h2.2v2.2h-2.2zM184.8,314.2h2.3v2.3h-2.3zM184.6,307.6h2.3v2.3h-2.3zM184.7,337.9h2.3v2.3h-2.3zM226.8,202.8h2.3v2.3h-2.3zM385.8,140.1h2.1v2.1h-2.1zM299.4,188.1h2.3v2.3h-2.3zM199.8,271.6h2.3v2.3h-2.3zM175.8,284.2h2.3v2.3h-2.3zM334.8,169.7h2.3v2.3h-2.3zM163.7,262.9h2.3v2.3h-2.3zM271.9,205.7h2.3v2.3h-2.3zM277.7,196.8h2.3v2.3h-2.3zM308.1,145.7h2.3v2.3h-2.3zM332.4,173.1h2.3v2.3h-2.3zM586.9,41.4h1.8v1.8h-1.8zM476.1,112.9h1.8v1.8h-1.8zM200.0,244.6h2.3v2.3h-2.3zM346.5,160.8h2.2v2.2h-2.2zM331.4,161.0h2.3v2.3h-2.3zM241.5,283.8h2.3v2.3h-2.3zM244.9,235.8h2.3v2.3h-2.3zM280.7,206.2h2.3v2.3h-2.3zM575.7,44.5h1.8v1.8h-1.8zM379.9,136.8h2.1v2.1h-2.1zM200.2,316.8h2.3v2.3h-2.3zM263.0,256.8h2.3v2.3h-2.3zM148.9,326.3h2.3v2.3h-2.3zM226.8,322.8h2.3v2.3h-2.3zM160.5,298.6h2.3v2.3h-2.3zM449.2,107.1h1.9v1.9h-1.9zM245.0,259.5h2.3v2.3h-2.3zM208.8,319.7h2.3v2.3h-2.3zM148.3,310.9h2.3v2.3h-2.3zM403.7,131.0h2.1v2.1h-2.1zM265.5,229.9h2.3v2.3h-2.3zM274.6,212.0h2.3v2.3h-2.3zM220.9,206.0h2.3v2.3h-2.3zM187.5,319.9h2.3v2.3h-2.3zM203.1,265.5h2.3v2.3h-2.3zM163.7,298.9h2.3v2.3h-2.3zM382.9,127.8h2.1v2.1h-2.1zM349.6,145.9h2.2v2.2h-2.2zM347.1,166.9h2.2v2.2h-2.2zM191.1,298.8h2.3v2.3h-2.3zM272.2,253.4h2.3v2.3h-2.3zM173.1,286.8h2.3v2.3h-2.3zM287.0,233.1h2.3v2.3h-2.3zM220.6,262.9h2.3v2.3h-2.3zM491.2,88.7h1.8v1.8h-1.8zM322.9,160.7h2.3v2.3h-2.3zM314.0,172.8h2.3v2.3h-2.3zM256.8,256.9h2.3v2.3h-2.3zM301.6,176.4h2.3v2.3h-2.3zM280.8,251.2h2.3v2.3h-2.3zM205.9,337.8h2.3v2.3h-2.3zM343.8,185.0h2.3v2.3h-2.3zM328.5,146.0h2.3v2.3h-2.3zM304.9,196.7h2.3v2.3h-2.3zM248.0,205.5h2.3v2.3h-2.3zM340.7,163.5h2.3v2.3h-2.3zM241.5,304.8h2.3v2.3h-2.3zM260.0,226.5h2.3v2.3h-2.3zM382.8,265.8h2.1v2.1h-2.1zM257.1,248.3h2.3v2.3h-2.3zM316.7,208.5h2.3v2.3h-2.3zM251.4,197.0h2.3v2.3h-2.3zM224.2,295.8h2.3v2.3h-2.3zM224.3,287.0h2.3v2.3h-2.3zM290.3,179.1h2.3v2.3h-2.3zM218.0,260.0h2.3v2.3h-2.3zM382.7,151.9h2.1v2.1h-2.1zM383.1,131.4h2.1v2.1h-2.1zM280.6,223.9h2.3v2.3h-2.3zM202.9,253.7h2.3v2.3h-2.3zM226.4,304.6h2.3v2.3h-2.3zM241.8,281.0h2.3v2.3h-2.3zM215.0,337.5h2.3v2.3h-2.3zM301.7,169.6h2.3v2.3h-2.3zM506.2,110.1h1.8v1.8h-1.8zM214.6,241.8h2.3v2.3h-2.3zM167.1,337.5h2.3v2.3h-2.3zM250.6,292.9h2.3v2.3h-2.3zM353.1,151.9h2.2v2.2h-2.2zM187.9,310.7h2.3v2.3h-2.3zM352.2,167.2h2.2v2.2h-2.2zM343.9,167.1h2.2v2.2h-2.2zM232.6,334.8h2.3v2.3h-2.3zM215.0,287.5h2.3v2.3h-2.3zM265.8,232.9h2.3v2.3h-2.3zM187.6,307.4h2.3v2.3h-2.3zM256.8,224.0h2.3v2.3h-2.3zM220.9,287.0h2.3v2.3h-2.3zM146.1,316.9h2.3v2.3h-2.3zM218.2,277.6h2.3v2.3h-2.3zM193.5,254.4h2.3v2.3h-2.3zM428.3,113.2h2.0v2.0h-2.0zM313.8,179.0h2.3v2.3h-2.3zM158.3,281.1h2.3v2.3h-2.3zM494.1,79.9h1.8v1.8h-1.8zM421.9,119.1h2.0v2.0h-2.0zM226.8,211.5h2.3v2.3h-2.3zM148.9,280.8h2.3v2.3h-2.3zM313.7,169.7h2.3v2.3h-2.3zM295.7,199.9h2.3v2.3h-2.3zM232.9,298.9h2.3v2.3h-2.3zM271.6,268.7h2.3v2.3h-2.3zM139.7,299.2h2.3v2.3h-2.3zM334.5,185.2h2.3v2.3h-2.3zM323.3,163.8h2.3v2.3h-2.3zM397.8,131.0h2.1v2.1h-2.1zM185.1,278.0h2.3v2.3h-2.3zM257.1,224.0h2.3v2.3h-2.3zM464.1,101.2h1.8v1.8h-1.8zM247.6,349.8h2.3v2.3h-2.3zM361.5,149.1h2.2v2.2h-2.2zM211.7,239.4h2.3v2.3h-2.3zM475.5,101.1h1.8v1.8h-1.8zM217.5,325.6h2.3v2.3h-2.3zM326.0,145.7h2.3v2.3h-2.3zM271.7,211.8h2.3v2.3h-2.3zM281.1,202.8h2.3v2.3h-2.3zM217.6,280.9h2.3v2.3h-2.3zM295.9,194.1h2.3v2.3h-2.3zM226.6,334.8h2.3v2.3h-2.3zM260.4,227.0h2.3v2.3h-2.3zM223.9,236.1h2.3v2.3h-2.3zM145.5,310.3h2.3v2.3h-2.3zM202.8,268.5h2.3v2.3h-2.3zM334.9,158.0h2.3v2.3h-2.3zM196.6,286.8h2.3v2.3h-2.3zM164.0,287.0h2.3v2.3h-2.3zM338.0,212.1h2.3v2.3h-2.3zM217.9,286.7h2.3v2.3h-2.3zM293.2,211.8h2.3v2.3h-2.3zM125.0,328.4h2.3v2.3h-2.3zM275.0,253.6h2.3v2.3h-2.3zM373.9,145.7h2.2v2.2h-2.2zM262.4,235.7h2.3v2.3h-2.3zM257.1,275.0h2.3v2.3h-2.3zM191.2,283.9h2.3v2.3h-2.3zM290.2,217.8h2.3v2.3h-2.3zM368.3,140.0h2.2v2.2h-2.2zM281.1,221.0h2.3v2.3h-2.3zM247.8,277.7h2.3v2.3h-2.3zM217.6,298.8h2.3v2.3h-2.3zM239.0,287.2h2.3v2.3h-2.3zM377.0,143.1h2.1v2.1h-2.1zM211.8,250.9h2.3v2.3h-2.3zM197.1,305.1h2.3v2.3h-2.3zM442.7,221.1h1.9v1.9h-1.9zM199.3,265.8h2.3v2.3h-2.3zM166.5,271.6h2.3v2.3h-2.3zM340.9,172.2h2.3v2.3h-2.3zM253.8,232.8h2.3v2.3h-2.3zM235.5,259.8h2.3v2.3h-2.3zM344.3,172.8h2.2v2.2h-2.2zM182.2,293.1h2.3v2.3h-2.3zM194.1,313.7h2.3v2.3h-2.3zM193.6,247.8h2.3v2.3h-2.3zM188.4,284.2h2.3v2.3h-2.3zM151.9,320.0h2.3v2.3h-2.3zM347.0,169.9h2.2v2.2h-2.2zM247.9,232.8h2.3v2.3h-2.3zM425.3,124.8h2.0v2.0h-2.0zM452.3,109.9h1.9v1.9h-1.9zM323.1,172.8h2.3v2.3h-2.3zM184.9,229.6h2.3v2.3h-2.3zM166.7,319.9h2.3v2.3h-2.3zM247.6,265.9h2.3v2.3h-2.3zM358.7,145.5h2.2v2.2h-2.2zM572.5,107.1h1.8v1.8h-1.8zM484.9,92.3h1.8v1.8h-1.8zM476.1,95.3h1.8v1.8h-1.8zM262.9,248.3h2.3v2.3h-2.3zM256.1,190.6h2.3v2.3h-2.3zM187.9,307.5h2.3v2.3h-2.3zM283.9,194.2h2.3v2.3h-2.3zM208.8,281.3h2.3v2.3h-2.3zM218.2,244.8h2.3v2.3h-2.3zM224.1,301.9h2.3v2.3h-2.3zM350.0,154.9h2.2v2.2h-2.2zM242.0,235.8h2.3v2.3h-2.3zM305.2,175.9h2.3v2.3h-2.3zM178.8,328.6h2.3v2.3h-2.3zM223.6,290.4h2.3v2.3h-2.3zM235.8,224.3h2.3v2.3h-2.3zM295.6,208.3h2.3v2.3h-2.3zM569.2,124.7h1.8v1.8h-1.8zM490.7,80.7h1.8v1.8h-1.8zM296.0,208.8h2.3v2.3h-2.3zM233.1,260.4h2.3v2.3h-2.3zM229.8,217.4h2.3v2.3h-2.3zM152.5,329.1h2.3v2.3h-2.3zM170.0,265.9h2.3v2.3h-2.3zM232.2,283.8h2.3v2.3h-2.3zM461.0,95.1h1.9v1.9h-1.9zM203.0,223.1h2.3v2.3h-2.3zM329.1,172.6h2.3v2.3h-2.3zM434.0,122.4h2.0v2.0h-2.0zM176.6,298.9h2.3v2.3h-2.3zM176.1,319.7h2.3v2.3h-2.3zM437.2,208.9h1.9v1.9h-1.9zM232.8,323.1h2.3v2.3h-2.3zM229.9,193.5h2.3v2.3h-2.3zM365.3,145.4h2.2v2.2h-2.2zM281.1,236.2h2.3v2.3h-2.3zM175.8,310.7h2.3v2.3h-2.3zM271.9,199.2h2.3v2.3h-2.3zM136.8,304.9h2.3v2.3h-2.3zM167.0,310.6h2.3v2.3h-2.3zM184.7,307.8h2.3v2.3h-2.3zM256.8,235.2h2.3v2.3h-2.3zM247.6,265.9h2.3v2.3h-2.3zM257.3,241.6h2.3v2.3h-2.3zM329.0,169.3h2.3v2.3h-2.3zM269.6,226.4h2.3v2.3h-2.3zM410.3,125.0h2.0v2.0h-2.0zM431.2,121.9h2.0v2.0h-2.0zM566.2,56.2h1.8v1.8h-1.8zM289.4,200.3h2.3v2.3h-2.3zM272.0,239.1h2.3v2.3h-2.3zM491.0,101.3h1.8v1.8h-1.8zM185.0,319.9h2.3v2.3h-2.3zM247.5,229.4h2.3v2.3h-2.3zM386.0,139.9h2.1v2.1h-2.1zM203.4,256.5h2.3v2.3h-2.3zM136.9,337.9h2.3v2.3h-2.3zM310.7,169.7h2.3v2.3h-2.3zM278.2,211.9h2.3v2.3h-2.3zM242.4,215.1h2.3v2.3h-2.3zM311.1,199.7h2.3v2.3h-2.3zM197.0,287.1h2.3v2.3h-2.3zM503.3,80.3h1.8v1.8h-1.8zM259.5,190.6h2.3v2.3h-2.3zM404.1,194.8h2.0v2.0h-2.0zM295.9,161.2h2.3v2.3h-2.3zM235.9,268.9h2.3v2.3h-2.3zM215.0,275.3h2.3v2.3h-2.3zM175.3,319.8h2.3v2.3h-2.3zM314.0,167.0h2.3v2.3h-2.3zM506.3,82.9h1.8v1.8h-1.8zM424.8,112.6h2.0v2.0h-2.0zM196.7,350.2h2.3v2.3h-2.3zM202.5,256.6h2.3v2.3h-2.3zM409.8,131.2h2.0v2.0h-2.0zM415.9,125.1h2.0v2.0h-2.0zM275.2,260.4h2.3v2.3h-2.3zM202.7,305.0h2.3v2.3h-2.3zM274.4,233.0h2.3v2.3h-2.3zM188.1,271.8h2.3v2.3h-2.3zM289.7,193.6h2.3v2.3h-2.3zM254.1,223.7h2.3v2.3h-2.3zM220.8,293.0h2.3v2.3h-2.3zM211.9,292.7h2.3v2.3h-2.3zM416.0,128.0h2.0v2.0h-2.0zM187.9,304.8h2.3v2.3h-2.3zM503.1,79.9h1.8v1.8h-1.8zM262.9,247.8h2.3v2.3h-2.3zM178.8,301.8h2.3v2.3h-2.3zM373.4,148.9h2.2v2.2h-2.2zM277.8,235.8h2.3v2.3h-2.3zM181.7,287.1h2.3v2.3h-2.3zM283.7,191.0h2.3v2.3h-2.3zM331.7,163.7h2.3v2.3h-2.3zM250.7,241.6h2.3v2.3h-2.3zM272.1,208.7h2.3v2.3h-2.3zM412.8,125.1h2.0v2.0h-2.0zM262.8,224.0h2.3v2.3h-2.3zM220.8,208.5h2.3v2.3h-2.3zM452.2,95.0h1.9v1.9h-1.9zM226.9,275.0h2.3v2.3h-2.3zM223.9,269.0h2.3v2.3h-2.3zM295.7,199.9h2.3v2.3h-2.3zM379.7,145.5h2.1v2.1h-2.1zM229.5,235.7h2.3v2.3h-2.3zM505.8,86.4h1.8v1.8h-1.8zM181.7,275.4h2.3v2.3h-2.3zM224.1,286.6h2.3v2.3h-2.3zM169.5,322.9h2.3v2.3h-2.3zM344.2,137.1h2.2v2.2h-2.2zM256.7,196.8h2.3v2.3h-2.3zM271.6,229.4h2.3v2.3h-2.3zM223.7,253.7h2.3v2.3h-2.3zM260.0,229.8h2.3v2.3h-2.3zM352.7,148.4h2.2v2.2h-2.2zM302.2,170.2h2.3v2.3h-2.3zM200.0,206.0h2.3v2.3h-2.3zM311.0,193.9h2.3v2.3h-2.3zM259.9,227.1h2.3v2.3h-2.3zM290.4,193.9h2.3v2.3h-2.3zM247.5,310.9h2.3v2.3h-2.3zM326.0,280.7h2.3v2.3h-2.3zM220.6,253.5h2.3v2.3h-2.3zM394.5,127.6h2.1v2.1h-2.1zM173.0,316.6h2.3v2.3h-2.3zM359.0,148.8h2.2v2.2h-2.2zM184.7,307.6h2.3v2.3h-2.3zM263.1,239.0h2.3v2.3h-2.3zM268.8,190.9h2.3v2.3h-2.3zM367.6,226.9h2.2v2.2h-2.2zM263.1,212.3h2.3v2.3h-2.3zM266.1,206.0h2.3v2.3h-2.3zM563.6,56.0h1.8v1.8h-1.8zM173.0,293.0h2.3v2.3h-2.3zM244.7,215.6h2.3v2.3h-2.3zM284.2,187.7h2.3v2.3h-2.3zM460.9,98.6h1.9v1.9h-1.9zM172.5,341.3h2.3v2.3h-2.3zM172.8,298.9h2.3v2.3h-2.3zM223.9,287.3h2.3v2.3h-2.3zM472.6,95.0h1.8v1.8h-1.8zM515.1,83.0h1.8v1.8h-1.8zM332.0,208.9h2.3v2.3h-2.3zM584.3,38.3h1.8v1.8h-1.8zM283.9,200.1h2.3v2.3h-2.3zM220.3,311.1h2.3v2.3h-2.3zM184.6,310.7h2.3v2.3h-2.3zM313.6,166.7h2.3v2.3h-2.3zM338.0,158.0h2.3v2.3h-2.3zM154.5,304.6h2.3v2.3h-2.3zM158.0,316.6h2.3v2.3h-2.3zM298.7,205.5h2.3v2.3h-2.3zM158.0,317.0h2.3v2.3h-2.3zM209.0,256.5h2.3v2.3h-2.3zM331.5,163.7h2.3v2.3h-2.3zM337.8,157.9h2.3v2.3h-2.3zM196.9,316.1h2.3v2.3h-2.3zM259.7,280.7h2.3v2.3h-2.3zM298.5,187.9h2.3v2.3h-2.3zM319.8,166.9h2.3v2.3h-2.3zM220.7,290.3h2.3v2.3h-2.3zM211.9,233.0h2.3v2.3h-2.3zM253.9,193.8h2.3v2.3h-2.3zM394.9,133.9h2.1v2.1h-2.1zM436.9,125.0h1.9v1.9h-1.9zM256.8,247.9h2.3v2.3h-2.3zM364.8,152.4h2.2v2.2h-2.2zM272.1,215.0h2.3v2.3h-2.3zM361.7,172.3h2.2v2.2h-2.2zM287.3,217.8h2.3v2.3h-2.3zM335.1,149.1h2.3v2.3h-2.3zM341.0,154.9h2.3v2.3h-2.3zM301.8,196.9h2.3v2.3h-2.3zM160.8,274.8h2.3v2.3h-2.3zM214.6,323.1h2.3v2.3h-2.3zM241.8,298.9h2.3v2.3h-2.3zM265.4,292.7h2.3v2.3h-2.3zM304.4,196.5h2.3v2.3h-2.3zM241.8,220.6h2.3v2.3h-2.3zM232.7,253.8h2.3v2.3h-2.3zM268.7,248.0h2.3v2.3h-2.3zM427.7,122.1h2.0v2.0h-2.0zM298.8,233.0h2.3v2.3h-2.3zM428.4,109.6h2.0v2.0h-2.0zM182.1,292.8h2.3v2.3h-2.3zM239.1,235.6h2.3v2.3h-2.3zM269.0,215.0h2.3v2.3h-2.3zM218.3,244.6h2.3v2.3h-2.3zM187.8,280.9h2.3v2.3h-2.3zM289.9,215.0h2.3v2.3h-2.3zM380.3,122.1h2.1v2.1h-2.1zM377.0,131.3h2.1v2.1h-2.1zM413.0,302.1h2.0v2.0h-2.0zM341.1,160.9h2.3v2.3h-2.3zM307.7,184.9h2.3v2.3h-2.3zM206.0,281.2h2.3v2.3h-2.3zM238.9,263.2h2.3v2.3h-2.3zM311.0,173.0h2.3v2.3h-2.3zM260.0,242.1h2.3v2.3h-2.3zM247.5,217.6h2.3v2.3h-2.3zM209.0,292.8h2.3v2.3h-2.3zM323.2,169.4h2.3v2.3h-2.3zM271.5,280.7h2.3v2.3h-2.3zM265.5,238.7h2.3v2.3h-2.3zM239.2,320.0h2.3v2.3h-2.3zM244.7,269.4h2.3v2.3h-2.3zM226.3,280.4h2.3v2.3h-2.3zM223.8,220.8h2.3v2.3h-2.3zM187.6,325.2h2.3v2.3h-2.3zM398.2,197.1h2.1v2.1h-2.1zM251.1,253.4h2.3v2.3h-2.3zM178.5,277.6h2.3v2.3h-2.3zM178.4,323.2h2.3v2.3h-2.3zM332.1,173.5h2.3v2.3h-2.3zM190.7,292.6h2.3v2.3h-2.3zM155.2,322.7h2.3v2.3h-2.3zM265.9,217.3h2.3v2.3h-2.3zM317.3,160.8h2.3v2.3h-2.3zM365.2,142.9h2.2v2.2h-2.2zM209.0,269.0h2.3v2.3h-2.3zM340.7,145.6h2.3v2.3h-2.3zM325.7,175.9h2.3v2.3h-2.3zM227.1,235.5h2.3v2.3h-2.3zM244.6,257.3h2.3v2.3h-2.3zM254.1,227.4h2.3v2.3h-2.3zM250.6,215.1h2.3v2.3h-2.3zM317.2,181.6h2.3v2.3h-2.3zM179.3,346.8h2.3v2.3h-2.3zM347.2,158.1h2.2v2.2h-2.2zM292.7,212.0h2.3v2.3h-2.3zM235.6,292.8h2.3v2.3h-2.3zM397.7,136.7h2.1v2.1h-2.1zM302.3,220.8h2.3v2.3h-2.3zM166.9,322.5h2.3v2.3h-2.3zM247.9,317.3h2.3v2.3h-2.3zM260.1,260.1h2.3v2.3h-2.3zM169.6,331.6h2.3v2.3h-2.3zM208.9,268.8h2.3v2.3h-2.3zM202.4,280.9h2.3v2.3h-2.3zM229.8,229.8h2.3v2.3h-2.3zM377.1,149.4h2.1v2.1h-2.1zM379.8,148.9h2.1v2.1h-2.1zM229.9,254.3h2.3v2.3h-2.3zM424.8,118.9h2.0v2.0h-2.0zM224.0,238.7h2.3v2.3h-2.3zM259.6,233.0h2.3v2.3h-2.3zM349.6,154.6h2.2v2.2h-2.2zM260.2,244.6h2.3v2.3h-2.3zM217.9,340.6h2.3v2.3h-2.3zM218.1,268.6h2.3v2.3h-2.3zM170.4,265.8h2.3v2.3h-2.3zM229.8,236.2h2.3v2.3h-2.3zM334.7,175.9h2.3v2.3h-2.3zM209.3,272.0h2.3v2.3h-2.3zM205.8,263.1h2.3v2.3h-2.3zM349.7,155.0h2.2v2.2h-2.2zM163.5,337.7h2.3v2.3h-2.3zM248.1,199.6h2.3v2.3h-2.3zM241.7,229.6h2.3v2.3h-2.3zM199.8,307.8h2.3v2.3h-2.3zM364.9,149.3h2.2v2.2h-2.2zM271.7,218.0h2.3v2.3h-2.3zM328.9,173.1h2.3v2.3h-2.3zM343.8,151.8h2.3v2.3h-2.3zM395.3,202.9h2.1v2.1h-2.1zM374.2,148.6h2.1v2.1h-2.1zM314.2,256.8h2.3v2.3h-2.3zM331.8,169.4h2.3v2.3h-2.3zM325.8,169.9h2.3v2.3h-2.3zM343.5,163.9h2.3v2.3h-2.3zM218.3,218.3h2.3v2.3h-2.3zM319.7,169.9h2.3v2.3h-2.3zM212.0,268.6h2.3v2.3h-2.3zM337.8,187.9h2.3v2.3h-2.3zM332.0,160.9h2.3v2.3h-2.3zM166.9,287.4h2.3v2.3h-2.3zM485.0,95.0h1.8v1.8h-1.8zM214.9,271.6h2.3v2.3h-2.3zM257.0,227.3h2.3v2.3h-2.3zM236.0,253.9h2.3v2.3h-2.3zM161.0,299.1h2.3v2.3h-2.3zM311.2,205.7h2.3v2.3h-2.3zM347.3,163.9h2.2v2.2h-2.2zM256.4,203.2h2.3v2.3h-2.3zM220.9,283.6h2.3v2.3h-2.3zM308.0,193.8h2.3v2.3h-2.3zM190.9,250.7h2.3v2.3h-2.3zM389.0,136.7h2.1v2.1h-2.1zM359.0,158.4h2.2v2.2h-2.2zM247.6,217.8h2.3v2.3h-2.3zM194.2,340.5h2.3v2.3h-2.3zM274.8,221.0h2.3v2.3h-2.3zM211.7,275.1h2.3v2.3h-2.3zM269.1,263.1h2.3v2.3h-2.3zM254.0,217.7h2.3v2.3h-2.3zM250.6,241.9h2.3v2.3h-2.3zM490.8,88.8h1.8v1.8h-1.8zM166.6,302.0h2.3v2.3h-2.3zM218.2,298.3h2.3v2.3h-2.3zM472.3,85.7h1.8v1.8h-1.8zM247.9,248.0h2.3v2.3h-2.3zM172.9,301.8h2.3v2.3h-2.3zM428.0,116.1h2.0v2.0h-2.0zM436.8,107.3h1.9v1.9h-1.9zM256.8,238.8h2.3v2.3h-2.3zM130.7,329.1h2.3v2.3h-2.3zM202.9,292.9h2.3v2.3h-2.3zM434.6,115.7h1.9v1.9h-1.9zM365.0,154.8h2.2v2.2h-2.2zM236.2,277.6h2.3v2.3h-2.3zM434.2,116.2h1.9v1.9h-1.9zM478.8,97.7h1.8v1.8h-1.8zM283.7,214.8h2.3v2.3h-2.3zM226.4,275.3h2.3v2.3h-2.3zM562.8,50.0h1.8v1.8h-1.8zM523.9,73.9h1.8v1.8h-1.8zM386.0,136.9h2.1v2.1h-2.1zM293.0,176.5h2.3v2.3h-2.3zM220.6,328.9h2.3v2.3h-2.3zM286.5,194.0h2.3v2.3h-2.3zM481.8,86.1h1.8v1.8h-1.8zM370.7,151.5h2.2v2.2h-2.2zM328.4,175.8h2.3v2.3h-2.3zM274.6,212.4h2.3v2.3h-2.3zM172.6,289.6h2.3v2.3h-2.3zM331.6,173.1h2.3v2.3h-2.3zM355.7,161.1h2.2v2.2h-2.2zM479.1,95.4h1.8v1.8h-1.8zM220.9,241.9h2.3v2.3h-2.3zM431.4,121.6h2.0v2.0h-2.0zM337.7,158.1h2.3v2.3h-2.3zM235.7,229.8h2.3v2.3h-2.3zM358.6,157.7h2.2v2.2h-2.2zM241.7,271.5h2.3v2.3h-2.3zM277.9,272.1h2.3v2.3h-2.3zM515.1,71.7h1.8v1.8h-1.8zM254.1,238.8h2.3v2.3h-2.3zM328.9,163.8h2.3v2.3h-2.3zM383.1,146.0h2.1v2.1h-2.1zM379.4,143.2h2.1v2.1h-2.1zM322.5,175.8h2.3v2.3h-2.3zM443.4,188.2h1.9v1.9h-1.9zM247.5,230.0h2.3v2.3h-2.3zM233.2,253.9h2.3v2.3h-2.3zM124.8,277.6h2.3v2.3h-2.3zM209.1,272.1h2.3v2.3h-2.3zM229.8,272.0h2.3v2.3h-2.3zM286.8,214.8h2.3v2.3h-2.3zM251.1,245.0h2.3v2.3h-2.3zM218.0,292.7h2.3v2.3h-2.3zM320.1,173.2h2.3v2.3h-2.3zM172.7,298.5h2.3v2.3h-2.3zM296.1,184.7h2.3v2.3h-2.3zM343.8,143.1h2.3v2.3h-2.3zM223.6,313.9h2.3v2.3h-2.3zM259.7,214.7h2.3v2.3h-2.3zM380.6,131.0h2.1v2.1h-2.1zM220.4,253.6h2.3v2.3h-2.3zM223.9,265.9h2.3v2.3h-2.3zM281.4,233.0h2.3v2.3h-2.3zM418.8,130.9h2.0v2.0h-2.0zM355.5,145.9h2.2v2.2h-2.2zM349.8,142.6h2.2v2.2h-2.2zM188.0,271.6h2.3v2.3h-2.3zM368.0,200.1h2.2v2.2h-2.2zM238.5,245.1h2.3v2.3h-2.3zM268.7,196.8h2.3v2.3h-2.3zM194.0,286.9h2.3v2.3h-2.3zM163.4,335.1h2.3v2.3h-2.3zM322.6,190.8h2.3v2.3h-2.3zM271.8,205.6h2.3v2.3h-2.3zM361.8,151.5h2.2v2.2h-2.2zM197.2,298.5h2.3v2.3h-2.3zM325.7,191.1h2.3v2.3h-2.3zM355.8,250.6h2.2v2.2h-2.2zM242.5,301.6h2.3v2.3h-2.3zM181.5,278.0h2.3v2.3h-2.3zM163.9,295.6h2.3v2.3h-2.3zM479.1,254.0h1.8v1.8h-1.8zM284.0,205.7h2.3v2.3h-2.3zM274.9,221.0h2.3v2.3h-2.3zM301.6,211.5h2.3v2.3h-2.3zM175.9,215.1h2.3v2.3h-2.3zM364.9,157.7h2.2v2.2h-2.2zM436.7,110.0h1.9v1.9h-1.9zM461.0,101.1h1.9v1.9h-1.9zM281.0,220.7h2.3v2.3h-2.3zM377.2,143.3h2.1v2.1h-2.1zM295.5,184.8h2.3v2.3h-2.3zM235.9,289.7h2.3v2.3h-2.3zM184.8,314.1h2.3v2.3h-2.3zM229.9,319.7h2.3v2.3h-2.3zM167.3,334.9h2.3v2.3h-2.3zM404.0,118.8h2.1v2.1h-2.1zM251.0,284.0h2.3v2.3h-2.3zM269.2,194.2h2.3v2.3h-2.3zM323.2,175.3h2.3v2.3h-2.3zM217.9,331.7h2.3v2.3h-2.3zM257.0,269.0h2.3v2.3h-2.3zM307.7,182.1h2.3v2.3h-2.3zM274.4,221.1h2.3v2.3h-2.3zM470.1,122.1h1.8v1.8h-1.8zM154.7,320.1h2.3v2.3h-2.3zM232.3,274.6h2.3v2.3h-2.3zM178.7,227.1h2.3v2.3h-2.3zM158.4,268.8h2.3v2.3h-2.3zM184.7,340.8h2.3v2.3h-2.3zM275.5,247.6h2.3v2.3h-2.3zM533.4,67.7h1.8v1.8h-1.8zM163.4,310.5h2.3v2.3h-2.3zM181.7,320.0h2.3v2.3h-2.3zM230.1,227.0h2.3v2.3h-2.3zM268.8,236.0h2.3v2.3h-2.3zM332.1,160.7h2.3v2.3h-2.3zM178.8,293.1h2.3v2.3h-2.3zM260.0,260.1h2.3v2.3h-2.3zM404.0,133.8h2.1v2.1h-2.1zM272.3,211.9h2.3v2.3h-2.3zM302.0,175.8h2.3v2.3h-2.3zM190.9,331.9h2.3v2.3h-2.3zM301.7,196.7h2.3v2.3h-2.3zM233.3,271.6h2.3v2.3h-2.3zM214.5,286.9h2.3v2.3h-2.3zM323.0,190.7h2.3v2.3h-2.3zM227.0,241.9h2.3v2.3h-2.3zM241.5,310.7h2.3v2.3h-2.3zM337.6,160.4h2.3v2.3h-2.3zM232.9,221.0h2.3v2.3h-2.3zM389.3,142.7h2.1v2.1h-2.1zM560.5,53.3h1.8v1.8h-1.8zM385.7,131.4h2.1v2.1h-2.1zM187.9,319.7h2.3v2.3h-2.3zM286.4,179.0h2.3v2.3h-2.3zM349.8,181.5h2.2v2.2h-2.2zM173.1,305.1h2.3v2.3h-2.3zM353.2,139.6h2.2v2.2h-2.2zM476.3,89.8h1.8v1.8h-1.8zM190.8,298.9h2.3v2.3h-2.3zM325.6,184.3h2.3v2.3h-2.3zM325.8,175.8h2.3v2.3h-2.3zM352.5,145.9h2.2v2.2h-2.2zM200.3,226.7h2.3v2.3h-2.3zM230.1,244.4h2.3v2.3h-2.3zM142.9,287.0h2.3v2.3h-2.3zM223.9,307.8h2.3v2.3h-2.3zM394.5,145.5h2.1v2.1h-2.1zM349.9,151.7h2.2v2.2h-2.2zM458.0,106.3h1.9v1.9h-1.9zM416.0,116.2h2.0v2.0h-2.0zM208.4,299.0h2.3v2.3h-2.3zM212.0,299.2h2.3v2.3h-2.3zM223.6,248.0h2.3v2.3h-2.3zM494.0,88.8h1.8v1.8h-1.8zM313.8,202.9h2.3v2.3h-2.3zM521.5,73.9h1.8v1.8h-1.8zM406.9,121.9h2.0v2.0h-2.0zM287.2,232.3h2.3v2.3h-2.3zM319.9,170.1h2.3v2.3h-2.3zM218.1,289.5h2.3v2.3h-2.3zM430.6,116.2h2.0v2.0h-2.0zM179.1,292.8h2.3v2.3h-2.3zM163.7,274.8h2.3v2.3h-2.3zM233.0,280.7h2.3v2.3h-2.3zM325.9,179.1h2.3v2.3h-2.3zM569.2,47.0h1.8v1.8h-1.8zM353.5,152.0h2.2v2.2h-2.2zM370.8,124.9h2.2v2.2h-2.2zM175.6,319.8h2.3v2.3h-2.3zM358.7,145.8h2.2v2.2h-2.2zM284.1,247.9h2.3v2.3h-2.3zM232.8,287.0h2.3v2.3h-2.3zM401.1,124.7h2.1v2.1h-2.1zM223.7,266.4h2.3v2.3h-2.3zM551.3,62.1h1.8v1.8h-1.8zM337.7,160.8h2.3v2.3h-2.3zM304.7,185.4h2.3v2.3h-2.3zM158.0,316.7h2.3v2.3h-2.3zM179.0,287.0h2.3v2.3h-2.3zM340.6,142.4h2.3v2.3h-2.3zM230.1,289.8h2.3v2.3h-2.3zM259.7,274.6h2.3v2.3h-2.3zM194.2,256.1h2.3v2.3h-2.3zM454.8,116.3h1.9v1.9h-1.9zM188.4,299.3h2.3v2.3h-2.3zM197.6,284.3h2.3v2.3h-2.3zM382.7,137.1h2.1v2.1h-2.1zM275.1,218.0h2.3v2.3h-2.3zM136.9,307.7h2.3v2.3h-2.3zM311.1,169.9h2.3v2.3h-2.3zM431.1,134.0h2.0v2.0h-2.0zM218.0,313.6h2.3v2.3h-2.3zM244.6,239.0h2.3v2.3h-2.3zM214.8,283.6h2.3v2.3h-2.3zM145.9,340.6h2.3v2.3h-2.3zM347.0,169.6h2.2v2.2h-2.2zM215.1,281.4h2.3v2.3h-2.3zM515.4,80.5h1.8v1.8h-1.8zM349.6,146.0h2.2v2.2h-2.2zM217.7,260.0h2.3v2.3h-2.3zM326.2,292.8h2.3v2.3h-2.3zM184.9,335.3h2.3v2.3h-2.3zM142.9,328.4h2.3v2.3h-2.3zM343.7,157.9h2.3v2.3h-2.3zM235.9,301.6h2.3v2.3h-2.3zM257.2,262.9h2.3v2.3h-2.3zM470.3,98.0h1.8v1.8h-1.8zM245.2,244.7h2.3v2.3h-2.3zM349.7,157.8h2.2v2.2h-2.2zM389.2,173.5h2.1v2.1h-2.1zM292.6,241.7h2.3v2.3h-2.3zM472.9,76.8h1.8v1.8h-1.8zM292.8,221.2h2.3v2.3h-2.3zM409.6,131.6h2.0v2.0h-2.0zM455.0,112.9h1.9v1.9h-1.9zM257.1,286.7h2.3v2.3h-2.3zM206.2,304.7h2.3v2.3h-2.3zM271.8,206.0h2.3v2.3h-2.3zM304.5,185.0h2.3v2.3h-2.3zM188.1,314.2h2.3v2.3h-2.3zM358.8,139.8h2.2v2.2h-2.2zM386.1,136.7h2.1v2.1h-2.1zM316.7,172.8h2.3v2.3h-2.3zM262.9,220.7h2.3v2.3h-2.3zM365.3,145.6h2.2v2.2h-2.2zM313.3,181.9h2.3v2.3h-2.3zM419.0,119.2h2.0v2.0h-2.0zM370.9,181.7h2.2v2.2h-2.2zM346.9,181.7h2.2v2.2h-2.2zM340.8,160.8h2.3v2.3h-2.3zM323.3,187.9h2.3v2.3h-2.3zM452.2,104.2h1.9v1.9h-1.9zM163.7,281.2h2.3v2.3h-2.3zM295.8,205.7h2.3v2.3h-2.3zM265.5,257.1h2.3v2.3h-2.3zM272.1,214.6h2.3v2.3h-2.3zM148.1,307.8h2.3v2.3h-2.3zM374.3,143.3h2.1v2.1h-2.1zM313.7,211.9h2.3v2.3h-2.3zM298.8,187.7h2.3v2.3h-2.3zM214.7,203.2h2.3v2.3h-2.3zM241.7,275.0h2.3v2.3h-2.3zM391.9,250.8h2.1v2.1h-2.1zM134.2,310.6h2.3v2.3h-2.3zM376.9,146.2h2.1v2.1h-2.1zM256.9,266.2h2.3v2.3h-2.3zM314.0,166.4h2.3v2.3h-2.3zM302.0,160.8h2.3v2.3h-2.3zM142.7,260.2h2.3v2.3h-2.3zM328.9,187.9h2.3v2.3h-2.3zM164.2,326.1h2.3v2.3h-2.3zM211.8,220.9h2.3v2.3h-2.3zM199.9,311.3h2.3v2.3h-2.3zM386.1,139.6h2.1v2.1h-2.1zM416.4,113.2h2.0v2.0h-2.0zM518.3,73.9h1.8v1.8h-1.8zM496.9,80.3h1.8v1.8h-1.8zM202.9,248.0h2.3v2.3h-2.3zM205.9,298.7h2.3v2.3h-2.3zM338.0,158.2h2.3v2.3h-2.3zM283.2,227.1h2.3v2.3h-2.3zM196.7,296.3h2.3v2.3h-2.3zM374.2,145.8h2.1v2.1h-2.1zM356.3,161.3h2.2v2.2h-2.2zM241.7,302.1h2.3v2.3h-2.3zM248.0,256.8h2.3v2.3h-2.3zM470.4,92.2h1.8v1.8h-1.8zM349.8,167.3h2.2v2.2h-2.2zM166.6,329.1h2.3v2.3h-2.3zM242.1,325.4h2.3v2.3h-2.3zM488.5,92.3h1.8v1.8h-1.8zM199.8,286.7h2.3v2.3h-2.3zM431.3,113.1h2.0v2.0h-2.0zM271.6,224.0h2.3v2.3h-2.3zM473.0,86.1h1.8v1.8h-1.8zM518.0,77.1h1.8v1.8h-1.8zM212.0,266.0h2.3v2.3h-2.3zM271.6,247.8h2.3v2.3h-2.3zM154.7,335.1h2.3v2.3h-2.3zM190.8,295.9h2.3v2.3h-2.3zM298.8,184.9h2.3v2.3h-2.3zM589.7,59.1h1.8v1.8h-1.8zM485.1,82.7h1.8v1.8h-1.8zM205.5,307.8h2.3v2.3h-2.3zM205.8,292.3h2.3v2.3h-2.3zM257.0,256.7h2.3v2.3h-2.3zM281.0,187.5h2.3v2.3h-2.3zM263.1,220.8h2.3v2.3h-2.3zM148.8,295.6h2.3v2.3h-2.3zM145.7,260.1h2.3v2.3h-2.3zM238.7,238.8h2.3v2.3h-2.3zM172.5,271.8h2.3v2.3h-2.3zM151.5,302.0h2.3v2.3h-2.3zM293.1,229.8h2.3v2.3h-2.3zM248.1,229.9h2.3v2.3h-2.3zM139.9,299.0h2.3v2.3h-2.3zM511.8,77.1h1.8v1.8h-1.8zM214.9,296.0h2.3v2.3h-2.3zM199.8,320.0h2.3v2.3h-2.3zM274.6,220.8h2.3v2.3h-2.3zM289.9,227.0h2.3v2.3h-2.3zM184.5,301.8h2.3v2.3h-2.3zM166.5,331.9h2.3v2.3h-2.3zM179.0,328.8h2.3v2.3h-2.3zM223.7,259.4h2.3v2.3h-2.3zM317.0,211.7h2.3v2.3h-2.3zM332.0,181.7h2.3v2.3h-2.3zM199.7,274.9h2.3v2.3h-2.3zM275.1,187.9h2.3v2.3h-2.3zM409.8,124.9h2.0v2.0h-2.0zM542.1,65.4h1.8v1.8h-1.8zM313.8,181.4h2.3v2.3h-2.3zM434.4,110.1h1.9v1.9h-1.9zM328.5,181.9h2.3v2.3h-2.3zM329.1,190.8h2.3v2.3h-2.3zM472.9,88.7h1.8v1.8h-1.8zM247.8,256.8h2.3v2.3h-2.3zM193.9,253.9h2.3v2.3h-2.3zM122.0,320.1h2.3v2.3h-2.3zM166.6,298.8h2.3v2.3h-2.3zM316.8,175.1h2.3v2.3h-2.3zM406.8,122.4h2.0v2.0h-2.0zM265.6,238.7h2.3v2.3h-2.3zM229.8,271.9h2.3v2.3h-2.3zM175.9,307.4h2.3v2.3h-2.3zM346.6,160.7h2.2v2.2h-2.2zM313.9,163.7h2.3v2.3h-2.3zM404.4,118.8h2.0v2.0h-2.0zM160.6,298.5h2.3v2.3h-2.3zM166.6,292.7h2.3v2.3h-2.3zM208.8,301.5h2.3v2.3h-2.3zM295.8,220.4h2.3v2.3h-2.3zM374.0,143.1h2.1v2.1h-2.1zM175.5,343.8h2.3v2.3h-2.3zM142.8,299.1h2.3v2.3h-2.3zM298.6,205.8h2.3v2.3h-2.3zM257.1,242.4h2.3v2.3h-2.3zM452.5,103.5h1.9v1.9h-1.9zM356.0,139.7h2.2v2.2h-2.2zM290.5,200.0h2.3v2.3h-2.3zM170.1,292.8h2.3v2.3h-2.3zM217.6,244.9h2.3v2.3h-2.3zM211.6,242.4h2.3v2.3h-2.3zM178.6,331.3h2.3v2.3h-2.3zM257.1,271.9h2.3v2.3h-2.3zM328.8,163.7h2.3v2.3h-2.3zM242.1,289.8h2.3v2.3h-2.3zM208.9,328.3h2.3v2.3h-2.3zM301.9,221.4h2.3v2.3h-2.3zM256.4,191.0h2.3v2.3h-2.3zM241.8,296.0h2.3v2.3h-2.3zM298.8,194.0h2.3v2.3h-2.3zM484.7,80.2h1.8v1.8h-1.8zM178.9,340.9h2.3v2.3h-2.3zM358.8,149.0h2.2v2.2h-2.2zM160.4,286.5h2.3v2.3h-2.3zM242.1,274.6h2.3v2.3h-2.3zM157.8,304.9h2.3v2.3h-2.3zM295.8,224.0h2.3v2.3h-2.3zM211.9,256.9h2.3v2.3h-2.3zM301.7,196.6h2.3v2.3h-2.3zM217.9,274.4h2.3v2.3h-2.3zM236.1,236.0h2.3v2.3h-2.3zM323.0,187.9h2.3v2.3h-2.3zM323.1,181.6h2.3v2.3h-2.3zM224.5,289.9h2.3v2.3h-2.3zM247.8,232.9h2.3v2.3h-2.3zM187.5,289.9h2.3v2.3h-2.3zM203.1,209.0h2.3v2.3h-2.3zM289.9,196.4h2.3v2.3h-2.3zM295.7,274.7h2.3v2.3h-2.3zM163.7,331.8h2.3v2.3h-2.3zM238.9,256.9h2.3v2.3h-2.3zM281.3,214.9h2.3v2.3h-2.3zM154.8,304.8h2.3v2.3h-2.3zM466.8,106.8h1.8v1.8h-1.8zM247.7,262.8h2.3v2.3h-2.3zM379.8,124.6h2.1v2.1h-2.1zM275.2,235.9h2.3v2.3h-2.3zM548.0,59.3h1.8v1.8h-1.8zM338.2,172.7h2.3v2.3h-2.3zM337.9,161.2h2.3v2.3h-2.3zM262.4,233.0h2.3v2.3h-2.3zM238.9,271.9h2.3v2.3h-2.3zM428.2,115.9h2.0v2.0h-2.0zM131.1,298.8h2.3v2.3h-2.3zM262.7,254.0h2.3v2.3h-2.3zM196.5,274.8h2.3v2.3h-2.3zM229.8,256.7h2.3v2.3h-2.3zM238.7,208.5h2.3v2.3h-2.3zM287.6,232.5h2.3v2.3h-2.3zM335.1,145.8h2.3v2.3h-2.3zM265.7,184.5h2.3v2.3h-2.3zM226.9,286.9h2.3v2.3h-2.3zM278.0,211.9h2.3v2.3h-2.3zM373.6,143.3h2.2v2.2h-2.2zM494.4,89.3h1.8v1.8h-1.8zM166.7,281.1h2.3v2.3h-2.3zM292.8,190.9h2.3v2.3h-2.3zM212.0,254.0h2.3v2.3h-2.3zM527.4,67.6h1.8v1.8h-1.8zM223.8,289.9h2.3v2.3h-2.3zM416.3,122.3h2.0v2.0h-2.0zM250.9,241.9h2.3v2.3h-2.3zM217.6,235.8h2.3v2.3h-2.3zM253.6,224.1h2.3v2.3h-2.3zM359.0,155.1h2.2v2.2h-2.2zM178.7,325.7h2.3v2.3h-2.3zM359.0,163.7h2.2v2.2h-2.2zM385.8,139.6h2.1v2.1h-2.1zM349.3,164.4h2.2v2.2h-2.2zM316.7,169.6h2.3v2.3h-2.3zM566.1,77.1h1.8v1.8h-1.8zM316.9,191.1h2.3v2.3h-2.3zM395.1,145.9h2.1v2.1h-2.1zM133.7,314.2h2.3v2.3h-2.3zM220.8,298.8h2.3v2.3h-2.3zM244.6,203.1h2.3v2.3h-2.3zM323.3,166.7h2.3v2.3h-2.3zM524.1,80.1h1.8v1.8h-1.8zM446.4,118.9h1.9v1.9h-1.9zM365.2,154.7h2.2v2.2h-2.2zM215.1,302.1h2.3v2.3h-2.3zM227.0,286.9h2.3v2.3h-2.3zM389.1,136.8h2.1v2.1h-2.1zM193.8,223.9h2.3v2.3h-2.3zM436.9,194.4h1.9v1.9h-1.9zM283.9,214.8h2.3v2.3h-2.3zM533.2,59.3h1.8v1.8h-1.8zM346.8,157.6h2.2v2.2h-2.2zM382.6,131.0h2.1v2.1h-2.1zM301.4,181.6h2.3v2.3h-2.3zM143.2,337.6h2.3v2.3h-2.3zM200.3,307.8h2.3v2.3h-2.3zM322.9,214.9h2.3v2.3h-2.3zM325.8,190.6h2.3v2.3h-2.3zM253.4,224.2h2.3v2.3h-2.3zM260.6,227.0h2.3v2.3h-2.3zM278.0,238.6h2.3v2.3h-2.3zM236.0,197.0h2.3v2.3h-2.3zM220.8,259.9h2.3v2.3h-2.3zM554.2,176.5h1.8v1.8h-1.8zM368.0,136.8h2.2v2.2h-2.2zM158.1,284.0h2.3v2.3h-2.3zM139.8,308.1h2.3v2.3h-2.3zM172.8,304.9h2.3v2.3h-2.3zM173.0,286.6h2.3v2.3h-2.3zM239.2,265.9h2.3v2.3h-2.3zM299.0,208.9h2.3v2.3h-2.3zM316.3,172.7h2.3v2.3h-2.3zM211.8,289.8h2.3v2.3h-2.3zM212.6,262.6h2.3v2.3h-2.3zM230.1,301.7h2.3v2.3h-2.3zM418.6,119.3h2.0v2.0h-2.0zM343.4,188.0h2.3v2.3h-2.3zM206.0,259.6h2.3v2.3h-2.3zM211.6,295.9h2.3v2.3h-2.3zM472.7,89.4h1.8v1.8h-1.8zM242.0,206.1h2.3v2.3h-2.3zM247.6,247.6h2.3v2.3h-2.3zM265.7,272.0h2.3v2.3h-2.3zM320.4,205.3h2.3v2.3h-2.3zM380.0,134.2h2.1v2.1h-2.1zM254.1,265.4h2.3v2.3h-2.3zM353.1,172.7h2.2v2.2h-2.2zM154.6,331.8h2.3v2.3h-2.3zM250.8,305.3h2.3v2.3h-2.3zM332.0,145.5h2.3v2.3h-2.3zM203.2,280.9h2.3v2.3h-2.3zM307.7,224.2h2.3v2.3h-2.3zM349.7,182.0h2.2v2.2h-2.2zM410.0,121.9h2.0v2.0h-2.0zM193.9,232.4h2.3v2.3h-2.3zM392.1,133.7h2.1v2.1h-2.1zM166.7,311.2h2.3v2.3h-2.3zM305.0,205.3h2.3v2.3h-2.3zM229.7,305.4h2.3v2.3h-2.3zM214.4,302.2h2.3v2.3h-2.3zM289.7,187.4h2.3v2.3h-2.3zM440.4,109.8h1.9v1.9h-1.9zM262.8,259.6h2.3v2.3h-2.3zM443.0,113.3h1.9v1.9h-1.9zM232.4,277.7h2.3v2.3h-2.3zM220.1,286.8h2.3v2.3h-2.3zM310.8,250.5h2.3v2.3h-2.3zM331.9,170.1h2.3v2.3h-2.3zM241.5,295.9h2.3v2.3h-2.3zM277.7,217.5h2.3v2.3h-2.3zM224.0,256.5h2.3v2.3h-2.3zM481.9,91.9h1.8v1.8h-1.8zM257.0,262.7h2.3v2.3h-2.3zM251.1,232.3h2.3v2.3h-2.3zM196.5,317.0h2.3v2.3h-2.3zM172.8,320.1h2.3v2.3h-2.3zM335.0,185.0h2.3v2.3h-2.3zM392.0,127.8h2.1v2.1h-2.1zM233.1,265.7h2.3v2.3h-2.3zM346.4,160.5h2.2v2.2h-2.2zM376.7,136.7h2.1v2.1h-2.1zM202.7,271.9h2.3v2.3h-2.3zM449.4,107.2h1.9v1.9h-1.9zM292.9,205.6h2.3v2.3h-2.3zM286.7,169.6h2.3v2.3h-2.3zM199.6,233.3h2.3v2.3h-2.3zM364.9,142.7h2.2v2.2h-2.2zM254.3,248.0h2.3v2.3h-2.3zM440.0,115.8h1.9v1.9h-1.9zM271.7,254.0h2.3v2.3h-2.3zM239.2,265.9h2.3v2.3h-2.3zM437.2,109.9h1.9v1.9h-1.9zM365.0,151.8h2.2v2.2h-2.2zM556.9,53.5h1.8v1.8h-1.8zM566.4,62.1h1.8v1.8h-1.8zM268.9,263.1h2.3v2.3h-2.3zM241.9,266.0h2.3v2.3h-2.3zM301.7,181.6h2.3v2.3h-2.3zM151.8,340.8h2.3v2.3h-2.3zM361.8,151.5h2.2v2.2h-2.2zM272.1,212.0h2.3v2.3h-2.3zM176.2,283.4h2.3v2.3h-2.3zM269.2,227.3h2.3v2.3h-2.3zM217.8,185.1h2.3v2.3h-2.3zM484.8,85.9h1.8v1.8h-1.8zM313.7,175.9h2.3v2.3h-2.3zM419.3,119.2h2.0v2.0h-2.0zM467.1,104.2h1.8v1.8h-1.8zM242.3,238.7h2.3v2.3h-2.3zM250.9,223.5h2.3v2.3h-2.3zM320.1,172.8h2.3v2.3h-2.3zM271.5,229.8h2.3v2.3h-2.3zM266.1,214.8h2.3v2.3h-2.3zM295.5,223.8h2.3v2.3h-2.3zM235.7,284.5h2.3v2.3h-2.3zM292.6,215.1h2.3v2.3h-2.3zM386.3,143.0h2.1v2.1h-2.1zM223.6,238.8h2.3v2.3h-2.3zM296.0,194.1h2.3v2.3h-2.3zM352.8,154.9h2.2v2.2h-2.2zM185.0,322.7h2.3v2.3h-2.3zM277.7,208.6h2.3v2.3h-2.3zM217.8,316.8h2.3v2.3h-2.3zM247.9,236.2h2.3v2.3h-2.3zM449.1,169.8h1.9v1.9h-1.9zM446.5,112.9h1.9v1.9h-1.9zM343.9,167.0h2.2v2.2h-2.2zM247.6,244.8h2.3v2.3h-2.3zM293.1,203.1h2.3v2.3h-2.3zM146.0,301.9h2.3v2.3h-2.3zM265.5,238.6h2.3v2.3h-2.3zM217.8,301.7h2.3v2.3h-2.3zM335.2,181.9h2.3v2.3h-2.3zM250.9,305.2h2.3v2.3h-2.3zM215.3,313.7h2.3v2.3h-2.3zM388.8,146.2h2.1v2.1h-2.1zM235.8,298.1h2.3v2.3h-2.3zM205.8,317.4h2.3v2.3h-2.3zM208.7,247.6h2.3v2.3h-2.3zM419.2,118.6h2.0v2.0h-2.0zM289.5,214.9h2.3v2.3h-2.3zM254.0,250.8h2.3v2.3h-2.3zM466.9,98.1h1.8v1.8h-1.8zM361.7,137.1h2.2v2.2h-2.2zM163.5,259.8h2.3v2.3h-2.3zM277.6,262.9h2.3v2.3h-2.3zM406.7,133.7h2.0v2.0h-2.0zM244.7,245.1h2.3v2.3h-2.3zM193.6,265.4h2.3v2.3h-2.3zM259.6,224.1h2.3v2.3h-2.3zM229.8,292.7h2.3v2.3h-2.3zM283.9,185.1h2.3v2.3h-2.3zM371.0,139.8h2.2v2.2h-2.2zM241.9,250.8h2.3v2.3h-2.3zM220.6,223.9h2.3v2.3h-2.3zM188.1,280.6h2.3v2.3h-2.3zM395.5,125.0h2.1v2.1h-2.1zM287.0,230.0h2.3v2.3h-2.3zM323.4,176.2h2.3v2.3h-2.3zM190.9,280.4h2.3v2.3h-2.3zM358.5,142.7h2.2v2.2h-2.2zM251.0,251.3h2.3v2.3h-2.3zM185.1,331.5h2.3v2.3h-2.3zM286.8,184.6h2.3v2.3h-2.3zM286.6,190.8h2.3v2.3h-2.3zM202.9,304.8h2.3v2.3h-2.3zM301.8,187.8h2.3v2.3h-2.3zM242.1,238.4h2.3v2.3h-2.3zM221.1,274.6h2.3v2.3h-2.3zM328.5,179.3h2.3v2.3h-2.3zM232.8,275.0h2.3v2.3h-2.3zM250.8,232.5h2.3v2.3h-2.3zM527.8,68.0h1.8v1.8h-1.8zM352.8,142.6h2.2v2.2h-2.2zM574.9,50.6h1.8v1.8h-1.8zM181.8,301.7h2.3v2.3h-2.3zM232.8,280.7h2.3v2.3h-2.3zM253.8,245.0h2.3v2.3h-2.3zM289.5,212.3h2.3v2.3h-2.3zM163.7,295.4h2.3v2.3h-2.3zM485.3,92.3h1.8v1.8h-1.8zM232.9,250.8h2.3v2.3h-2.3zM304.8,188.0h2.3v2.3h-2.3zM172.4,283.8h2.3v2.3h-2.3zM154.9,259.7h2.3v2.3h-2.3zM589.9,38.7h1.8v1.8h-1.8zM127.7,274.5h2.3v2.3h-2.3zM446.5,166.7h1.9v1.9h-1.9zM395.0,140.1h2.1v2.1h-2.1zM322.8,187.5h2.3v2.3h-2.3zM173.1,320.2h2.3v2.3h-2.3zM229.6,257.0h2.3v2.3h-2.3zM238.7,269.1h2.3v2.3h-2.3zM322.8,190.8h2.3v2.3h-2.3zM251.0,247.9h2.3v2.3h-2.3zM199.8,301.6h2.3v2.3h-2.3zM445.7,109.9h1.9v1.9h-1.9zM136.7,301.7h2.3v2.3h-2.3zM214.7,223.3h2.3v2.3h-2.3zM214.4,280.7h2.3v2.3h-2.3zM329.1,160.5h2.3v2.3h-2.3zM247.3,256.4h2.3v2.3h-2.3zM268.8,263.1h2.3v2.3h-2.3zM322.8,160.8h2.3v2.3h-2.3zM478.7,98.1h1.8v1.8h-1.8zM422.0,187.3h2.0v2.0h-2.0zM313.9,185.0h2.3v2.3h-2.3zM200.0,245.0h2.3v2.3h-2.3zM286.9,194.1h2.3v2.3h-2.3zM350.2,190.7h2.2v2.2h-2.2z"/>
<path fill="#4a60ff" fill-opacity="0.28" d="M224.0,298.5h2.6v2.6h-2.6zM413.2,121.5h2.3v2.3h-2.3zM124.7,331.9h2.6v2.6h-2.6zM262.4,259.6h2.6v2.6h-2.6zM217.6,289.5h2.6v2.6h-2.6zM214.8,289.6h2.6v2.6h-2.6zM280.9,187.7h2.6v2.6h-2.6zM583.7,43.8h2.1v2.1h-2.1zM298.7,268.7h2.6v2.6h-2.6zM271.9,199.2h2.6v2.6h-2.6zM301.6,206.0h2.6v2.6h-2.6zM418.9,119.0h2.3v2.3h-2.3zM272.0,199.9h2.6v2.6h-2.6zM272.1,235.4h2.6v2.6h-2.6zM239.0,217.4h2.6v2.6h-2.6zM292.1,169.9h2.6v2.6h-2.6zM163.4,289.3h2.6v2.6h-2.6zM305.2,158.0h2.6v2.6h-2.6zM316.4,181.9h2.6v2.6h-2.6zM223.3,272.1h2.6v2.6h-2.6zM310.7,175.6h2.6v2.6h-2.6zM481.8,98.2h2.1v2.1h-2.1zM464.2,97.7h2.1v2.1h-2.1zM182.0,253.6h2.6v2.6h-2.6zM275.1,238.7h2.6v2.6h-2.6zM412.7,119.0h2.3v2.3h-2.3zM292.6,202.6h2.6v2.6h-2.6zM271.3,236.1h2.6v2.6h-2.6zM334.7,173.0h2.6v2.6h-2.6zM491.1,130.8h2.1v2.1h-2.1zM275.0,221.0h2.6v2.6h-2.6zM250.2,235.7h2.6v2.6h-2.6zM415.5,127.9h2.3v2.3h-2.3zM458.0,187.3h2.2v2.2h-2.2zM253.4,229.6h2.6v2.6h-2.6zM274.8,233.0h2.6v2.6h-2.6zM523.5,74.1h2.1v2.1h-2.1zM157.6,301.8h2.6v2.6h-2.6zM349.8,191.4h2.5v2.5h-2.5zM367.9,136.4h2.5v2.5h-2.5zM157.9,334.7h2.6v2.6h-2.6zM142.8,337.5h2.6v2.6h-2.6zM374.1,145.7h2.4v2.4h-2.4zM286.6,229.3h2.6v2.6h-2.6zM157.8,283.9h2.6v2.6h-2.6zM181.5,298.3h2.6v2.6h-2.6zM403.7,121.8h2.4v2.4h-2.4zM364.8,160.8h2.5v2.5h-2.5zM295.2,217.5h2.6v2.6h-2.6zM367.6,139.7h2.5v2.5h-2.5zM230.0,265.5h2.6v2.6h-2.6zM427.8,127.7h2.3v2.3h-2.3zM283.5,259.3h2.6v2.6h-2.6zM482.0,85.8h2.1v2.1h-2.1zM214.4,274.6h2.6v2.6h-2.6zM259.6,214.3h2.6v2.6h-2.6zM277.7,196.8h2.6v2.6h-2.6zM205.6,280.8h2.6v2.6h-2.6zM212.1,301.6h2.6v2.6h-2.6zM343.6,160.2h2.6v2.6h-2.6zM169.6,274.6h2.6v2.6h-2.6zM440.0,112.3h2.2v2.2h-2.2zM217.9,260.0h2.6v2.6h-2.6zM241.6,328.7h2.6v2.6h-2.6zM355.8,266.1h2.5v2.5h-2.5zM316.4,262.8h2.6v2.6h-2.6zM347.0,133.6h2.5v2.5h-2.5zM343.6,155.2h2.6v2.6h-2.6zM199.9,256.6h2.6v2.6h-2.6zM347.2,178.3h2.5v2.5h-2.5zM277.4,280.8h2.6v2.6h-2.6zM331.8,169.8h2.6v2.6h-2.6zM455.1,104.2h2.2v2.2h-2.2zM244.9,214.9h2.6v2.6h-2.6zM187.2,253.9h2.6v2.6h-2.6zM346.6,148.8h2.5v2.5h-2.5zM328.5,238.5h2.6v2.6h-2.6zM455.4,188.2h2.2v2.2h-2.2zM184.9,310.7h2.6v2.6h-2.6zM559.9,50.1h2.1v2.1h-2.1zM286.4,175.9h2.6v2.6h-2.6zM256.8,241.7h2.6v2.6h-2.6zM343.2,160.9h2.6v2.6h-2.6zM352.5,157.8h2.5v2.5h-2.5zM580.8,46.8h2.1v2.1h-2.1zM424.4,121.6h2.3v2.3h-2.3zM184.9,286.7h2.6v2.6h-2.6zM197.0,256.6h2.6v2.6h-2.6zM361.4,143.0h2.5v2.5h-2.5zM412.9,124.9h2.3v2.3h-2.3zM181.7,307.8h2.6v2.6h-2.6zM539.2,62.1h2.1v2.1h-2.1zM479.1,89.2h2.1v2.1h-2.1zM448.6,92.1h2.2v2.2h-2.2zM292.6,176.1h2.6v2.6h-2.6zM259.9,265.7h2.6v2.6h-2.6zM350.0,157.9h2.5v2.5h-2.5zM223.6,253.9h2.6v2.6h-2.6zM194.0,301.6h2.6v2.6h-2.6zM472.4,109.6h2.1v2.1h-2.1zM511.8,79.6h2.1v2.1h-2.1zM367.6,154.3h2.5v2.5h-2.5zM353.2,169.7h2.5v2.5h-2.5zM136.9,283.8h2.6v2.6h-2.6zM247.5,259.9h2.6v2.6h-2.6zM172.3,292.9h2.6v2.6h-2.6zM283.5,211.5h2.6v2.6h-2.6zM467.2,94.7h2.1v2.1h-2.1zM155.2,325.9h2.6v2.6h-2.6zM167.0,256.9h2.6v2.6h-2.6zM202.4,313.6h2.6v2.6h-2.6zM256.4,268.7h2.6v2.6h-2.6zM280.7,193.8h2.6v2.6h-2.6zM316.5,193.4h2.6v2.6h-2.6zM244.6,215.0h2.6v2.6h-2.6zM197.0,316.6h2.6v2.6h-2.6zM596.2,34.9h2.1v2.1h-2.1zM256.8,223.5h2.6v2.6h-2.6zM488.0,91.7h2.1v2.1h-2.1zM241.9,251.0h2.6v2.6h-2.6zM422.2,119.1h2.3v2.3h-2.3zM268.6,230.1h2.6v2.6h-2.6zM166.3,299.0h2.6v2.6h-2.6zM353.0,166.9h2.5v2.5h-2.5zM337.6,164.1h2.6v2.6h-2.6zM376.9,136.8h2.4v2.4h-2.4zM163.8,331.5h2.6v2.6h-2.6zM211.8,307.2h2.6v2.6h-2.6zM308.2,193.9h2.6v2.6h-2.6zM304.1,197.0h2.6v2.6h-2.6zM220.8,241.4h2.6v2.6h-2.6zM226.5,307.8h2.6v2.6h-2.6zM199.5,310.8h2.6v2.6h-2.6zM265.7,230.0h2.6v2.6h-2.6zM353.1,160.8h2.5v2.5h-2.5zM253.7,268.6h2.6v2.6h-2.6zM196.6,328.6h2.6v2.6h-2.6zM250.8,220.5h2.6v2.6h-2.6zM376.7,142.7h2.4v2.4h-2.4zM458.4,113.3h2.2v2.2h-2.2zM383.0,148.8h2.4v2.4h-2.4zM449.0,107.2h2.2v2.2h-2.2zM565.9,50.1h2.1v2.1h-2.1zM316.9,182.2h2.6v2.6h-2.6zM493.9,83.0h2.1v2.1h-2.1zM250.8,227.0h2.6v2.6h-2.6zM170.2,221.1h2.6v2.6h-2.6zM199.4,295.4h2.6v2.6h-2.6zM317.3,175.8h2.6v2.6h-2.6zM118.4,304.5h2.6v2.6h-2.6zM367.6,145.7h2.5v2.5h-2.5zM320.1,202.3h2.6v2.6h-2.6zM206.2,271.6h2.6v2.6h-2.6zM374.1,205.5h2.4v2.4h-2.4zM349.9,148.4h2.5v2.5h-2.5zM301.3,196.6h2.6v2.6h-2.6zM403.3,235.9h2.4v2.4h-2.4zM322.6,292.3h2.6v2.6h-2.6zM509.2,77.0h2.1v2.1h-2.1zM329.0,166.9h2.6v2.6h-2.6zM404.1,211.7h2.3v2.3h-2.3zM256.6,232.0h2.6v2.6h-2.6zM220.6,250.4h2.6v2.6h-2.6zM169.4,292.8h2.6v2.6h-2.6zM217.5,283.7h2.6v2.6h-2.6zM271.3,223.5h2.6v2.6h-2.6zM184.7,319.7h2.6v2.6h-2.6zM166.4,358.0h2.6v2.6h-2.6zM406.7,133.6h2.3v2.3h-2.3zM407.0,133.4h2.3v2.3h-2.3zM346.5,160.9h2.5v2.5h-2.5zM518.0,70.9h2.1v2.1h-2.1zM286.5,199.7h2.6v2.6h-2.6zM493.7,80.2h2.1v2.1h-2.1zM229.6,253.9h2.6v2.6h-2.6zM343.7,166.8h2.5v2.5h-2.5zM265.9,226.0h2.6v2.6h-2.6zM193.6,265.7h2.6v2.6h-2.6zM337.8,178.4h2.6v2.6h-2.6zM277.6,187.5h2.6v2.6h-2.6zM229.5,250.5h2.6v2.6h-2.6zM455.2,107.1h2.2v2.2h-2.2zM196.8,274.6h2.6v2.6h-2.6zM274.8,208.7h2.6v2.6h-2.6zM187.3,313.7h2.6v2.6h-2.6zM544.8,59.6h2.1v2.1h-2.1zM370.4,136.8h2.5v2.5h-2.5zM310.2,172.6h2.6v2.6h-2.6zM259.5,217.9h2.6v2.6h-2.6zM229.5,292.9h2.6v2.6h-2.6zM226.7,265.6h2.6v2.6h-2.6zM214.4,317.0h2.6v2.6h-2.6zM187.8,287.0h2.6v2.6h-2.6zM253.3,233.2h2.6v2.6h-2.6zM296.4,211.8h2.6v2.6h-2.6zM469.7,98.2h2.1v2.1h-2.1zM329.0,214.8h2.6v2.6h-2.6zM439.8,116.0h2.2v2.2h-2.2zM175.8,301.5h2.6v2.6h-2.6zM473.2,101.2h2.1v2.1h-2.1zM148.9,307.9h2.6v2.6h-2.6zM452.2,109.8h2.2v2.2h-2.2zM337.5,226.8h2.6v2.6h-2.6zM589.8,43.6h2.1v2.1h-2.1zM190.4,250.5h2.6v2.6h-2.6zM428.3,197.0h2.3v2.3h-2.3zM218.1,293.0h2.6v2.6h-2.6zM478.7,97.8h2.1v2.1h-2.1zM238.4,221.0h2.6v2.6h-2.6zM241.9,328.6h2.6v2.6h-2.6zM346.5,142.8h2.5v2.5h-2.5zM230.0,256.7h2.6v2.6h-2.6zM323.1,181.4h2.6v2.6h-2.6zM304.8,197.0h2.6v2.6h-2.6zM151.9,316.7h2.6v2.6h-2.6zM286.7,248.0h2.6v2.6h-2.6zM295.7,268.8h2.6v2.6h-2.6zM565.9,49.9h2.1v2.1h-2.1zM281.1,169.3h2.6v2.6h-2.6zM202.3,295.6h2.6v2.6h-2.6zM505.9,70.9h2.1v2.1h-2.1zM145.4,310.6h2.6v2.6h-2.6zM304.9,202.9h2.6v2.6h-2.6zM191.1,277.8h2.6v2.6h-2.6zM172.9,307.5h2.6v2.6h-2.6zM299.3,194.1h2.6v2.6h-2.6zM493.9,85.9h2.1v2.1h-2.1zM377.3,221.1h2.4v2.4h-2.4zM427.9,121.8h2.3v2.3h-2.3zM373.6,130.8h2.5v2.5h-2.5zM151.6,280.4h2.6v2.6h-2.6zM397.6,137.1h2.4v2.4h-2.4zM211.4,331.6h2.6v2.6h-2.6zM406.5,127.7h2.3v2.3h-2.3zM268.4,280.7h2.6v2.6h-2.6zM202.4,289.9h2.6v2.6h-2.6zM226.6,235.6h2.6v2.6h-2.6zM253.4,220.8h2.6v2.6h-2.6zM488.3,85.9h2.1v2.1h-2.1zM301.3,229.7h2.6v2.6h-2.6zM334.9,283.6h2.6v2.6h-2.6zM199.5,343.5h2.6v2.6h-2.6zM530.1,86.2h2.1v2.1h-2.1zM277.6,250.7h2.6v2.6h-2.6zM439.7,232.9h2.2v2.2h-2.2zM461.3,113.0h2.2v2.2h-2.2zM370.9,142.8h2.5v2.5h-2.5zM277.5,181.4h2.6v2.6h-2.6zM241.4,287.0h2.6v2.6h-2.6zM370.8,136.8h2.5v2.5h-2.5zM520.9,68.2h2.1v2.1h-2.1zM298.6,229.8h2.6v2.6h-2.6zM220.4,223.9h2.6v2.6h-2.6zM457.9,97.8h2.2v2.2h-2.2zM136.5,295.2h2.6v2.6h-2.6zM187.7,304.8h2.6v2.6h-2.6zM202.6,280.7h2.6v2.6h-2.6zM244.6,274.8h2.6v2.6h-2.6zM439.4,113.1h2.2v2.2h-2.2zM331.8,190.9h2.6v2.6h-2.6zM226.4,274.9h2.6v2.6h-2.6zM175.9,319.9h2.6v2.6h-2.6zM148.9,295.6h2.6v2.6h-2.6zM187.6,298.5h2.6v2.6h-2.6zM253.7,235.5h2.6v2.6h-2.6zM406.8,131.2h2.3v2.3h-2.3zM271.8,224.1h2.6v2.6h-2.6zM349.7,155.0h2.5v2.5h-2.5zM196.9,319.4h2.6v2.6h-2.6zM331.5,175.5h2.6v2.6h-2.6zM470.0,163.7h2.1v2.1h-2.1zM488.3,85.9h2.1v2.1h-2.1zM580.8,44.0h2.1v2.1h-2.1zM268.6,169.8h2.6v2.6h-2.6zM473.4,124.6h2.1v2.1h-2.1zM409.4,124.7h2.3v2.3h-2.3zM307.5,331.6h2.6v2.6h-2.6zM355.1,145.8h2.5v2.5h-2.5zM220.8,244.6h2.6v2.6h-2.6zM181.5,256.6h2.6v2.6h-2.6zM340.9,163.6h2.6v2.6h-2.6zM547.8,61.5h2.1v2.1h-2.1zM425.1,122.3h2.3v2.3h-2.3zM409.9,128.0h2.3v2.3h-2.3zM328.9,145.6h2.6v2.6h-2.6zM218.3,322.5h2.6v2.6h-2.6zM229.1,223.1h2.6v2.6h-2.6zM466.9,97.6h2.1v2.1h-2.1zM133.3,268.7h2.6v2.6h-2.6zM376.9,142.8h2.4v2.4h-2.4zM281.0,217.7h2.6v2.6h-2.6zM271.7,280.8h2.6v2.6h-2.6zM253.7,274.7h2.6v2.6h-2.6zM491.2,85.8h2.1v2.1h-2.1zM262.8,199.7h2.6v2.6h-2.6zM508.9,76.8h2.1v2.1h-2.1zM383.2,133.7h2.4v2.4h-2.4zM415.7,124.8h2.3v2.3h-2.3zM422.1,107.3h2.3v2.3h-2.3zM184.6,286.6h2.6v2.6h-2.6zM304.2,220.2h2.6v2.6h-2.6zM449.0,104.2h2.2v2.2h-2.2zM193.6,325.6h2.6v2.6h-2.6zM448.7,103.6h2.2v2.2h-2.2zM328.4,170.4h2.6v2.6h-2.6zM433.8,118.8h2.3v2.3h-2.3zM427.8,118.9h2.3v2.3h-2.3zM244.9,328.8h2.6v2.6h-2.6zM349.3,142.5h2.5v2.5h-2.5zM163.4,319.1h2.6v2.6h-2.6zM452.1,106.4h2.2v2.2h-2.2zM391.9,136.2h2.4v2.4h-2.4zM175.5,247.7h2.6v2.6h-2.6zM187.7,259.6h2.6v2.6h-2.6zM487.6,91.7h2.1v2.1h-2.1zM445.9,100.7h2.2v2.2h-2.2zM229.2,274.6h2.6v2.6h-2.6zM448.8,109.7h2.2v2.2h-2.2zM199.6,328.5h2.6v2.6h-2.6zM130.6,328.4h2.6v2.6h-2.6zM424.7,121.5h2.3v2.3h-2.3zM293.1,223.6h2.6v2.6h-2.6zM337.9,157.7h2.6v2.6h-2.6zM157.8,265.5h2.6v2.6h-2.6zM476.0,88.8h2.1v2.1h-2.1zM196.2,274.6h2.6v2.6h-2.6zM473.3,88.8h2.1v2.1h-2.1zM169.0,253.3h2.6v2.6h-2.6zM328.6,139.7h2.6v2.6h-2.6zM524.0,73.6h2.1v2.1h-2.1zM274.4,169.7h2.6v2.6h-2.6zM562.7,56.1h2.1v2.1h-2.1zM238.3,220.7h2.6v2.6h-2.6zM265.5,193.8h2.6v2.6h-2.6zM190.7,337.8h2.6v2.6h-2.6zM223.5,274.5h2.6v2.6h-2.6zM298.7,235.9h2.6v2.6h-2.6zM235.8,253.4h2.6v2.6h-2.6zM280.5,211.8h2.6v2.6h-2.6zM511.9,77.3h2.1v2.1h-2.1zM172.6,335.0h2.6v2.6h-2.6zM298.5,178.9h2.6v2.6h-2.6zM257.0,214.9h2.6v2.6h-2.6zM259.8,239.0h2.6v2.6h-2.6zM238.7,235.9h2.6v2.6h-2.6zM172.3,328.8h2.6v2.6h-2.6zM424.7,118.6h2.3v2.3h-2.3zM352.9,158.0h2.5v2.5h-2.5zM229.9,253.4h2.6v2.6h-2.6zM274.6,151.5h2.6v2.6h-2.6zM260.2,202.9h2.6v2.6h-2.6zM283.7,184.7h2.6v2.6h-2.6zM310.5,220.5h2.6v2.6h-2.6zM178.8,322.3h2.6v2.6h-2.6zM553.8,56.2h2.1v2.1h-2.1zM238.8,218.2h2.6v2.6h-2.6zM361.6,130.8h2.5v2.5h-2.5zM341.2,158.4h2.6v2.6h-2.6zM571.8,47.1h2.1v2.1h-2.1zM551.1,61.6h2.1v2.1h-2.1zM302.2,178.3h2.6v2.6h-2.6zM461.2,100.8h2.2v2.2h-2.2zM224.0,298.6h2.6v2.6h-2.6zM322.7,190.9h2.6v2.6h-2.6zM340.5,154.6h2.6v2.6h-2.6zM199.8,307.9h2.6v2.6h-2.6zM172.6,325.9h2.6v2.6h-2.6zM259.8,217.5h2.6v2.6h-2.6zM367.3,157.7h2.5v2.5h-2.5zM482.4,89.3h2.1v2.1h-2.1zM343.5,148.9h2.6v2.6h-2.6zM382.5,139.9h2.4v2.4h-2.4zM316.8,164.0h2.6v2.6h-2.6zM397.6,118.7h2.4v2.4h-2.4zM205.6,208.7h2.6v2.6h-2.6zM490.8,227.0h2.1v2.1h-2.1zM271.7,199.5h2.6v2.6h-2.6zM236.1,233.0h2.6v2.6h-2.6zM232.9,184.9h2.6v2.6h-2.6zM475.8,91.4h2.1v2.1h-2.1zM307.8,283.8h2.6v2.6h-2.6zM247.5,235.8h2.6v2.6h-2.6zM280.8,202.6h2.6v2.6h-2.6zM482.0,89.0h2.1v2.1h-2.1zM175.6,331.8h2.6v2.6h-2.6zM307.4,202.7h2.6v2.6h-2.6zM260.0,256.8h2.6v2.6h-2.6zM277.8,235.7h2.6v2.6h-2.6zM167.0,281.4h2.6v2.6h-2.6zM199.7,307.8h2.6v2.6h-2.6zM211.6,281.2h2.6v2.6h-2.6zM170.1,259.4h2.6v2.6h-2.6zM218.0,289.6h2.6v2.6h-2.6zM221.0,284.0h2.6v2.6h-2.6zM319.9,172.4h2.6v2.6h-2.6zM367.7,145.8h2.5v2.5h-2.5zM457.9,95.1h2.2v2.2h-2.2zM235.7,160.5h2.6v2.6h-2.6zM305.0,167.0h2.6v2.6h-2.6zM199.6,293.0h2.6v2.6h-2.6zM566.1,50.2h2.1v2.1h-2.1zM238.7,211.8h2.6v2.6h-2.6zM304.8,229.8h2.6v2.6h-2.6zM256.4,232.8h2.6v2.6h-2.6zM163.3,289.6h2.6v2.6h-2.6zM251.1,275.3h2.6v2.6h-2.6zM178.5,289.7h2.6v2.6h-2.6zM400.7,127.9h2.4v2.4h-2.4zM310.5,187.7h2.6v2.6h-2.6zM400.5,130.7h2.4v2.4h-2.4zM365.1,146.2h2.5v2.5h-2.5zM265.3,218.0h2.6v2.6h-2.6zM391.8,145.7h2.4v2.4h-2.4zM188.4,286.7h2.6v2.6h-2.6zM242.0,271.6h2.6v2.6h-2.6zM496.9,71.5h2.1v2.1h-2.1zM479.1,88.9h2.1v2.1h-2.1zM119.0,328.7h2.6v2.6h-2.6zM385.8,139.7h2.4v2.4h-2.4zM226.6,244.6h2.6v2.6h-2.6zM430.7,115.8h2.3v2.3h-2.3zM400.8,133.3h2.4v2.4h-2.4zM271.5,214.5h2.6v2.6h-2.6zM206.1,280.8h2.6v2.6h-2.6zM229.6,217.7h2.6v2.6h-2.6zM299.2,181.5h2.6v2.6h-2.6zM215.2,253.8h2.6v2.6h-2.6zM142.8,313.8h2.6v2.6h-2.6zM304.7,172.6h2.6v2.6h-2.6zM151.6,325.8h2.6v2.6h-2.6zM259.8,244.7h2.6v2.6h-2.6zM277.6,187.7h2.6v2.6h-2.6zM286.4,200.0h2.6v2.6h-2.6zM211.8,286.6h2.6v2.6h-2.6zM238.5,253.4h2.6v2.6h-2.6zM253.8,220.9h2.6v2.6h-2.6zM203.0,313.6h2.6v2.6h-2.6zM223.8,235.8h2.6v2.6h-2.6zM437.1,112.7h2.2v2.2h-2.2zM238.9,214.6h2.6v2.6h-2.6zM140.0,280.4h2.6v2.6h-2.6zM271.8,208.9h2.6v2.6h-2.6zM217.8,241.5h2.6v2.6h-2.6zM574.8,44.0h2.1v2.1h-2.1zM208.9,238.7h2.6v2.6h-2.6zM199.6,281.0h2.6v2.6h-2.6zM193.6,232.6h2.6v2.6h-2.6zM419.0,121.8h2.3v2.3h-2.3zM202.2,286.7h2.6v2.6h-2.6zM214.8,307.5h2.6v2.6h-2.6zM265.8,238.9h2.6v2.6h-2.6zM223.8,244.3h2.6v2.6h-2.6zM211.8,334.6h2.6v2.6h-2.6zM181.8,358.0h2.6v2.6h-2.6zM397.7,124.9h2.4v2.4h-2.4zM211.8,275.1h2.6v2.6h-2.6zM289.3,205.9h2.6v2.6h-2.6zM481.8,103.8h2.1v2.1h-2.1zM383.2,142.6h2.4v2.4h-2.4zM163.7,283.7h2.6v2.6h-2.6zM319.7,182.2h2.6v2.6h-2.6zM463.9,106.9h2.2v2.2h-2.2zM235.8,241.4h2.6v2.6h-2.6zM409.8,133.7h2.3v2.3h-2.3zM313.3,164.0h2.6v2.6h-2.6zM208.8,250.8h2.6v2.6h-2.6zM451.7,110.1h2.2v2.2h-2.2zM259.9,206.0h2.6v2.6h-2.6zM175.6,320.0h2.6v2.6h-2.6zM463.6,97.8h2.2v2.2h-2.2zM241.8,277.7h2.6v2.6h-2.6zM440.1,115.7h2.2v2.2h-2.2zM424.5,116.1h2.3v2.3h-2.3zM266.0,226.9h2.6v2.6h-2.6zM235.6,193.3h2.6v2.6h-2.6zM512.0,71.2h2.1v2.1h-2.1zM223.4,313.8h2.6v2.6h-2.6zM181.3,265.9h2.6v2.6h-2.6zM388.7,148.8h2.4v2.4h-2.4zM529.8,62.0h2.1v2.1h-2.1zM253.8,286.7h2.6v2.6h-2.6zM259.8,271.7h2.6v2.6h-2.6zM370.8,142.8h2.5v2.5h-2.5zM343.8,169.8h2.5v2.5h-2.5zM278.0,256.9h2.6v2.6h-2.6zM568.9,52.9h2.1v2.1h-2.1zM277.9,181.7h2.6v2.6h-2.6zM358.9,130.9h2.5v2.5h-2.5zM235.5,277.6h2.6v2.6h-2.6zM178.4,316.8h2.6v2.6h-2.6zM349.7,154.6h2.5v2.5h-2.5zM343.6,178.6h2.6v2.6h-2.6zM262.5,211.9h2.6v2.6h-2.6zM271.9,232.4h2.6v2.6h-2.6zM274.9,196.9h2.6v2.6h-2.6zM305.3,316.8h2.6v2.6h-2.6zM439.7,113.1h2.2v2.2h-2.2zM163.6,280.6h2.6v2.6h-2.6zM434.2,118.9h2.2v2.2h-2.2zM262.6,196.4h2.6v2.6h-2.6zM448.6,185.0h2.2v2.2h-2.2zM184.4,271.4h2.6v2.6h-2.6zM193.5,340.8h2.6v2.6h-2.6zM223.7,274.4h2.6v2.6h-2.6zM289.4,254.0h2.6v2.6h-2.6zM269.1,235.5h2.6v2.6h-2.6zM256.7,241.6h2.6v2.6h-2.6zM196.5,304.5h2.6v2.6h-2.6zM262.8,307.5h2.6v2.6h-2.6zM308.0,199.4h2.6v2.6h-2.6zM529.8,65.1h2.1v2.1h-2.1zM434.5,119.0h2.2v2.2h-2.2zM256.1,283.7h2.6v2.6h-2.6zM538.8,58.6h2.1v2.1h-2.1zM226.4,283.4h2.6v2.6h-2.6zM214.5,298.7h2.6v2.6h-2.6zM485.1,92.0h2.1v2.1h-2.1zM223.4,280.3h2.6v2.6h-2.6zM286.8,193.1h2.6v2.6h-2.6zM397.8,179.2h2.4v2.4h-2.4zM208.6,289.4h2.6v2.6h-2.6zM265.7,226.7h2.6v2.6h-2.6zM335.3,154.9h2.6v2.6h-2.6zM232.9,256.7h2.6v2.6h-2.6zM301.8,223.7h2.6v2.6h-2.6zM317.0,154.8h2.6v2.6h-2.6zM215.1,241.3h2.6v2.6h-2.6zM136.8,319.5h2.6v2.6h-2.6zM586.7,47.0h2.1v2.1h-2.1zM226.6,292.6h2.6v2.6h-2.6zM271.4,163.8h2.6v2.6h-2.6zM361.5,187.8h2.5v2.5h-2.5zM197.1,304.6h2.6v2.6h-2.6zM397.8,130.6h2.4v2.4h-2.4zM313.3,187.3h2.6v2.6h-2.6zM139.6,329.0h2.6v2.6h-2.6zM316.3,169.7h2.6v2.6h-2.6zM172.7,334.5h2.6v2.6h-2.6zM202.9,310.7h2.6v2.6h-2.6zM181.4,283.7h2.6v2.6h-2.6zM442.7,103.7h2.2v2.2h-2.2zM334.4,286.8h2.6v2.6h-2.6zM379.9,313.9h2.4v2.4h-2.4zM355.5,173.1h2.5v2.5h-2.5zM322.9,190.7h2.6v2.6h-2.6zM232.4,238.4h2.6v2.6h-2.6zM304.4,244.9h2.6v2.6h-2.6zM262.8,245.0h2.6v2.6h-2.6zM146.0,289.6h2.6v2.6h-2.6zM196.5,247.9h2.6v2.6h-2.6zM400.8,140.1h2.4v2.4h-2.4zM256.9,229.3h2.6v2.6h-2.6zM214.9,244.5h2.6v2.6h-2.6zM460.9,103.9h2.2v2.2h-2.2zM337.6,163.3h2.6v2.6h-2.6zM184.3,343.6h2.6v2.6h-2.6zM560.0,52.8h2.1v2.1h-2.1zM211.4,292.6h2.6v2.6h-2.6zM506.3,91.8h2.1v2.1h-2.1zM581.3,37.8h2.1v2.1h-2.1zM238.6,241.8h2.6v2.6h-2.6zM442.8,145.7h2.2v2.2h-2.2zM238.6,208.6h2.6v2.6h-2.6zM473.3,100.7h2.1v2.1h-2.1zM451.9,98.0h2.2v2.2h-2.2zM403.9,202.5h2.3v2.3h-2.3zM271.4,209.0h2.6v2.6h-2.6zM406.7,128.2h2.3v2.3h-2.3zM436.6,104.3h2.2v2.2h-2.2zM218.4,280.8h2.6v2.6h-2.6zM211.7,295.8h2.6v2.6h-2.6zM265.7,199.8h2.6v2.6h-2.6zM295.5,193.7h2.6v2.6h-2.6zM157.4,304.7h2.6v2.6h-2.6zM440.0,107.0h2.2v2.2h-2.2zM578.4,53.1h2.1v2.1h-2.1zM193.6,284.0h2.6v2.6h-2.6zM163.7,346.7h2.6v2.6h-2.6zM434.6,121.8h2.2v2.2h-2.2zM554.5,131.0h2.1v2.1h-2.1zM281.2,196.8h2.6v2.6h-2.6zM265.8,202.8h2.6v2.6h-2.6zM214.8,286.5h2.6v2.6h-2.6zM130.7,328.8h2.6v2.6h-2.6zM328.6,166.9h2.6v2.6h-2.6zM481.4,91.9h2.1v2.1h-2.1zM308.2,202.7h2.6v2.6h-2.6zM178.4,314.0h2.6v2.6h-2.6zM241.6,265.7h2.6v2.6h-2.6zM394.8,136.7h2.4v2.4h-2.4zM169.7,311.3h2.6v2.6h-2.6zM319.6,199.9h2.6v2.6h-2.6zM313.3,184.8h2.6v2.6h-2.6zM172.9,307.1h2.6v2.6h-2.6zM232.6,280.8h2.6v2.6h-2.6zM509.0,157.8h2.1v2.1h-2.1zM479.2,88.4h2.1v2.1h-2.1zM163.6,292.8h2.6v2.6h-2.6zM470.2,205.9h2.1v2.1h-2.1zM325.7,263.1h2.6v2.6h-2.6zM545.1,65.0h2.1v2.1h-2.1zM490.8,86.2h2.1v2.1h-2.1zM460.9,100.7h2.2v2.2h-2.2zM233.0,226.5h2.6v2.6h-2.6zM355.2,142.5h2.5v2.5h-2.5zM460.9,248.5h2.2v2.2h-2.2zM154.4,280.6h2.6v2.6h-2.6zM412.7,133.8h2.3v2.3h-2.3zM188.0,301.9h2.6v2.6h-2.6zM541.9,68.2h2.1v2.1h-2.1zM223.1,247.8h2.6v2.6h-2.6zM427.8,100.5h2.3v2.3h-2.3zM319.9,179.4h2.6v2.6h-2.6zM586.7,35.6h2.1v2.1h-2.1zM223.7,301.9h2.6v2.6h-2.6zM259.6,211.5h2.6v2.6h-2.6zM217.6,293.2h2.6v2.6h-2.6zM140.1,298.8h2.6v2.6h-2.6zM323.0,187.6h2.6v2.6h-2.6zM190.4,265.5h2.6v2.6h-2.6zM202.5,283.9h2.6v2.6h-2.6zM500.1,80.1h2.1v2.1h-2.1zM433.9,130.8h2.2v2.2h-2.2zM247.4,265.6h2.6v2.6h-2.6zM397.6,175.7h2.4v2.4h-2.4zM244.5,307.9h2.6v2.6h-2.6zM218.1,316.7h2.6v2.6h-2.6zM215.0,319.9h2.6v2.6h-2.6zM175.7,286.9h2.6v2.6h-2.6zM256.9,226.5h2.6v2.6h-2.6zM247.6,259.6h2.6v2.6h-2.6zM283.2,232.4h2.6v2.6h-2.6zM280.6,199.5h2.6v2.6h-2.6zM193.3,340.6h2.6v2.6h-2.6zM325.7,142.6h2.6v2.6h-2.6zM370.9,142.7h2.5v2.5h-2.5zM385.8,143.0h2.4v2.4h-2.4zM397.7,140.0h2.4v2.4h-2.4zM455.0,104.1h2.2v2.2h-2.2zM428.0,113.2h2.3v2.3h-2.3zM233.0,205.6h2.6v2.6h-2.6zM296.1,175.9h2.6v2.6h-2.6zM244.7,253.7h2.6v2.6h-2.6zM313.9,169.5h2.6v2.6h-2.6zM331.7,166.7h2.6v2.6h-2.6zM419.6,113.0h2.3v2.3h-2.3zM470.1,92.0h2.1v2.1h-2.1zM307.9,190.7h2.6v2.6h-2.6zM325.6,190.5h2.6v2.6h-2.6zM484.5,76.9h2.1v2.1h-2.1zM403.7,136.8h2.4v2.4h-2.4zM440.0,106.7h2.2v2.2h-2.2zM329.0,170.0h2.6v2.6h-2.6zM328.4,208.7h2.6v2.6h-2.6zM368.1,148.8h2.5v2.5h-2.5zM565.7,52.6h2.1v2.1h-2.1zM479.3,98.0h2.1v2.1h-2.1zM445.6,109.7h2.2v2.2h-2.2zM253.6,190.9h2.6v2.6h-2.6zM326.1,190.4h2.6v2.6h-2.6zM322.9,155.0h2.6v2.6h-2.6zM214.6,262.8h2.6v2.6h-2.6zM211.9,280.9h2.6v2.6h-2.6zM421.6,119.2h2.3v2.3h-2.3zM250.8,229.5h2.6v2.6h-2.6zM403.8,139.9h2.4v2.4h-2.4zM302.0,193.8h2.6v2.6h-2.6zM349.7,157.6h2.5v2.5h-2.5zM590.0,46.7h2.1v2.1h-2.1zM295.4,178.8h2.6v2.6h-2.6zM455.1,98.0h2.2v2.2h-2.2zM376.8,152.0h2.4v2.4h-2.4zM265.9,256.7h2.6v2.6h-2.6zM310.3,190.7h2.6v2.6h-2.6zM176.1,319.4h2.6v2.6h-2.6zM259.8,259.9h2.6v2.6h-2.6zM488.6,86.1h2.1v2.1h-2.1zM163.9,307.5h2.6v2.6h-2.6zM205.3,280.7h2.6v2.6h-2.6zM421.3,118.9h2.3v2.3h-2.3zM157.7,325.7h2.6v2.6h-2.6zM295.8,175.8h2.6v2.6h-2.6zM265.8,178.5h2.6v2.6h-2.6zM118.5,323.0h2.6v2.6h-2.6zM229.5,256.7h2.6v2.6h-2.6zM505.8,80.3h2.1v2.1h-2.1zM337.6,157.5h2.6v2.6h-2.6zM263.0,280.7h2.6v2.6h-2.6zM442.8,137.0h2.2v2.2h-2.2zM181.2,232.7h2.6v2.6h-2.6zM391.8,133.7h2.4v2.4h-2.4zM550.7,56.3h2.1v2.1h-2.1zM376.4,151.9h2.4v2.4h-2.4zM415.7,121.7h2.3v2.3h-2.3zM205.5,334.7h2.6v2.6h-2.6zM340.8,155.0h2.6v2.6h-2.6zM310.3,163.9h2.6v2.6h-2.6zM370.6,136.4h2.5v2.5h-2.5zM322.9,275.2h2.6v2.6h-2.6zM280.7,209.0h2.6v2.6h-2.6zM391.8,134.2h2.4v2.4h-2.4zM263.1,220.2h2.6v2.6h-2.6zM295.8,184.5h2.6v2.6h-2.6zM160.7,304.9h2.6v2.6h-2.6zM361.9,143.1h2.5v2.5h-2.5zM386.1,133.4h2.4v2.4h-2.4zM232.9,205.9h2.6v2.6h-2.6zM205.5,299.1h2.6v2.6h-2.6zM253.7,319.8h2.6v2.6h-2.6zM529.7,67.9h2.1v2.1h-2.1zM175.5,307.8h2.6v2.6h-2.6zM211.7,239.1h2.6v2.6h-2.6zM139.6,283.6h2.6v2.6h-2.6zM287.0,175.7h2.6v2.6h-2.6zM301.6,172.5h2.6v2.6h-2.6zM226.8,268.7h2.6v2.6h-2.6zM446.3,116.0h2.2v2.2h-2.2zM283.8,166.7h2.6v2.6h-2.6zM265.4,175.9h2.6v2.6h-2.6zM316.9,175.2h2.6v2.6h-2.6zM196.5,280.4h2.6v2.6h-2.6zM413.1,124.3h2.3v2.3h-2.3zM392.3,134.0h2.4v2.4h-2.4zM221.2,274.4h2.6v2.6h-2.6zM247.4,208.6h2.6v2.6h-2.6zM376.6,139.9h2.4v2.4h-2.4zM191.1,271.7h2.6v2.6h-2.6zM497.6,85.7h2.1v2.1h-2.1zM245.0,214.8h2.6v2.6h-2.6zM247.9,262.3h2.6v2.6h-2.6zM280.9,187.6h2.6v2.6h-2.6zM494.1,85.6h2.1v2.1h-2.1zM418.9,122.0h2.3v2.3h-2.3zM370.6,151.7h2.5v2.5h-2.5zM176.0,310.6h2.6v2.6h-2.6zM523.9,68.2h2.1v2.1h-2.1zM599.2,38.1h2.1v2.1h-2.1zM271.8,229.3h2.6v2.6h-2.6zM460.5,97.9h2.2v2.2h-2.2zM539.0,65.1h2.1v2.1h-2.1zM404.0,152.1h2.3v2.3h-2.3zM295.8,172.8h2.6v2.6h-2.6zM244.9,232.7h2.6v2.6h-2.6zM250.7,280.7h2.6v2.6h-2.6zM208.8,295.3h2.6v2.6h-2.6zM283.7,292.9h2.6v2.6h-2.6zM268.9,199.7h2.6v2.6h-2.6zM283.4,205.8h2.6v2.6h-2.6zM416.1,121.0h2.3v2.3h-2.3zM406.9,124.4h2.3v2.3h-2.3zM448.9,101.3h2.2v2.2h-2.2zM361.7,152.2h2.5v2.5h-2.5zM169.8,295.3h2.6v2.6h-2.6zM430.8,122.2h2.3v2.3h-2.3zM281.0,190.6h2.6v2.6h-2.6zM238.6,275.0h2.6v2.6h-2.6zM376.8,142.7h2.4v2.4h-2.4zM157.9,275.0h2.6v2.6h-2.6zM172.2,301.3h2.6v2.6h-2.6zM253.3,214.5h2.6v2.6h-2.6zM539.1,70.7h2.1v2.1h-2.1zM238.8,241.5h2.6v2.6h-2.6zM140.2,301.6h2.6v2.6h-2.6zM278.0,244.7h2.6v2.6h-2.6zM175.7,304.3h2.6v2.6h-2.6zM320.0,178.8h2.6v2.6h-2.6zM569.0,50.2h2.1v2.1h-2.1zM238.3,229.6h2.6v2.6h-2.6zM157.7,313.6h2.6v2.6h-2.6zM424.4,109.8h2.3v2.3h-2.3zM289.6,256.0h2.6v2.6h-2.6zM178.6,308.2h2.6v2.6h-2.6zM256.1,220.5h2.6v2.6h-2.6zM503.2,82.7h2.1v2.1h-2.1zM331.5,163.0h2.6v2.6h-2.6zM433.3,116.0h2.3v2.3h-2.3zM457.6,106.6h2.2v2.2h-2.2zM454.6,104.1h2.2v2.2h-2.2zM247.2,226.7h2.6v2.6h-2.6zM316.8,185.2h2.6v2.6h-2.6zM289.3,227.0h2.6v2.6h-2.6zM304.7,169.9h2.6v2.6h-2.6zM334.8,163.7h2.6v2.6h-2.6zM494.0,85.9h2.1v2.1h-2.1zM244.6,244.7h2.6v2.6h-2.6zM256.8,265.4h2.6v2.6h-2.6zM325.9,175.8h2.6v2.6h-2.6zM172.7,295.7h2.6v2.6h-2.6zM232.7,253.7h2.6v2.6h-2.6zM154.7,265.8h2.6v2.6h-2.6zM280.3,290.0h2.6v2.6h-2.6zM487.7,92.2h2.1v2.1h-2.1zM574.9,50.3h2.1v2.1h-2.1zM233.0,292.7h2.6v2.6h-2.6zM329.1,172.6h2.6v2.6h-2.6zM265.8,211.8h2.6v2.6h-2.6zM250.6,238.5h2.6v2.6h-2.6zM208.6,268.5h2.6v2.6h-2.6zM343.4,170.0h2.6v2.6h-2.6zM442.6,106.8h2.2v2.2h-2.2zM466.9,100.6h2.1v2.1h-2.1zM427.9,113.1h2.3v2.3h-2.3zM337.6,175.2h2.6v2.6h-2.6zM217.8,271.9h2.6v2.6h-2.6zM218.0,278.0h2.6v2.6h-2.6zM415.7,124.4h2.3v2.3h-2.3zM178.8,238.7h2.6v2.6h-2.6zM301.8,244.6h2.6v2.6h-2.6zM277.7,196.5h2.6v2.6h-2.6zM160.8,262.5h2.6v2.6h-2.6zM151.8,332.0h2.6v2.6h-2.6zM193.8,337.8h2.6v2.6h-2.6zM286.9,227.1h2.6v2.6h-2.6zM295.9,172.7h2.6v2.6h-2.6zM247.5,304.7h2.6v2.6h-2.6zM305.0,190.8h2.6v2.6h-2.6zM253.6,302.1h2.6v2.6h-2.6zM415.7,136.7h2.3v2.3h-2.3zM250.8,223.6h2.6v2.6h-2.6zM215.0,284.1h2.6v2.6h-2.6zM241.3,256.9h2.6v2.6h-2.6zM443.1,181.9h2.2v2.2h-2.2zM421.7,113.3h2.3v2.3h-2.3zM586.6,41.4h2.1v2.1h-2.1zM208.8,295.9h2.6v2.6h-2.6zM269.0,265.9h2.6v2.6h-2.6zM161.0,220.8h2.6v2.6h-2.6zM217.9,250.5h2.6v2.6h-2.6zM199.6,283.4h2.6v2.6h-2.6zM238.6,289.6h2.6v2.6h-2.6zM187.7,286.9h2.6v2.6h-2.6zM364.8,191.1h2.5v2.5h-2.5zM307.7,175.7h2.6v2.6h-2.6zM223.6,304.8h2.6v2.6h-2.6zM370.3,143.3h2.5v2.5h-2.5zM208.9,232.8h2.6v2.6h-2.6zM445.7,106.5h2.2v2.2h-2.2zM154.6,271.8h2.6v2.6h-2.6zM298.7,182.1h2.6v2.6h-2.6zM422.0,112.7h2.3v2.3h-2.3zM281.0,175.8h2.6v2.6h-2.6zM184.2,283.6h2.6v2.6h-2.6zM506.0,82.7h2.1v2.1h-2.1zM260.2,199.6h2.6v2.6h-2.6zM346.6,163.8h2.5v2.5h-2.5zM481.4,85.5h2.1v2.1h-2.1zM250.8,214.4h2.6v2.6h-2.6zM262.7,226.5h2.6v2.6h-2.6zM427.7,119.1h2.3v2.3h-2.3zM515.1,64.2h2.1v2.1h-2.1zM241.8,262.5h2.6v2.6h-2.6zM259.8,277.9h2.6v2.6h-2.6zM124.6,331.6h2.6v2.6h-2.6zM265.5,268.4h2.6v2.6h-2.6zM223.7,259.6h2.6v2.6h-2.6zM262.9,193.6h2.6v2.6h-2.6zM124.3,319.7h2.6v2.6h-2.6zM211.7,260.1h2.6v2.6h-2.6zM292.4,206.1h2.6v2.6h-2.6zM370.6,137.0h2.5v2.5h-2.5zM295.8,211.8h2.6v2.6h-2.6zM185.0,266.0h2.6v2.6h-2.6zM266.0,244.6h2.6v2.6h-2.6zM229.8,295.2h2.6v2.6h-2.6zM533.3,62.1h2.1v2.1h-2.1zM175.4,331.7h2.6v2.6h-2.6zM422.0,136.9h2.3v2.3h-2.3zM280.9,202.3h2.6v2.6h-2.6zM193.9,283.8h2.6v2.6h-2.6zM176.1,310.9h2.6v2.6h-2.6zM352.8,154.8h2.5v2.5h-2.5zM485.2,98.0h2.1v2.1h-2.1zM229.8,304.4h2.6v2.6h-2.6zM235.4,304.8h2.6v2.6h-2.6zM508.9,80.6h2.1v2.1h-2.1zM347.3,166.6h2.5v2.5h-2.5zM490.8,82.9h2.1v2.1h-2.1zM151.7,307.4h2.6v2.6h-2.6zM208.7,241.7h2.6v2.6h-2.6zM341.3,166.5h2.6v2.6h-2.6zM442.6,109.7h2.2v2.2h-2.2zM412.7,122.1h2.3v2.3h-2.3zM329.1,163.6h2.6v2.6h-2.6zM334.8,178.9h2.6v2.6h-2.6zM398.0,136.9h2.4v2.4h-2.4zM238.4,283.3h2.6v2.6h-2.6zM367.1,175.8h2.5v2.5h-2.5zM518.1,77.1h2.1v2.1h-2.1zM145.4,316.5h2.6v2.6h-2.6zM425.3,127.8h2.3v2.3h-2.3zM271.9,178.7h2.6v2.6h-2.6zM112.6,296.2h2.6v2.6h-2.6zM274.9,241.1h2.6v2.6h-2.6zM406.6,121.8h2.3v2.3h-2.3zM499.5,82.8h2.1v2.1h-2.1zM202.9,298.8h2.6v2.6h-2.6zM371.1,190.5h2.5v2.5h-2.5zM322.4,169.6h2.6v2.6h-2.6zM442.9,103.4h2.2v2.2h-2.2zM238.7,313.8h2.6v2.6h-2.6zM187.7,301.8h2.6v2.6h-2.6zM242.4,217.7h2.6v2.6h-2.6zM196.9,296.0h2.6v2.6h-2.6zM430.9,119.0h2.3v2.3h-2.3zM205.9,286.5h2.6v2.6h-2.6zM292.6,190.7h2.6v2.6h-2.6zM274.7,268.5h2.6v2.6h-2.6zM202.9,316.4h2.6v2.6h-2.6zM554.1,58.8h2.1v2.1h-2.1zM232.2,262.6h2.6v2.6h-2.6zM247.6,244.6h2.6v2.6h-2.6zM139.8,316.6h2.6v2.6h-2.6zM407.1,137.1h2.3v2.3h-2.3zM521.3,74.0h2.1v2.1h-2.1zM194.1,265.6h2.6v2.6h-2.6zM403.8,121.6h2.4v2.4h-2.4zM493.5,146.2h2.1v2.1h-2.1zM319.8,211.8h2.6v2.6h-2.6zM241.6,265.3h2.6v2.6h-2.6zM229.6,310.2h2.6v2.6h-2.6zM229.5,268.6h2.6v2.6h-2.6zM262.9,220.2h2.6v2.6h-2.6zM382.7,136.6h2.4v2.4h-2.4zM382.9,133.3h2.4v2.4h-2.4zM488.2,86.2h2.1v2.1h-2.1zM218.0,319.8h2.6v2.6h-2.6zM169.8,319.5h2.6v2.6h-2.6zM473.1,98.1h2.1v2.1h-2.1zM496.9,80.0h2.1v2.1h-2.1zM214.8,316.6h2.6v2.6h-2.6zM164.0,256.4h2.6v2.6h-2.6zM581.1,49.7h2.1v2.1h-2.1zM295.9,172.5h2.6v2.6h-2.6zM190.4,268.6h2.6v2.6h-2.6zM244.6,232.2h2.6v2.6h-2.6zM200.0,334.5h2.6v2.6h-2.6zM172.4,277.8h2.6v2.6h-2.6zM308.0,173.1h2.6v2.6h-2.6zM247.8,304.6h2.6v2.6h-2.6zM349.6,161.0h2.5v2.5h-2.5zM415.8,169.7h2.3v2.3h-2.3zM200.1,289.6h2.6v2.6h-2.6zM515.1,71.7h2.1v2.1h-2.1zM565.6,50.2h2.1v2.1h-2.1zM373.5,133.4h2.5v2.5h-2.5zM217.6,274.8h2.6v2.6h-2.6zM539.2,97.5h2.1v2.1h-2.1zM368.0,149.2h2.5v2.5h-2.5zM538.9,64.7h2.1v2.1h-2.1zM305.3,160.8h2.6v2.6h-2.6zM382.9,173.1h2.4v2.4h-2.4zM169.7,292.9h2.6v2.6h-2.6zM298.8,187.8h2.6v2.6h-2.6zM217.3,326.1h2.6v2.6h-2.6zM595.9,38.0h2.1v2.1h-2.1zM223.9,301.5h2.6v2.6h-2.6zM184.6,289.7h2.6v2.6h-2.6zM223.2,331.8h2.6v2.6h-2.6zM436.9,172.8h2.2v2.2h-2.2zM502.7,76.5h2.1v2.1h-2.1zM298.3,244.3h2.6v2.6h-2.6zM232.5,280.4h2.6v2.6h-2.6zM293.0,181.7h2.6v2.6h-2.6zM307.8,203.0h2.6v2.6h-2.6zM472.9,112.4h2.1v2.1h-2.1zM244.9,220.9h2.6v2.6h-2.6zM392.1,139.9h2.4v2.4h-2.4zM415.8,128.2h2.3v2.3h-2.3zM220.5,289.5h2.6v2.6h-2.6zM220.8,196.7h2.6v2.6h-2.6zM385.8,143.0h2.4v2.4h-2.4zM271.9,250.7h2.6v2.6h-2.6zM199.9,289.7h2.6v2.6h-2.6zM259.8,196.7h2.6v2.6h-2.6zM253.6,238.9h2.6v2.6h-2.6zM458.0,107.2h2.2v2.2h-2.2zM238.3,238.8h2.6v2.6h-2.6zM461.0,98.2h2.2v2.2h-2.2zM217.8,281.1h2.6v2.6h-2.6zM262.3,254.1h2.6v2.6h-2.6zM203.1,307.5h2.6v2.6h-2.6zM356.0,170.0h2.5v2.5h-2.5zM592.9,38.2h2.1v2.1h-2.1zM268.4,220.7h2.6v2.6h-2.6zM490.9,203.1h2.1v2.1h-2.1zM193.5,277.8h2.6v2.6h-2.6zM209.0,322.5h2.6v2.6h-2.6zM295.6,175.7h2.6v2.6h-2.6zM442.7,97.5h2.2v2.2h-2.2zM232.9,244.6h2.6v2.6h-2.6zM493.9,77.1h2.1v2.1h-2.1zM442.8,119.3h2.2v2.2h-2.2zM547.5,56.1h2.1v2.1h-2.1zM250.9,244.8h2.6v2.6h-2.6zM169.9,295.8h2.6v2.6h-2.6z"/>
<path fill="#7a20c8" fill-opacity="0.70" d="M356.4,164.1h1.9v1.9h-1.9zM209.4,248.0h2.0v2.0h-2.0zM323.2,163.6h2.0v2.0h-2.0zM242.2,245.5h2.0v2.0h-2.0zM184.5,311.2h2.0v2.0h-2.0zM152.0,307.7h2.0v2.0h-2.0zM263.0,175.9h2.0v2.0h-2.0zM515.2,74.4h1.5v1.5h-1.5zM124.9,317.1h2.0v2.0h-2.0zM203.2,263.1h2.0v2.0h-2.0zM239.0,253.8h2.0v2.0h-2.0zM302.1,191.3h2.0v2.0h-2.0zM389.4,140.3h1.8v1.8h-1.8zM311.0,190.9h2.0v2.0h-2.0zM445.8,107.2h1.6v1.6h-1.6zM200.2,305.2h2.0v2.0h-2.0zM284.5,181.7h2.0v2.0h-2.0zM226.9,337.9h2.0v2.0h-2.0zM397.8,137.3h1.8v1.8h-1.8zM199.8,323.5h2.0v2.0h-2.0zM287.2,202.9h2.0v2.0h-2.0zM302.2,185.4h2.0v2.0h-2.0zM380.3,149.1h1.8v1.8h-1.8zM242.3,247.8h2.0v2.0h-2.0zM254.2,232.8h2.0v2.0h-2.0zM422.0,113.5h1.7v1.7h-1.7zM392.1,133.9h1.8v1.8h-1.8zM356.2,152.0h1.9v1.9h-1.9zM304.5,211.9h2.0v2.0h-2.0zM242.1,248.0h2.0v2.0h-2.0zM212.0,317.0h2.0v2.0h-2.0zM278.1,211.8h2.0v2.0h-2.0zM208.7,320.1h2.0v2.0h-2.0zM230.1,272.0h2.0v2.0h-2.0zM250.7,268.9h2.0v2.0h-2.0zM386.3,143.2h1.8v1.8h-1.8zM275.2,233.2h2.0v2.0h-2.0zM292.6,206.1h2.0v2.0h-2.0zM199.7,323.0h2.0v2.0h-2.0zM370.8,145.7h1.9v1.9h-1.9zM298.6,214.8h2.0v2.0h-2.0zM268.5,184.7h2.0v2.0h-2.0zM254.1,272.6h2.0v2.0h-2.0zM202.9,275.2h2.0v2.0h-2.0zM161.3,322.9h2.0v2.0h-2.0zM320.3,164.2h2.0v2.0h-2.0zM262.9,257.3h2.0v2.0h-2.0zM274.6,236.3h2.0v2.0h-2.0zM202.8,311.2h2.0v2.0h-2.0zM328.9,182.2h2.0v2.0h-2.0zM361.8,149.1h1.9v1.9h-1.9zM314.3,163.9h2.0v2.0h-2.0zM433.8,122.0h1.7v1.7h-1.7zM395.2,122.1h1.8v1.8h-1.8zM173.0,313.9h2.0v2.0h-2.0zM346.8,157.8h1.9v1.9h-1.9zM223.8,254.4h2.0v2.0h-2.0zM205.8,280.9h2.0v2.0h-2.0zM458.4,107.4h1.6v1.6h-1.6zM308.1,182.4h2.0v2.0h-2.0zM287.1,223.9h2.0v2.0h-2.0zM203.0,254.0h2.0v2.0h-2.0zM299.1,179.0h2.0v2.0h-2.0zM280.7,205.9h2.0v2.0h-2.0zM185.0,296.3h2.0v2.0h-2.0zM214.8,233.1h2.0v2.0h-2.0zM346.8,157.9h1.9v1.9h-1.9zM317.1,178.8h2.0v2.0h-2.0zM256.9,260.3h2.0v2.0h-2.0zM368.4,182.4h1.9v1.9h-1.9zM290.1,188.1h2.0v2.0h-2.0zM521.1,59.6h1.5v1.5h-1.5zM275.2,242.1h2.0v2.0h-2.0zM122.2,323.0h2.0v2.0h-2.0zM254.1,209.1h2.0v2.0h-2.0zM131.4,304.7h2.0v2.0h-2.0zM146.2,323.9h2.0v2.0h-2.0zM205.7,244.9h2.0v2.0h-2.0zM317.4,182.3h2.0v2.0h-2.0zM226.7,296.4h2.0v2.0h-2.0zM221.6,239.2h2.0v2.0h-2.0zM287.3,196.6h2.0v2.0h-2.0zM377.0,151.9h1.8v1.8h-1.8zM323.0,163.7h2.0v2.0h-2.0zM161.1,314.1h2.0v2.0h-2.0zM184.8,275.1h2.0v2.0h-2.0zM245.0,200.4h2.0v2.0h-2.0zM569.7,43.9h1.5v1.5h-1.5zM250.6,247.9h2.0v2.0h-2.0zM248.2,221.0h2.0v2.0h-2.0zM400.8,134.4h1.8v1.8h-1.8zM161.0,328.9h2.0v2.0h-2.0zM419.2,137.7h1.7v1.7h-1.7zM224.2,260.0h2.0v2.0h-2.0zM271.9,166.5h2.0v2.0h-2.0zM229.9,224.0h2.0v2.0h-2.0zM403.9,121.6h1.8v1.8h-1.8zM268.4,221.0h2.0v2.0h-2.0zM311.1,142.7h2.0v2.0h-2.0zM235.9,278.0h2.0v2.0h-2.0zM308.4,194.0h2.0v2.0h-2.0zM410.4,122.1h1.7v1.7h-1.7zM208.8,289.9h2.0v2.0h-2.0zM277.8,293.3h2.0v2.0h-2.0zM455.4,107.1h1.6v1.6h-1.6zM323.4,181.5h2.0v2.0h-2.0zM316.9,181.7h2.0v2.0h-2.0zM140.1,319.6h2.0v2.0h-2.0zM185.2,347.1h2.0v2.0h-2.0zM221.1,263.0h2.0v2.0h-2.0zM244.7,272.1h2.0v2.0h-2.0zM200.2,319.7h2.0v2.0h-2.0zM380.0,143.0h1.8v1.8h-1.8zM175.9,275.1h2.0v2.0h-2.0zM172.9,218.3h2.0v2.0h-2.0zM199.9,296.1h2.0v2.0h-2.0zM329.0,170.1h2.0v2.0h-2.0zM262.7,236.2h2.0v2.0h-2.0zM307.9,178.9h2.0v2.0h-2.0zM332.0,179.4h2.0v2.0h-2.0zM205.8,296.1h2.0v2.0h-2.0zM215.3,262.9h2.0v2.0h-2.0zM335.1,173.3h2.0v2.0h-2.0zM316.9,193.8h2.0v2.0h-2.0zM413.3,113.0h1.7v1.7h-1.7zM269.1,257.0h2.0v2.0h-2.0zM233.1,295.9h2.0v2.0h-2.0zM275.0,193.6h2.0v2.0h-2.0zM271.8,220.8h2.0v2.0h-2.0zM134.3,317.0h2.0v2.0h-2.0zM194.2,286.7h2.0v2.0h-2.0zM326.4,188.0h2.0v2.0h-2.0zM263.2,245.0h2.0v2.0h-2.0zM149.4,302.0h2.0v2.0h-2.0zM206.0,278.2h2.0v2.0h-2.0zM188.1,244.7h2.0v2.0h-2.0zM370.6,149.3h1.9v1.9h-1.9zM206.3,205.5h2.0v2.0h-2.0zM263.2,239.5h2.0v2.0h-2.0zM413.3,118.8h1.7v1.7h-1.7zM221.3,256.9h2.0v2.0h-2.0zM284.0,238.7h2.0v2.0h-2.0zM431.5,113.1h1.7v1.7h-1.7zM172.8,307.9h2.0v2.0h-2.0zM268.8,220.7h2.0v2.0h-2.0zM373.9,143.5h1.9v1.9h-1.9zM346.8,164.2h1.9v1.9h-1.9zM268.9,224.0h2.0v2.0h-2.0zM275.1,239.2h2.0v2.0h-2.0zM293.0,169.9h2.0v2.0h-2.0zM248.1,239.1h2.0v2.0h-2.0zM235.8,344.3h2.0v2.0h-2.0zM203.3,296.0h2.0v2.0h-2.0zM416.5,122.4h1.7v1.7h-1.7zM320.2,161.0h2.0v2.0h-2.0zM268.6,239.3h2.0v2.0h-2.0zM386.3,194.2h1.8v1.8h-1.8zM311.6,169.6h2.0v2.0h-2.0zM242.1,320.1h2.0v2.0h-2.0zM344.2,181.8h1.9v1.9h-1.9zM263.3,227.6h2.0v2.0h-2.0zM344.6,151.8h1.9v1.9h-1.9zM302.0,220.9h2.0v2.0h-2.0zM238.6,316.5h2.0v2.0h-2.0zM194.1,317.2h2.0v2.0h-2.0zM266.2,277.9h2.0v2.0h-2.0zM158.3,323.2h2.0v2.0h-2.0zM362.1,157.8h1.9v1.9h-1.9zM292.9,197.1h2.0v2.0h-2.0zM205.8,305.0h2.0v2.0h-2.0zM200.2,328.8h2.0v2.0h-2.0zM295.7,179.1h2.0v2.0h-2.0zM221.1,317.3h2.0v2.0h-2.0zM277.9,226.7h2.0v2.0h-2.0zM298.8,179.4h2.0v2.0h-2.0zM323.3,191.4h2.0v2.0h-2.0zM395.3,139.8h1.8v1.8h-1.8zM332.5,143.1h2.0v2.0h-2.0zM200.1,322.9h2.0v2.0h-2.0zM554.1,59.2h1.5v1.5h-1.5zM262.7,205.7h2.0v2.0h-2.0zM410.7,131.4h1.7v1.7h-1.7zM215.2,248.2h2.0v2.0h-2.0zM362.2,131.4h1.9v1.9h-1.9zM212.2,260.2h2.0v2.0h-2.0zM286.7,200.5h2.0v2.0h-2.0zM251.3,253.7h2.0v2.0h-2.0zM196.9,284.2h2.0v2.0h-2.0zM506.0,71.5h1.5v1.5h-1.5zM182.2,271.9h2.0v2.0h-2.0zM302.1,185.1h2.0v2.0h-2.0zM217.9,253.9h2.0v2.0h-2.0zM316.5,181.8h2.0v2.0h-2.0zM259.9,193.8h2.0v2.0h-2.0zM208.9,260.1h2.0v2.0h-2.0zM259.8,203.3h2.0v2.0h-2.0zM211.9,250.9h2.0v2.0h-2.0zM254.0,245.0h2.0v2.0h-2.0zM293.0,164.3h2.0v2.0h-2.0zM290.1,194.2h2.0v2.0h-2.0zM181.8,299.0h2.0v2.0h-2.0zM341.0,160.8h2.0v2.0h-2.0zM446.3,116.2h1.6v1.6h-1.6zM223.9,274.9h2.0v2.0h-2.0zM389.4,143.0h1.8v1.8h-1.8zM217.5,302.3h2.0v2.0h-2.0zM302.4,229.8h2.0v2.0h-2.0zM278.1,158.1h2.0v2.0h-2.0zM403.9,122.3h1.8v1.8h-1.8zM203.1,284.2h2.0v2.0h-2.0zM227.3,272.5h2.0v2.0h-2.0zM158.0,340.6h2.0v2.0h-2.0zM245.2,211.7h2.0v2.0h-2.0zM382.9,146.8h1.8v1.8h-1.8zM212.0,317.1h2.0v2.0h-2.0zM193.8,275.1h2.0v2.0h-2.0zM317.1,175.7h2.0v2.0h-2.0zM278.4,272.1h2.0v2.0h-2.0zM587.3,47.3h1.5v1.5h-1.5zM275.2,248.4h2.0v2.0h-2.0zM329.2,157.6h2.0v2.0h-2.0zM268.7,194.3h2.0v2.0h-2.0zM230.0,257.0h2.0v2.0h-2.0zM154.7,265.7h2.0v2.0h-2.0zM268.8,226.8h2.0v2.0h-2.0zM244.9,334.4h2.0v2.0h-2.0zM302.3,184.6h2.0v2.0h-2.0zM335.6,151.7h2.0v2.0h-2.0zM265.9,176.2h2.0v2.0h-2.0zM293.0,197.4h2.0v2.0h-2.0zM238.9,241.5h2.0v2.0h-2.0zM334.9,155.2h2.0v2.0h-2.0zM422.0,119.2h1.7v1.7h-1.7zM239.2,278.1h2.0v2.0h-2.0zM382.9,146.3h1.8v1.8h-1.8zM188.0,335.5h2.0v2.0h-2.0zM301.7,190.6h2.0v2.0h-2.0zM313.9,176.3h2.0v2.0h-2.0zM527.4,77.6h1.5v1.5h-1.5zM212.0,289.7h2.0v2.0h-2.0zM317.1,175.8h2.0v2.0h-2.0zM311.1,158.2h2.0v2.0h-2.0zM301.9,205.6h2.0v2.0h-2.0zM254.0,248.1h2.0v2.0h-2.0zM149.0,311.3h2.0v2.0h-2.0zM244.9,232.6h2.0v2.0h-2.0zM376.6,137.2h1.8v1.8h-1.8zM227.6,256.9h2.0v2.0h-2.0zM335.1,161.1h2.0v2.0h-2.0zM229.9,295.9h2.0v2.0h-2.0zM337.8,149.2h2.0v2.0h-2.0zM326.3,196.8h2.0v2.0h-2.0zM116.2,290.2h2.0v2.0h-2.0zM164.6,266.0h2.0v2.0h-2.0zM265.6,205.3h2.0v2.0h-2.0zM350.1,158.3h1.9v1.9h-1.9zM194.1,311.1h2.0v2.0h-2.0zM158.2,310.8h2.0v2.0h-2.0zM325.3,173.3h2.0v2.0h-2.0zM350.0,146.3h1.9v1.9h-1.9zM578.4,38.0h1.5v1.5h-1.5zM191.1,346.6h2.0v2.0h-2.0zM211.5,287.0h2.0v2.0h-2.0zM247.9,284.0h2.0v2.0h-2.0zM184.7,301.8h2.0v2.0h-2.0zM319.9,188.4h2.0v2.0h-2.0zM326.3,158.2h2.0v2.0h-2.0zM295.9,175.9h2.0v2.0h-2.0zM224.3,292.9h2.0v2.0h-2.0zM392.6,128.3h1.8v1.8h-1.8zM287.2,223.5h2.0v2.0h-2.0zM238.9,238.2h2.0v2.0h-2.0zM254.2,184.9h2.0v2.0h-2.0zM259.5,194.2h2.0v2.0h-2.0zM272.0,179.1h2.0v2.0h-2.0zM170.0,340.6h2.0v2.0h-2.0zM211.8,227.0h2.0v2.0h-2.0zM236.2,239.1h2.0v2.0h-2.0zM257.3,244.9h2.0v2.0h-2.0zM172.8,293.1h2.0v2.0h-2.0zM248.1,232.9h2.0v2.0h-2.0z"/>
<path fill="#20c0d0" fill-opacity="0.40" d="M298.5,199.8h2.2v2.2h-2.2zM272.1,197.2h2.2v2.2h-2.2zM305.1,200.5h2.2v2.2h-2.2zM370.9,142.9h2.1v2.1h-2.1zM316.8,185.0h2.2v2.2h-2.2zM181.7,337.8h2.2v2.2h-2.2zM416.1,134.2h1.9v1.9h-1.9zM175.9,319.5h2.2v2.2h-2.2zM310.7,203.1h2.2v2.2h-2.2zM223.9,265.6h2.2v2.2h-2.2zM197.4,299.2h2.2v2.2h-2.2zM271.8,241.8h2.2v2.2h-2.2zM292.4,233.1h2.2v2.2h-2.2zM262.5,253.8h2.2v2.2h-2.2zM290.1,242.0h2.2v2.2h-2.2zM236.1,257.2h2.2v2.2h-2.2zM457.8,106.9h1.8v1.8h-1.8zM247.9,233.1h2.2v2.2h-2.2zM224.0,305.2h2.2v2.2h-2.2zM304.7,175.7h2.2v2.2h-2.2zM335.0,172.8h2.2v2.2h-2.2zM422.0,130.7h1.9v1.9h-1.9zM239.1,262.7h2.2v2.2h-2.2zM457.9,103.7h1.8v1.8h-1.8zM236.3,247.6h2.2v2.2h-2.2zM187.8,328.8h2.2v2.2h-2.2zM247.7,263.0h2.2v2.2h-2.2zM149.1,302.5h2.2v2.2h-2.2zM361.7,154.8h2.1v2.1h-2.1zM160.7,307.7h2.2v2.2h-2.2zM268.5,203.0h2.2v2.2h-2.2zM541.9,58.9h1.7v1.7h-1.7zM314.0,161.1h2.2v2.2h-2.2zM317.1,191.1h2.2v2.2h-2.2zM194.0,296.0h2.2v2.2h-2.2zM292.7,212.2h2.2v2.2h-2.2zM283.7,224.1h2.2v2.2h-2.2zM304.7,178.5h2.2v2.2h-2.2zM124.9,304.8h2.2v2.2h-2.2zM164.1,304.6h2.2v2.2h-2.2zM161.2,322.4h2.2v2.2h-2.2zM272.0,223.9h2.2v2.2h-2.2zM214.6,268.8h2.2v2.2h-2.2zM269.3,221.0h2.2v2.2h-2.2zM277.9,214.7h2.2v2.2h-2.2zM328.8,178.9h2.2v2.2h-2.2zM389.3,130.7h2.0v2.0h-2.0zM188.1,323.2h2.2v2.2h-2.2zM214.6,272.0h2.2v2.2h-2.2zM202.6,220.8h2.2v2.2h-2.2zM236.3,256.9h2.2v2.2h-2.2zM181.9,265.5h2.2v2.2h-2.2zM328.3,176.0h2.2v2.2h-2.2zM317.0,176.0h2.2v2.2h-2.2zM388.6,125.2h2.0v2.0h-2.0zM317.1,190.8h2.2v2.2h-2.2zM407.3,137.1h1.9v1.9h-1.9zM208.5,277.8h2.2v2.2h-2.2zM232.5,283.8h2.2v2.2h-2.2zM503.0,80.1h1.7v1.7h-1.7zM226.7,328.6h2.2v2.2h-2.2zM574.8,47.1h1.7v1.7h-1.7zM199.7,325.8h2.2v2.2h-2.2zM239.3,260.2h2.2v2.2h-2.2zM301.6,170.0h2.2v2.2h-2.2zM358.8,148.5h2.1v2.1h-2.1zM268.7,283.7h2.2v2.2h-2.2zM202.8,292.7h2.2v2.2h-2.2zM421.9,127.9h1.9v1.9h-1.9zM208.9,310.8h2.2v2.2h-2.2zM379.9,151.9h2.0v2.0h-2.0zM233.4,298.8h2.2v2.2h-2.2zM157.8,322.9h2.2v2.2h-2.2zM239.0,224.0h2.2v2.2h-2.2zM451.8,110.3h1.8v1.8h-1.8zM188.2,316.9h2.2v2.2h-2.2zM304.3,170.5h2.2v2.2h-2.2zM154.7,313.6h2.2v2.2h-2.2zM388.8,131.0h2.0v2.0h-2.0zM337.9,143.2h2.2v2.2h-2.2zM172.8,349.8h2.2v2.2h-2.2zM175.9,283.8h2.2v2.2h-2.2zM356.1,151.8h2.1v2.1h-2.1zM334.7,178.9h2.2v2.2h-2.2zM343.7,157.6h2.2v2.2h-2.2zM214.9,247.9h2.2v2.2h-2.2zM307.9,190.8h2.2v2.2h-2.2zM328.4,184.5h2.2v2.2h-2.2zM355.7,149.1h2.1v2.1h-2.1zM358.5,244.3h2.1v2.1h-2.1zM181.9,320.1h2.2v2.2h-2.2zM454.8,110.4h1.8v1.8h-1.8zM295.8,202.8h2.2v2.2h-2.2zM250.6,227.0h2.2v2.2h-2.2zM116.0,332.1h2.2v2.2h-2.2zM260.4,220.9h2.2v2.2h-2.2zM494.0,86.5h1.7v1.7h-1.7zM217.8,316.9h2.2v2.2h-2.2zM260.1,221.0h2.2v2.2h-2.2zM422.2,125.1h1.9v1.9h-1.9zM515.2,70.8h1.7v1.7h-1.7zM325.9,157.2h2.2v2.2h-2.2zM254.1,262.7h2.2v2.2h-2.2zM386.1,145.9h2.0v2.0h-2.0zM203.1,320.2h2.2v2.2h-2.2zM514.8,76.9h1.7v1.7h-1.7zM256.7,218.0h2.2v2.2h-2.2zM328.8,170.1h2.2v2.2h-2.2zM257.1,218.0h2.2v2.2h-2.2zM584.1,37.5h1.7v1.7h-1.7zM317.0,172.9h2.2v2.2h-2.2zM250.8,191.1h2.2v2.2h-2.2zM373.8,137.0h2.1v2.1h-2.1zM374.1,212.8h2.0v2.0h-2.0zM332.0,179.2h2.2v2.2h-2.2zM241.7,292.8h2.2v2.2h-2.2zM293.4,169.8h2.2v2.2h-2.2zM449.1,98.4h1.8v1.8h-1.8zM449.0,110.1h1.8v1.8h-1.8zM229.9,251.2h2.2v2.2h-2.2zM452.4,107.1h1.8v1.8h-1.8zM239.0,272.0h2.2v2.2h-2.2zM520.8,71.2h1.7v1.7h-1.7zM371.1,140.5h2.1v2.1h-2.1zM467.3,97.9h1.7v1.7h-1.7zM244.8,266.1h2.2v2.2h-2.2zM301.7,178.9h2.2v2.2h-2.2zM187.9,274.5h2.2v2.2h-2.2zM478.9,92.1h1.7v1.7h-1.7zM560.4,50.1h1.7v1.7h-1.7zM241.9,295.8h2.2v2.2h-2.2zM361.9,155.2h2.1v2.1h-2.1zM196.8,322.9h2.2v2.2h-2.2zM386.3,137.1h2.0v2.0h-2.0zM149.0,316.5h2.2v2.2h-2.2zM373.7,130.6h2.1v2.1h-2.1zM370.5,142.6h2.1v2.1h-2.1zM491.6,92.3h1.7v1.7h-1.7zM311.0,193.7h2.2v2.2h-2.2zM226.7,263.2h2.2v2.2h-2.2zM227.0,226.5h2.2v2.2h-2.2zM193.7,305.0h2.2v2.2h-2.2zM289.9,214.8h2.2v2.2h-2.2z"/></g>
<!-- reference lines -->
<line x1="94" x2="614" y1="92.5" y2="92.5" stroke="#5c5c5c" stroke-width="1.0"/>
<line x1="94" x2="614" y1="161.4" y2="161.4" stroke="#ffe0f0" stroke-width="1"/><line x1="94" x2="614" y1="160.5" y2="160.5" stroke="#de345c" stroke-width="1.05"/>
<line x1="94" x2="614" y1="238.4" y2="238.4" stroke="#b4f8e0" stroke-width="1.2"/><line x1="94" x2="614" y1="239.5" y2="239.5" stroke="#149a56" stroke-width="1.1"/>
<line x1="270.2" x2="270.2" y1="25" y2="367" stroke="#245c2a" stroke-width="2.1"/>
<line x1="353.6" x2="353.6" y1="25" y2="367" stroke="#ffdcee" stroke-width="1"/><line x1="354.5" x2="354.5" y1="25" y2="367" stroke="#da4278" stroke-width="1.05"/>
<line x1="482.4" x2="482.4" y1="25" y2="367" stroke="#838383" stroke-width="2.8"/>
<!-- fitted curves -->
<path d="M108.4,302.3C112.7,302.4 125.4,302.8 134.0,303.0C142.6,303.2 152.3,303.4 160.0,303.4C167.7,303.4 174.7,303.5 180.0,302.8C185.3,302.1 187.7,300.7 192.0,299.0C196.3,297.3 201.4,294.9 205.7,292.5C210.0,290.1 213.7,287.8 218.0,284.5C222.3,281.2 227.1,277.0 231.4,273.0C235.7,269.0 239.7,264.4 244.0,260.5C248.3,256.6 252.6,253.2 257.0,249.5C261.4,245.8 265.0,243.5 270.6,238.5C276.2,233.5 282.0,227.5 290.4,219.5C298.8,211.5 313.6,197.0 320.7,190.5C327.8,184.0 327.6,184.4 332.7,180.5C337.8,176.6 343.9,172.1 351.0,167.0C358.1,161.9 367.4,155.2 375.3,150.0C383.2,144.8 391.6,139.9 398.2,136.0C404.8,132.1 406.7,130.8 414.6,126.6C422.5,122.4 434.1,116.3 445.4,110.8C456.7,105.3 471.5,98.6 482.4,93.4C493.3,88.2 500.6,84.5 510.8,79.7C521.0,75.0 532.6,69.9 543.5,64.9C554.4,59.9 566.0,54.3 576.0,49.6C586.0,44.9 598.8,38.7 603.3,36.5" fill="none" stroke="#e8141e" stroke-width="1.3" stroke-linecap="round"/>
<path d="M108.0,313.6C112.3,313.4 127.0,313.0 134.0,312.3C141.0,311.6 144.8,310.6 150.0,309.5C155.2,308.4 160.0,307.1 165.0,305.5C170.0,303.9 174.9,301.9 180.0,300.0C185.1,298.1 189.4,296.8 195.4,293.8C201.4,290.8 210.0,286.5 216.0,282.0C222.0,277.5 226.3,272.1 231.4,266.8C236.5,261.5 242.5,254.7 246.8,250.0C251.1,245.3 253.0,243.3 257.0,238.6C261.0,233.9 265.0,228.3 270.6,222.0C276.2,215.7 282.0,208.6 290.4,201.0C298.8,193.4 313.6,182.1 320.7,176.5C327.8,170.9 327.6,170.6 332.7,167.5C337.8,164.4 342.9,162.2 351.0,158.0C359.1,153.8 373.4,146.6 381.5,142.5C389.6,138.4 394.2,136.2 399.7,133.3C405.2,130.4 407.0,129.2 414.6,125.3C422.2,121.4 434.1,115.3 445.4,109.8C456.7,104.3 471.5,97.6 482.4,92.4C493.3,87.2 500.6,83.5 510.8,78.7C521.0,74.0 532.6,68.9 543.5,63.9C554.4,58.9 566.0,53.3 576.0,48.6C586.0,43.9 598.8,37.7 603.3,35.5" fill="none" stroke="#2a2af0" stroke-width="1.3" stroke-linecap="round"/>
<line x1="108.4" x2="134" y1="302.4" y2="303" stroke="#f04050" stroke-opacity="0.55" stroke-width="2.2"/>
<line x1="134" x2="186" y1="303.1" y2="303.3" stroke="#ee1c2c" stroke-width="2.6" stroke-linecap="round"/>
<line x1="108" x2="134" y1="313.7" y2="312.4" stroke="#4848f0" stroke-width="2.8"/>
<line x1="134" x2="147" y1="312.4" y2="310.4" stroke="#3030c8" stroke-width="2"/>
<!-- axes -->
<g stroke="#303030" stroke-width="1.15">
<line x1="94" x2="94" y1="25" y2="367.8"/>
<line x1="93.4" x2="617.3" y1="367.2" y2="367.2"/>
<line x1="86.5" x2="94" y1="40.3" y2="40.3"/><line x1="86.5" x2="94" y1="81.0" y2="81.0"/><line x1="86.5" x2="94" y1="118.7" y2="118.7"/><line x1="86.5" x2="94" y1="159.5" y2="159.5"/><line x1="86.5" x2="94" y1="196.2" y2="196.2"/><line x1="86.5" x2="94" y1="238.0" y2="238.0"/><line x1="86.5" x2="94" y1="275.4" y2="275.4"/><line x1="86.5" x2="94" y1="315.8" y2="315.8"/><line x1="110.6" x2="110.6" y1="367.2" y2="374.2"/><line x1="195.2" x2="195.2" y1="367.2" y2="374.2"/><line x1="270.8" x2="270.8" y1="367.2" y2="374.2"/><line x1="355.3" x2="355.3" y1="367.2" y2="374.2"/><line x1="435.7" x2="435.7" y1="367.2" y2="374.2"/><line x1="521.5" x2="521.5" y1="367.2" y2="374.2"/><line x1="599.2" x2="599.2" y1="367.2" y2="374.2"/>
</g>
<g font-size="19.8px" fill="#000"><text x="81.2" y="47.6" text-anchor="end">10000</text><text x="81.2" y="88.3" text-anchor="end">3000</text><text x="81.2" y="126.0" text-anchor="end">1000</text><text x="81.2" y="166.8" text-anchor="end">300</text><text x="81.2" y="203.5" text-anchor="end">100</text><text x="81.2" y="245.3" text-anchor="end">30</text><text x="81.2" y="282.7" text-anchor="end">10</text><text x="81.2" y="323.1" text-anchor="end">3</text><text x="111.2" y="393.9" text-anchor="middle">15</text><text x="195.8" y="393.9" text-anchor="middle">50</text><text x="271.4" y="393.9" text-anchor="middle">150</text><text x="355.9" y="393.9" text-anchor="middle">500</text><text x="436.3" y="393.9" text-anchor="middle">1500</text><text x="522.1" y="393.9" text-anchor="middle">5000</text><text x="599.8" y="393.9" text-anchor="middle">15000</text></g>
<text x="58.2" y="13.2" font-size="18.4px">(mg/g)</text>
<text x="624.4" y="373.6" font-size="18.4px">(mg/g)</text>
<text x="357.4" y="424.4" font-size="20.2px" text-anchor="middle">Measured PCR</text>
<text transform="translate(19.3,208.4) rotate(-90)" font-size="20.2px" text-anchor="middle">Measured ACR</text>
<!-- legend -->
<rect x="624.6" y="34.6" width="143.6" height="51.6" fill="#fff" stroke="#555050" stroke-width="1.5"/>
<line x1="639" x2="677.6" y1="49" y2="49" stroke="#c8202c" stroke-width="4"/>
<line x1="639" x2="677.6" y1="68.8" y2="68.8" stroke="#1c1c9c" stroke-width="4"/>
<text x="688.3" y="54.6" font-size="17.5px">Females</text>
<text x="688.3" y="74.6" font-size="17.5px">Males</text>
</svg>
</body></html>
